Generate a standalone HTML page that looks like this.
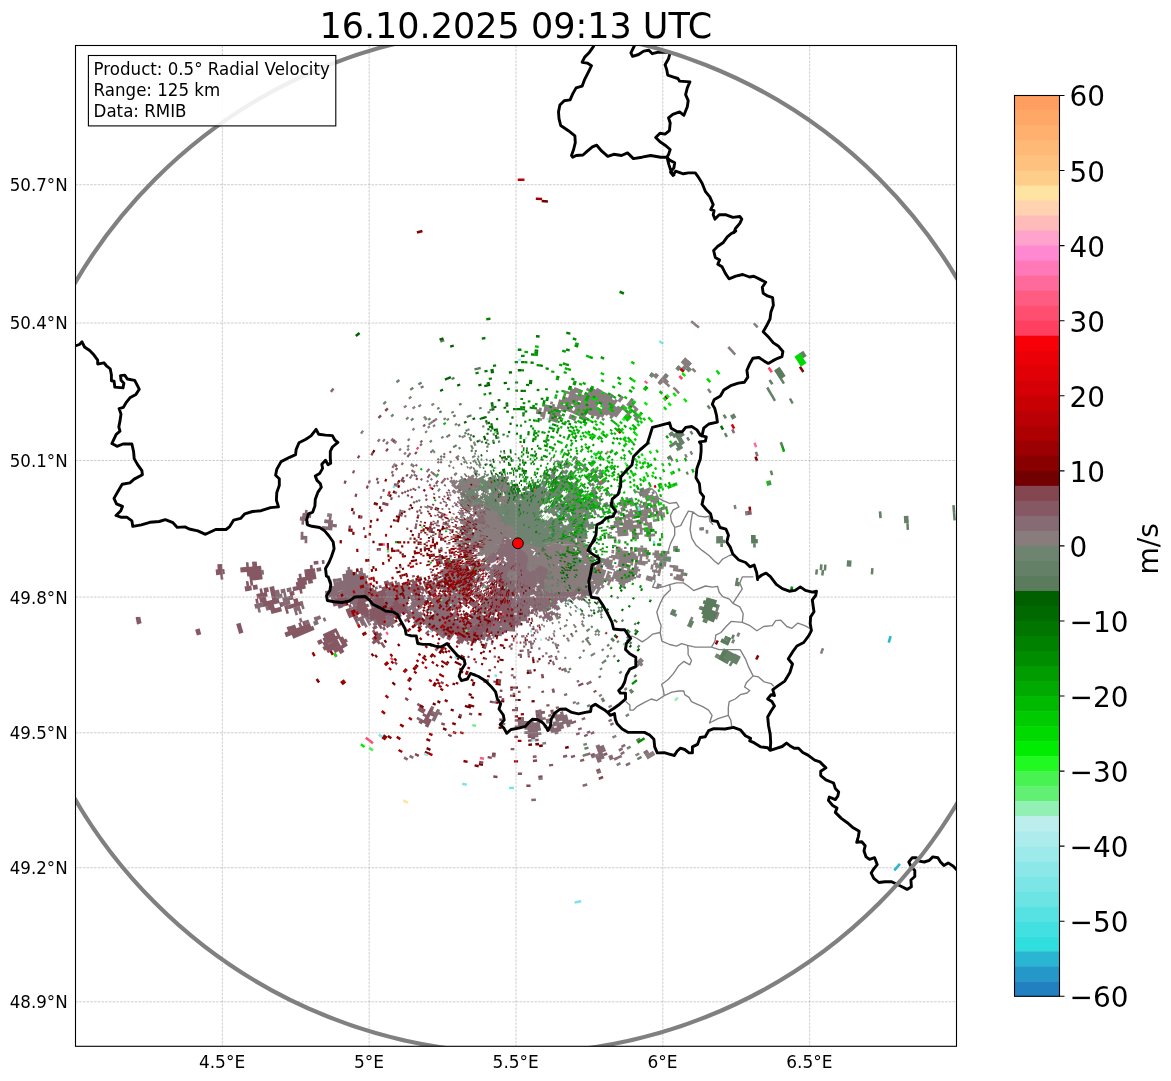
<!DOCTYPE html>
<html lang="en"><head><meta charset="utf-8"><title>Radial Velocity 16.10.2025 09:13 UTC</title>
<style>html,body{margin:0;padding:0;background:#fff}body{width:1171px;height:1081px;overflow:hidden}svg{display:block}text{font-family:"DejaVu Sans", "Liberation Sans", sans-serif;fill:#000}</style></head><body>
<svg width="1171" height="1081" viewBox="0 0 1171 1081">
<rect width="1171" height="1081" fill="#fff"/>
<defs><clipPath id="ax"><rect x="75.5" y="45.5" width="881.0" height="1000.8"/></clipPath></defs>
<g clip-path="url(#ax)">
<g fill="none">
<path d="M504.3 581.6l-0.9 2.5M503.7 581.4l-1 2.5M503 581.1l-1 2.5M502.3 580.9l-1 2.4M501.7 580.6l-1.1 2.4M501.9 578.4l-2 4.3M500.4 580l-1.1 2.4M499.8 579.7l-1.2 2.4M500.1 577.5l-2.2 4.2M498.5 579l-1.3 2.4M498.9 576.9l-2.3 4.1M498.3 576.6l-2.4 4" stroke="#865864" stroke-width="1.30"/>
<path d="M513.8 610.5l-0.3 4.6M512.8 608.3l-0.5 6.8M511.8 606.2l-0.8 8.7M511 604l-1.2 10.8M509.9 603.9l-1.4 10.8M509.2 601.7l-1.9 12.8M508.5 599.6l-2.5 14.7M507.5 599.4l-2.7 14.7M506.5 599.2l-3 14.6M506 597l-3.7 16.6M507.5 586.8l-5.9 24.5M506.7 586.6l-6.3 24.4M506.5 584.5l-7.8 28.2M505.8 584.2l-8.3 28.1M505.1 584l-8.8 27.9M504.3 583.8l-9.2 27.8M503.6 583.6l-9.7 27.6M502.9 583.3l-5.9 15.9M496.5 600.6l-3.8 10.1M502.2 583l-6.2 15.8M495.5 600.2l-3.2 8.2M501.6 582.8l-1.8 4.3M499.2 588.4l-6.5 15.7M500.9 582.5l-1.9 4.3M498.4 588.1l-5.9 13.7M500.2 582.2l-2 4.2M497.6 587.8l-6.2 13.5M499.5 581.8l-1.1 2.4M496.9 587.4l-2.9 6.1M493.3 594.8l-2.9 6.1M496.1 587l-3.9 7.9M490.6 598l-1.2 2.4M498.2 581.2l-1.2 2.3M495.3 586.6l-5 9.6M497.5 580.8l-1.2 2.4M495.6 584.4l-7.2 13.2M496.9 580.5l-1.3 2.3M494.9 584l-2.4 4.1M491.8 589.4l-1.3 2.3M489.8 592.9l-1.3 2.4M496.2 580.1l-1.3 2.3M493.1 585.4l-2.4 4M488.9 592.5l-1.3 2.2M492.4 585l-2.5 4M488.1 591.9l-1.4 2.3M493.9 581l-1.5 2.3M489.5 588l-1.5 2.2M487.3 591.4l-1.5 2.2M493.2 580.6l-1.5 2.2M489.8 585.7l-1.5 2.3M493.7 578.5l-2.6 3.9" stroke="#865864" stroke-width="1.30"/>
<path d="M517.2 618.8l0 8.8M516 616.7l-0.3 8.8M514.8 614.6l-0.7 14.9M513.5 614.5l-0.7 12.9M512.3 614.5l-1 12.8M511.1 614.4l-1.1 10.7M509.8 614.2l-1.2 10.8M508.6 614.1l-1.2 8.7M507.3 613.9l-1.6 10.7M506.1 613.7l-1.4 8.7M504.9 613.5l-1.6 8.6M503.7 613.2l-1.8 8.7M502.5 613l-2.4 10.6M501.2 612.7l-1.5 6.6M499.3 620.7l-0.6 2.5M500 612.4l-2.7 10.5M497.2 618l-1.3 4.5M495.9 617.6l-1.4 4.5M494.6 617.2l-2.7 8.4M495.3 611l-4.8 14.2M494.1 610.6l-1.6 4.4M492 616.4l-5 14.1M492.9 610.2l-1.6 4.4M490 617.8l-5.2 14M483.6 635.1l-0.9 2.5M491 611.6l-10 25.3M487.4 616.8l-8 19.5M485.4 618.2l-7.6 17.4M484.1 617.6l-7.9 17.3M481.9 618.8l-7.3 15.3M478.7 621.8l-5.7 11.6M476.4 623l-5 9.6M473.1 625.8l-3.2 6M470.6 626.8l-2.3 4.1M469.2 626l-2.4 4M466.7 626.9l-1.4 2.2M465.2 626l-1.4 2.2M475.3 603.1l-1.6 2.1M475.4 600.7l-4 5.4M474.4 599.9l-4.1 5.4M472.2 600.8l-2.9 3.6M471.2 600l-1.7 2M467.3 604.7l-1.7 2M467.6 602.2l-3.1 3.6M467.9 599.8l-4.5 5.1M462.5 606l-3.2 3.5M468.3 597.4l-1.8 2M464.1 602l-1.7 1.9M467.4 596.6l-1.9 1.9M460.3 604l-3.2 3.4M465 597.1l-3.3 3.4M459.3 603l-1.9 1.9M462.6 597.6l-4.8 4.8M437.1 598.8l-2.1 1.5M436.2 597.4l-2.2 1.5M436.1 593.4l-4 2.5M437 591l-5.8 3.4M436.2 589.5l-5.9 3.4M437.2 587.1l-7.8 4.2M434.6 586.7l-4.2 2.1M433.9 585.2l-4.2 2.1M431.3 584.6l-4.2 2M430.6 583.1l-4.3 1.9M428 582.4l-2.4 1" stroke="#865864" stroke-width="1.70"/>
<path d="M486.6 642.6l-1.4 4.5M482.9 637l-1 2.5M481.4 640.9l-0.9 2.4M481.2 636.4l-1.7 4.4M479.6 635.7l-1.8 4.4M478 635.1l-1.9 4.3M475.6 640.7l-1.1 2.4M476.4 634.3l-3.6 8M474.8 633.6l-3.8 7.9M473.3 632.8l-4 7.9M468.7 642l-1.2 2.4M471.7 632l-5 9.7M470.2 631.2l-5.2 9.6M468.6 630.4l-7.3 13M467.1 629.5l-8.6 14.6M465.6 628.6l-8.9 14.5M464.1 627.7l-6.9 10.9M462.7 626.7l-4.9 7.4M461.2 625.8l-4.9 7.2M459.8 624.8l-11.1 15.4M458.4 623.7l-11.3 15.3M457 622.7l-10.3 13.5M455.6 621.6l-11.8 14.9M454.3 620.5l-12.1 14.7M451.6 620.9l-9.7 11.4M450.2 619.8l-9.9 11.2M447.5 620.1l-7.3 8M436.3 629.2l-1.8 2M436.3 626.3l-4.7 4.9M434.9 624.9l-4.9 4.7M429 630.7l-3.3 3.2M432 624.9l-3.5 3.2M429 624.7l-3.4 3.2M421.6 625.6l-2 1.7M434.5 598.5l-2.2 1.5M431.8 598.2l-2.2 1.4M430.8 596.6l-4 2.5M431.7 594.1l-4.1 2.4M426.4 597.2l-5.8 3.4M430.8 592.6l-2.3 1.3M425.5 595.6l-5.9 3.3M418.3 599.6l-2.3 1.3M428.2 592l-2.4 1.3M422.8 594.9l-9.6 5.2M427.3 590.4l-2.3 1.3M423.7 592.3l-2.3 1.3M420.1 594.2l-6 3.1M426.5 588.9l-4.2 2.1M421 591.6l-9.7 4.8M423.9 588.1l-11.6 5.6M426.9 584.8l-2.5 1.1M423.1 586.5l-11.7 5.3M426.1 583.2l-2.4 1.1M420.5 585.6l-9.9 4.4M417.9 584.7l-8.1 3.4M421 581.5l-2.5 0.9M417.2 583l-6.3 2.4M420.3 579.8l-8.2 3.1M421.7 577.4l-4.5 1.5M413.9 580.1l-6.3 2.3M419.1 576.3l-2.5 0.9M414.7 575.8l-2.6 0.8" stroke="#865864" stroke-width="2.20"/>
<path d="M410.1 617.4l-5.5 3.8M410.6 614.3l-4 2.6M393.5 625.7l-2.2 1.4M409.3 612.5l-2.2 1.4M388.6 625.7l-2.2 1.4M408.1 610.6l-5.7 3.5M401.2 614.8l-5.8 3.6M385.4 624.5l-2.2 1.4M407 608.6l-14.6 8.7M384 622.1l-2.2 1.4M405.9 606.7l-16.6 9.4M386.3 617.8l-5.9 3.3M403 605.7l-23.9 13M401.9 603.7l-24.1 12.6M399 602.6l-22.5 11.2M398 600.5l-6.1 2.9M386.9 605.8l-11.6 5.5M385.9 603.5l-11.8 5.3M384.8 601.2l-9.9 4.3M385.7 598l-11.9 5M386.7 595l-13.9 5.5M385.8 592.7l-15.9 5.9M386.9 589.7l-17.9 6.3M386.1 587.4l-4.4 1.5M376.4 590.6l-8.3 2.8M393.2 582.6l-6.5 2.1M381.5 586.3l-2.6 0.8M377.6 587.6l-2.6 0.7M373.6 588.8l-6.4 2M388.6 581.6l-4.5 1.3M370.9 586.8l-4.5 1.4M370.2 584.3l-4.5 1.2" stroke="#865864" stroke-width="2.70"/>
<path d="M384.9 645.4l-2.1 1.6M383.1 643l-2.1 1.6M379.8 641.8l-2.2 1.6M381.4 637.1l-8.9 6.1M381.5 633.6l-9 5.9M385.2 627.9l-2.3 1.4M376.5 633.4l-2.2 1.4M382 626.6l-2.3 1.4M375 630.9l-2.3 1.4M382.3 623.2l-4.1 2.4M377 626.3l-4.1 2.4M380.9 620.8l-4.1 2.3M379.6 618.4l-4.1 2.2M378.3 616l-7.8 4M377 613.5l-9.7 4.9M375.8 611.1l-11.6 5.5M357.4 619.9l-2.4 1.1M374.7 608.6l-13.6 6.2M357.9 616.2l-4.3 2M367.9 608.5l-13.7 6M352.9 615l-4.3 1.9M368.7 605.1l-21.4 8.9M365.7 603.2l-10 4M350.5 609.2l-4.4 1.8M368.6 599.1l-12.1 4.6M351.3 605.6l-2.5 0.9M369.5 595.8l-12.1 4.3M346.4 604l-4.5 1.6M368.6 593.2l-8.3 2.8M349.2 599.7l-8.3 2.8M367.8 590.6l-4.5 1.4M348.3 596.8l-8.4 2.6M367 588l-2.6 0.8M341.5 595.6l-2.6 0.7" stroke="#865864" stroke-width="3.20"/>
<path d="M536.7 738.7l0.3 2.6M533.1 737l0.2 2.6M529.6 735.2l0.2 2.6M433 713.5l-1.1 2.4M430.3 719l-3.9 7.9M432 708.3l-7.9 15.1M425.2 714l-1.3 2.3M422.3 719.4l-2.3 4.1M424.3 708.8l-2.4 4.1M422.4 705.4l-3.4 5.8M419.6 703.7l-1.4 2.3M343.5 650.2l-4 2.4M336.6 654.4l-2.3 1.4M347 644l-12.9 7.6M347 640l-5.8 3.3M339.9 644l-9.4 5.3M343.6 637.9l-4.1 2.3M338.2 640.9l-9.5 5.2M340.1 635.8l-13.2 6.9M338.6 632.7l-2.4 1.2M334.9 634.5l-9.7 4.9M337 629.6l-13.5 6.4M342.5 605.4l-4.4 1.6M341.4 602.3l-8.3 2.8M340.4 599.3l-6.4 2M339.5 596.1l-2.5 0.8M331.6 581.2l-2.6 0.5M312.8 581.3l-4.6 0.9M316.2 577.1l-10.7 1.7M315.6 573.5l-10.7 1.6M321.2 569.2l-4.6 0.6M315.1 570l-10.7 1.4M312.7 566.7l-2.7 0.3M324.5 561.9l-2.6 0.3M318.4 562.5l-4.7 0.5" stroke="#865864" stroke-width="3.70"/>
<path d="M604.8 753l1 2.5M331 649l-4.1 2.4M329.2 645.8l-5.9 3.2M327.4 642.5l-4.1 2.1M325.7 639.1l-2.3 1.2M322.1 640.9l-4.2 2.1M313.8 627.8l-21.3 8.9M310.5 625l-19.6 7.7M305.2 622.8l-2.4 0.9M301.4 624.2l-2.5 1M295.7 626.4l-6.4 2.4M288.4 611.3l-2.5 0.7M301.1 603.4l-12.4 3.5M287.3 607.3l-2.6 0.7M298.1 600.1l-4.5 1.2M293.2 597.3l-2.6 0.6M302.3 591.1l-2.6 0.6M294.3 592.9l-4.6 1M305.5 586.5l-12.7 2.6M306.8 582.4l-10.7 2M306.1 578.7l-8.7 1.5M301.5 575.6l-2.7 0.4" stroke="#865864" stroke-width="4.20"/>
<path d="M291.4 632.5l-6.2 2.5M289.9 628.5l-2.5 1M281.4 608.9l-10.5 2.9M282.2 604.2l-2.5 0.7M274.3 606.3l-6.5 1.7M279.2 600.6l-16.5 4M276.3 596.9l-4.6 1M266.3 599.1l-6.6 1.4M258.3 600.9l-2.6 0.5M275.4 592.6l-4.6 1M267.3 594.3l-10.6 2.1M274.5 588.4l-4.6 0.9M268.5 589.5l-4.6 0.9M262.5 590.6l-2.6 0.5M257.6 586.9l-4.6 0.7M251.6 587.9l-2.6 0.4M252.9 582.9l-2.7 0.4M262.4 576.9l-12.8 1.7M261.8 572.5l-14.8 1.7M261.3 568l-14.8 1.4M256.9 563.8l-4.7 0.4M248.7 564.5l-2.6 0.2" stroke="#865864" stroke-width="4.70"/>
<path d="M249.5 588.2l-4.6 0.8M248.8 583.5l-2.6 0.4M223.1 576.9l-2.6 0.3M247.1 569.4l-6.7 0.6M224.6 571.5l-6.7 0.7M222.2 566.6l-4.7 0.3" stroke="#865864" stroke-width="5.20"/>
<path d="M218.5 572.1l-2.6 0.3" stroke="#865864" stroke-width="5.70"/>
<path d="M524.4 550.9l1.7 2M524.2 551l3 3.6M522.8 549.5l4.2 5.3M522.7 549.6l4.1 5.3M522.6 549.6l4 5.5M522.5 549.7l3.9 5.5M522.4 549.8l3.8 5.6M522.3 549.9l3.7 5.6M521 548.2l4.8 7.4M521 548.3l4.5 7.5M520.9 548.3l4.4 7.6M520.8 548.4l4.3 7.6M520.7 548.4l4.2 7.8M520.6 548.5l4.1 7.8M519.6 546.7l4.8 9.7M519.5 546.7l4.7 9.8M519.5 546.8l4.5 9.8M519.4 546.8l4.3 9.9M517.8 543l5.7 13.8M517.8 543l5.5 13.9M517.8 543l5.2 14M517.8 543l5 14.1M517.8 543l4.7 14.2M517.8 543l4.5 14.3M517.8 543l4.3 14.3M517.8 543l4 14.4M517.8 543l3.8 14.5M517.8 543l3.5 14.5M517.8 543l3.3 14.6M517.8 543l3 14.6M517.8 543l2.8 14.7M517.9 543l2.4 14.7M517.9 543l2.2 14.8M517.9 543l1.9 14.8M517.9 543l1.7 14.8M517.9 543l1.4 14.9M517.9 543l1.1 14.9M517.9 543l0.9 14.9M517.9 543l0.6 14.9M517.9 543l0.4 14.9M517.9 543l0.1 14.9M517.9 543l-0.1 14.9M517.9 543l-0.4 14.9M517.9 543l-0.6 14.9M517.9 543l-0.9 14.9M517.9 543l-1.1 14.9M517.9 543l-1.4 14.9M517.9 543l-1.7 14.8M517.9 543l-1.9 14.8M517.9 543l-2.2 14.8M517.9 543l-2.4 14.7M518 543l-2.8 14.7M518 543l-3 14.6M518 543l-3.3 14.6M518 543l-3.5 14.5M518 543l-3.8 14.5M518 543l-4 14.4M518 543l-4.3 14.3M518 543l-4.5 14.3M518 543l-4.7 14.2M518 543l-5 14.1M518 543l-5.2 14M518 543l-5.5 13.9M518 543l-5.7 13.8M518 543l-5.9 13.7M518 543l-6.2 13.6M518 543l-6.4 13.5M518 543l-6.6 13.4M518 543l-6.9 13.3M518 543l-7.1 13.2M518 543l-7.3 13M518.1 543l-7.6 12.9M518.1 543l-7.8 12.8M518.1 543l-8.1 12.6M518.1 543l-8.3 12.5M518.1 543.1l-8.5 12.3M518.1 543.1l-8.7 12.1M518.1 543.1l-8.9 12M518.1 543.1l-9.1 11.8M518.1 543.1l-9.3 11.7M518.1 543.1l-9.5 11.5M518.1 543.1l-9.7 11.3M518.1 543.1l-9.9 11.2M518.1 543.1l-10.1 11M518.1 543.1l-10.3 10.8M518.1 543.1l-10.5 10.6M518.1 543.1l-10.6 10.5M518.1 543.1l-10.8 10.3M518.1 543.1l-11 10.1M518.1 543.1l-11.2 9.9M518.1 543.1l-11.3 9.7M518.1 543.1l-11.5 9.5M518.1 543.1l-11.7 9.3M518.1 543.1l-11.8 9.1M518.1 543.1l-12 8.9M518.1 543.1l-12.1 8.7M518.1 543.1l-12.3 8.5M518.2 543.1l-12.5 8.3M518.2 543.1l-12.6 8.1M518.2 543.1l-12.8 7.8M518.2 543.1l-12.9 7.6M518.2 543.2l-13 7.3M518.2 543.2l-13.2 7.1M518.2 543.2l-13.3 6.9M518.2 543.2l-13.4 6.6M518.2 543.2l-13.5 6.4M518.2 543.2l-13.6 6.2M518.2 543.2l-13.7 5.9M518.2 543.2l-13.8 5.7M518.2 543.2l-13.9 5.5M518.2 543.2l-14 5.2M518.2 543.2l-14.1 5M518.2 543.2l-14.2 4.7M518.2 543.2l-14.3 4.5M518.2 543.2l-14.3 4.3M518.2 543.2l-14.4 4M518.2 543.2l-14.5 3.8M518.2 543.2l-14.5 3.5M518.2 543.2l-14.6 3.3M518.2 543.2l-14.6 3M518.2 543.2l-14.7 2.8M518.2 543.3l-14.7 2.4M518.2 543.3l-14.8 2.2M518.2 543.3l-14.8 1.9M518.2 543.3l-14.8 1.7M518.2 543.3l-14.9 1.4M518.2 543.3l-14.9 1.1M518.2 543.3l-14.9 0.9M518.2 543.3l-14.9 0.6M518.2 543.3l-14.9 0.4M518.2 543.3l-14.9 0.1M518.2 543.3l-14.9-0.1M518.2 543.3l-14.9-0.4M518.2 543.3l-14.9-0.6M518.2 543.3l-14.9-0.9M516.2 543.2l-12.9-1M514.1 542.9l-10.8-1M514.1 542.9l-10.7-1.3M514.1 542.8l-10.7-1.4M512.1 542.4l-8.7-1.3M514.2 542.7l-10.7-1.8M514.2 542.6l-10.7-2M514.2 542.5l-10.6-2.1M512.2 542l-6.6-1.4M512.2 541.9l-6.5-1.5M512.2 541.8l-6.5-1.7M512.3 541.7l-6.5-1.8M512.3 541.6l-6.5-1.9M512.3 541.5l-6.4-2M512.4 541.4l-6.4-2.1M512.4 541.3l-6.4-2.2M510.5 540.5l-2.5-0.9M510.6 540.4l-2.5-1M506.7 538.9l-2.4-1M510.6 540.3l-2.4-1M506.8 538.7l-2.4-1M510.7 540.2l-6.2-2.7M508.9 539.2l-4.3-2M508.9 539l-4.2-2M509 538.9l-4.2-2.1M509.1 538.7l-4.2-2.2M509.2 538.6l-4.2-2.3M509.2 538.4l-4-2.3" stroke="#866A74" stroke-width="1.30"/>
<path d="M543.8 566.2l5 4.4M541.8 565.2l6.5 6M541.5 565.6l7.8 7.5M539.6 564.6l9.2 9.1M539.2 565l9.1 9.2M538.8 565.4l8.9 9.3M538.5 565.7l8.7 9.5M538.1 566.1l8.5 9.6M537.7 566.4l8.3 9.8M537.2 566.8l8.2 9.9M526.6 554.3l1.7 2.1M536.8 567.1l8.1 10.1M526.4 554.4l1.7 2.1M536.4 567.4l7.9 10.3M526.2 554.6l2.8 3.8M536 567.8l7.7 10.3M526.1 554.7l2.7 3.9M535.6 568.1l7.4 10.5M525.9 554.9l2.6 3.8M535.1 568.4l7.3 10.6M525.6 555l2.6 3.9M534.7 568.7l7.1 10.7M525.4 555.1l3.7 5.7M534.2 569l7 10.8M525.2 555.3l3.6 5.7M534.9 571l5.6 9.2M525 555.4l3.4 5.8M533.3 569.5l6.6 11.1M524.8 555.5l3.3 5.9M532.9 569.8l6.3 11.2M524.6 555.6l4.2 7.8M532.4 570l6.2 11.4M524.4 555.8l4 7.7M531.9 570.3l6 11.4M524.2 555.9l3.9 7.8M531.5 570.5l5.7 11.6M523.9 556l3.8 7.9M531 570.8l5.5 11.6M523.7 556.1l3.7 8M530.5 571l5.4 11.7M523.5 556.2l4.3 9.9M530 571.2l5.2 11.8M523.3 556.3l4.1 10M529.5 571.4l5 11.9M523 556.4l4.8 12M528.3 569.7l5.5 13.9M522.8 556.4l4.5 12.1M527.8 569.9l5.3 14M522.6 556.5l9.8 27.6M522.4 556.6l9.2 27.8M522.1 556.7l8.8 27.9M521.9 556.8l8.3 28M521.7 556.8l7.8 28.2M521.4 556.9l7.3 28.3M521.2 556.9l6.8 28.5M520.9 557l6.4 28.6M520.7 557.1l5.8 28.6M520.5 557.1l5.3 28.8M520.2 557.1l4.8 28.9M520 557.2l4.3 28.9M519.7 557.2l3.9 29M519.5 557.2l3.3 29.1M519.2 557.3l2.9 29.1M519 557.3l2.3 29.2M518.8 557.3l1.7 29.2M518.5 557.3l1.3 29.3M518.3 557.3l0.7 29.3M518 557.3l0.3 29.3M517.8 557.3l-0.3 29.3M517.5 557.3l-0.7 29.3M517.3 557.3l-0.8 19M516.4 577.8l-0.4 8.8M517 557.3l-1 17M515.8 577.8l-0.5 8.7M516.8 557.3l-1.3 16.9M515 579.8l-0.5 6.7M516.6 557.3l-1.5 14.8M514.4 579.7l-0.7 6.7M516.3 557.2l-1.9 16.9M513.8 579.6l-0.8 6.7M516.1 557.2l-2 14.8M513.1 579.6l-0.9 6.6M515.8 557.2l-2.2 14.8M512.5 579.5l-1 6.6M515.6 557.1l-2.5 14.8M511.9 579.4l-1.1 6.6M515.3 557.1l-2.7 14.7M511.6 577.2l-1.6 8.7M515.1 557.1l-3 14.6M510.6 579.1l-0.9 4.6M514.9 557l-3.3 14.6M510 579l-1.5 6.6M514.6 556.9l-3.5 14.6M509.4 578.9l-1.6 6.5M514.4 556.9l-3.8 14.4M509.3 576.7l-2.2 8.5M514.1 556.8l-3.9 14.4M508.7 576.6l-2.4 8.4M513.9 556.8l-4.2 14.3M508.1 576.4l-2.5 8.4M513.7 556.7l-4.5 14.2M507.5 576.2l-2.6 8.4M513.4 556.6l-5.3 16.1M507.6 574.1l-3.4 10.3M513.2 556.5l-9.1 25.7M513 556.4l-9.5 25.5M512.8 556.4l-10 25.3M512.5 556.3l-10.4 25.1M512.3 556.2l-10.9 24.9M512.1 556.1l-10.5 22.9M511.9 556l-11.8 24.5M511.6 555.9l-12.1 24.3M511.4 555.8l-11.6 22.3M511.2 555.6l-13 24M511 555.5l-3.3 5.9M507 562.6l-8.4 14.8M510.8 555.4l-3.4 5.8M506.6 562.5l-8.6 14.6M510.6 555.3l-3.6 5.7M506.3 562.3l-10 16.2M510.4 555.1l-2.6 4M506 562l-1.5 2.3M503.8 565.5l-8.1 12.6M510.2 555l-2.6 3.9M505.6 561.8l-1.4 2.2M502.2 567l-7.1 10.7M509.9 554.9l-3.8 5.5M505.3 561.6l-1.5 2.2M503 565l-8.5 12.3M509.7 554.7l-3.9 5.5M505 561.4l-1.5 2.2M502.6 564.7l-8.7 12.2M509.6 554.6l-2.8 3.8M504.7 561.2l-1.6 2.1M502.2 564.5l-10.1 13.6M509.4 554.4l-2.9 3.8M504.4 560.9l-1.6 2.1M501.9 564.2l-10.4 13.5M509.2 554.3l-3 3.7M504.1 560.7l-13.2 16.5M509 554.1l-3 3.7M503.8 560.5l-13.4 16.2M508.8 554l-3.1 3.5M503.5 560.2l-13.7 16M508.6 553.8l-3.1 3.5M503.2 559.9l-1.8 2M500.5 563l-9.9 11.2M508.4 553.6l-3.2 3.5M504.3 558.2l-3.2 3.4M500.1 562.7l-10.1 11M508.2 553.5l-3.2 3.4M504 557.9l-3.2 3.4M497 565.4l-7.5 7.8M508.1 553.3l-3.3 3.4M503.8 557.7l-1.9 1.9M496.6 565l-7.6 7.7M507.9 553.1l-3.4 3.3M503.5 557.4l-1.9 1.9M496.2 564.6l-3.3 3.3M491.8 568.9l-1.9 1.9M507.7 553l-3.4 3.2M503.3 557.2l-2 1.8M495.8 564.2l-1.9 1.9M491.4 568.5l-1.9 1.8M507.6 552.8l-8 7.3M495.5 563.9l-8 7.3M507.4 552.6l-8.1 7.2M493.6 564.8l-2 1.8M490.5 567.5l-3.5 3.1M507.2 552.4l-8.2 7.1M490.1 567l-3.6 3.1M507.1 552.2l-8.4 6.9M506.9 552l-10.1 8.1M489.3 566.1l-5.3 4.2M506.8 551.8l-13.5 10.4M490.5 564.3l-7 5.4M506.6 551.6l-15.3 11.4M490.2 563.8l-7.1 5.3M506.5 551.5l-23.9 16.9M506.3 551.3l-7.2 4.9M497.9 557.1l-15.7 10.7M506.2 551l-7.3 4.9M495.9 557.8l-9 6M485.7 564.6l-3.9 2.6M506.1 550.8l-7.5 4.8M497.4 556.3l-10.8 7M485.3 564l-2.2 1.5M505.9 550.6l-7.5 4.6M497.2 556l-9.2 5.6M505.8 550.4l-7.6 4.5M495.2 556.7l-9.3 5.5M505.7 550.2l-7.7 4.3M495 556.3l-9.4 5.3M505.6 550l-7.8 4.2M496.6 554.9l-11.4 6.1M505.4 549.8l-20.5 10.7M505.3 549.6l-18.8 9.4M505.2 549.3l-19 9.1M505.1 549.1l-17.3 7.9M505 548.9l-17.4 7.6M504.9 548.7l-8.1 3.3M495.5 552.6l-6.3 2.6M504.8 548.4l-8.1 3.3M495.3 552.2l-4.4 1.7M504.8 548.2l-8.3 3.1M495.2 551.8l-2.5 0.9M504.7 548l-10.2 3.6M504.6 547.8l-10.3 3.4M504.5 547.5l-6.4 2M504.4 547.3l-6.4 1.9M478.9 554.8l-2.5 0.8M504.4 547.1l-6.5 1.8M480.7 553.6l-2.6 0.7M504.3 546.8l-6.5 1.7M480.5 553l-2.5 0.6M504.3 546.6l-6.6 1.6M480.4 552.3l-2.6 0.6M504.2 546.3l-4.6 1.1M504.1 546.1l-4.6 0.9M504.1 545.9l-4.6 0.8M504.1 545.6l-4.7 0.8M504 545.4l-4.6 0.7M504 545.1l-4.7 0.6M481.6 548.1l-2.6 0.3M504 544.9l-4.7 0.5M503.9 544.6l-4.6 0.5M479.5 547l-4.7 0.5M503.9 544.4l-4.7 0.4M479.4 546.3l-4.7 0.4M503.9 544.2l-4.7 0.2M479.4 545.7l-4.7 0.2M503.9 543.9l-4.7 0.2M479.3 545l-4.7 0.2M503.9 543.7l-2.7 0M479.3 544.3l-4.7 0.1M503.9 543.4l-2.7 0M479.3 543.6l-4.7 0.1M503.9 543.2l-2.7 0M477.2 542.9l-2.6 0M503.9 542.9l-2.7 0M477.3 542.2l-2.7 0M503.9 542.7l-2.7-0.1M503.9 542.4l-4.7-0.2M503.9 542.2l-2.6-0.2M503.9 542l-2.6-0.3M504 541.7l-4.7-0.5M504 541.5l-2.6-0.4M504 541.2l-2.6-0.4M504.1 541l-4.7-0.8M504.1 540.7l-2.6-0.4M504.1 540.5l-2.5-0.5M504.2 540.3l-2.6-0.6M504.3 540l-2.6-0.6M504.3 539.8l-2.6-0.7M504.4 539.5l-2.6-0.7M504.4 539.3l-2.5-0.7M504.5 539.1l-2.5-0.8M504.6 538.8l-2.5-0.8M504.7 538.6l-2.5-0.9M504.8 538.4l-4.4-1.7M504.8 538.2l-4.3-1.8M504.9 537.9l-2.4-1M505 537.7l-2.4-1.1M505.1 537.5l-2.4-1.1M505.2 537.3l-2.4-1.2M505.3 537l-2.3-1.1M505.4 536.8l-2.3-1.2M481.8 524.5l-2.3-1.2M484 524.9l-4.2-2.3M505.7 536.4l-2.3-1.3M484.3 524.3l-4.1-2.3M486.4 524.7l-5.8-3.4M485 523.1l-4-2.4M487.1 523.7l-5.7-3.7M487.4 523.1l-5.6-3.7M486.1 521.4l-3.9-2.6M486.5 520.9l-3.9-2.7M485.2 519.1l-2.1-1.6" stroke="#866A74" stroke-width="1.30"/>
<path d="M568.2 591l1.9 1.8M567.4 591.9l1.8 1.9M565.1 591.3l3.3 3.3M547.3 574.3l1.8 1.9M562.8 590.6l4.6 4.9M562 591.4l4.5 5M546.2 575.3l1.8 2M559.8 590.6l5.8 6.6M545.6 575.8l1.8 2M558.9 591.3l5.7 6.7M545.1 576.3l1.6 2M558.1 592.1l5.6 6.7M544.5 576.7l1.6 2.1M556 591.1l6.7 8.5M543.9 577.2l1.6 2.1M555.1 591.8l6.6 8.6M543.3 577.6l1.6 2.2M554.3 592.4l6.4 8.8M542.7 578.1l1.5 2.1M553.4 593.1l5.1 7.1M542.1 578.5l2.6 3.9M551.4 592l6.1 8.9M541.5 578.9l3.7 5.6M550.5 592.6l7.1 10.7M540.8 579.3l3.7 5.7M548.5 591.4l8.1 12.6M540.2 579.7l4.6 7.5M547.7 591.9l7.8 12.8M539.6 580.1l5.5 9.3M545.8 590.7l8.6 14.6M538.9 580.5l14.4 25.4M538.3 580.8l13.9 25.8M537.6 581.2l1.2 2.3M539.5 584.8l2.2 4.2M544.2 593.9l6.9 13.2M538.8 585.2l10.3 20.7M536.3 581.8l1.1 2.4M538 585.5l10.9 22.8M535.6 582.2l1.1 2.4M537.3 585.9l10.4 22.9M534.9 582.5l11.7 26.8M534.2 582.8l1.8 4.3M536.6 588.4l8.8 21.4M533.6 583l1.7 4.4M536.6 590.7l7.7 19.6M532.9 583.3l1.6 4.4M535.7 591l7.4 19.7M532.2 583.6l1.5 4.4M534.2 589.3l7.7 21.9M531.5 583.8l4 12.2M536 597.4l4.7 14.2M530.7 584l3.3 10.4M535.1 597.7l4.4 14.2M530 584.2l3.1 10.4M533.5 596l4.3 14.4M529.3 584.5l2.9 10.4M532.6 596.3l4.5 16.4M528.6 584.6l2.7 10.5M531.7 596.5l4.2 16.5M527.9 584.8l2.5 10.6M530.7 596.8l3.5 14.5M527.1 585l5 22.6M532.5 609l1 4.6M526.4 585.2l4.2 20.6M531.7 611.2l0.6 2.6M525.7 585.3l4.2 22.7M530.5 611.5l0.5 2.6M524.9 585.4l4.9 28.9M524.2 585.5l4.3 29M523.5 585.6l3.8 29.1M522.7 585.7l3.3 29.1M522 585.8l2.8 29.1M521.3 585.9l2.2 29.2M520.5 585.9l1.8 29.2M519.8 586l0.4 10.8M520.3 598.2l0.7 17M519 586l0.2 6.7M519.3 596.2l0.5 19.1M518.3 586l0 6.8M518.4 596.2l0.1 19.1M517.5 586l-0.2 29.3M516.8 586l-0.4 12.9M516.4 600.3l-0.3 12.9M516 586l-0.3 8.8M515.6 596.2l-0.8 17M515.3 585.9l-1.5 25.2M514.5 585.9l-0.6 8.7M513.6 598.1l-0.9 10.8M513.8 585.8l-0.8 8.8M512.6 598l-0.8 8.8M513.1 585.7l-2.2 18.9M512.3 585.6l-2.5 18.9M511.6 585.5l-2.5 16.8M510.9 585.4l-2.5 14.8M510.1 585.3l-2.7 14.7M509.4 585.2l-3 14.6M508.7 585l-2.8 12.6M507.9 584.8l-0.6 2.6M507.2 584.6l-0.7 2.6M492.5 607.8l-1 2.5M492.9 603.6l-2.5 6.2M492.7 601.2l-1.9 4.4M491.7 600.8l-3.6 8M490.7 600.3l-3.8 8M489.7 599.8l-3.9 7.9M489.7 597.5l-5 9.6M488.7 597l-5.1 9.6M487.8 596.5l-5.3 9.4M485.8 597.7l-4.4 7.6M484.9 597.2l-3.5 5.7M483.9 596.6l-3.6 5.7M488.7 587.5l-3.7 5.6M484.2 594.3l-3.8 5.6M489.1 585.2l-2.7 3.9M483.3 593.7l-3.8 5.5M493.1 578.1l-2.7 3.8M488.3 584.7l-2.7 3.9M482.4 593.1l-3.9 5.5M492.5 577.6l-2.8 3.8M486.4 585.9l-1.6 2.1M481.5 592.4l-5.2 7.1M491.9 577.2l-4.1 5.3M485.7 585.3l-1.6 2.1M480.7 591.8l-5.4 7M491.3 576.7l-1.6 2.1M484.9 584.7l-2.9 3.7M478.6 592.8l-4.2 5.2M490.7 576.3l-1.6 2M484.2 584.2l-1.7 2M480.3 588.9l-1.7 2M477.7 592.1l-3 3.6M490.2 575.8l-3.1 3.5M484.8 582l-7 8.2M476.9 591.3l-3.1 3.6M482.8 583l-3.1 3.5M478.7 587.6l-3.1 3.5M482.1 582.3l-1.8 2M478 586.9l-3.2 3.4M473.8 591.4l-1.8 1.9M471.1 594.4l-1.8 2M484.3 578.7l-1.9 2M481.5 581.7l-1.9 1.9M477.2 586.2l-3.2 3.4M473 590.6l-1.8 1.9M470.2 593.6l-1.8 1.9M482.2 579.6l-1.8 1.9M476.5 585.4l-1.9 1.9M472.2 589.8l-1.9 1.9M469.3 592.8l-1.9 1.8M487.4 573.2l-1.9 1.9M481.6 579l-3.4 3.3M475.8 584.7l-3.4 3.3M471.4 589l-1.9 1.9M468.4 591.9l-1.8 1.9M486.9 572.7l-1.9 1.8M481 578.3l-3.4 3.3M475 584l-9.3 8.8M480.4 577.7l-5 4.5M472.8 584.6l-8 7.3M481.3 575.7l-17.3 15.3M480.8 575l-17.6 15M480.2 574.4l-3.6 3M475.5 578.3l-13.1 10.8M484.5 569.9l-2.1 1.6M479.7 573.7l-2.1 1.7M474.9 577.5l-13.3 10.6M484 569.3l-2.1 1.6M479.1 573l-2.1 1.7M474.3 576.8l-13.5 10.3M483.6 568.7l-2.2 1.6M478.6 572.4l-18.6 13.7M483.1 568.1l-3.8 2.7M478.1 571.7l-3.8 2.7M473.1 575.2l-13.8 9.9M482.7 567.5l-3.9 2.6M477.6 571l-19 13.1M482.3 566.9l-24.4 16.1M480.2 567.3l-23 14.7M478 567.8l-21.5 13.1M479.3 566l-23.4 13.8M477.2 566.3l-21.9 12.4M476.8 565.6l-6 3.3M469.6 569.5l-15 8.1M476.4 564.9l-6 3.1M469.1 568.7l-15 7.8M476 564.2l-4.2 2.1M468.7 567.8l-15.2 7.6M475.7 563.4l-6.1 3M468.3 567l-15.4 7.3M477.2 561.9l-24.8 11.2M475 562l-23.1 10M474.7 561.2l-23.3 9.6M474.4 560.5l-10.1 3.9M461 565.7l-10.1 4M474.1 559.7l-10.2 3.8M458.7 565.4l-8.2 3.1M477.6 557.6l-2.5 0.8M473.8 558.9l-6.4 2.3M458.3 564.4l-8.3 2.9M477.4 556.9l-2.5 0.8M473.5 558.2l-6.4 2.1M456 564l-6.4 2.1M477.2 556.1l-2.6 0.8M473.3 557.4l-6.5 2M457.6 562.3l-8.3 2.6M477 555.4l-10.4 3.1M459.3 560.7l-10.4 3M474.8 555.3l-10.5 2.9M462.9 558.5l-14.4 4M472.6 555l-4.6 1.2M466.6 556.6l-2.5 0.6M462.7 557.6l-10.5 2.7M450.8 560.7l-2.6 0.6M472.4 554.2l-8.6 2.1M462.4 556.6l-4.5 1.1M450.5 559.5l-2.6 0.6M474.2 553l-10.6 2.3M450.2 558.3l-2.6 0.6M472 552.6l-8.6 1.8M452 556.7l-2.6 0.5M475.9 551.1l-2.6 0.5M471.9 551.8l-8.7 1.6M475.8 550.3l-12.7 2.2M475.7 549.6l-14.8 2.2M475.6 548.9l-16.9 2.2M475.5 548.1l-16.9 2M475.4 547.4l-16.9 1.6M475.3 546.7l-16.9 1.3M475.3 545.9l-8.8 0.5M465.1 546.5l-6.8 0.4M475.2 545.2l-4.7 0.2M469.1 545.4l-2.7 0.1M465 545.6l-2.6 0.1M475.2 544.4l-4.7 0.1M469.1 544.6l-2.7 0M475.2 543.7l-4.7 0M475.2 542.9l-4.7 0M475.2 542.2l-2.6-0.1M472 521.4l-2.4-1.2M477.8 523.3l-9.7-4.8M480 523.6l-11.4-6M480.4 522.9l-6-3.2M473.2 519l-4.2-2.2M480.7 522.3l-5.8-3.4M473.6 518.2l-4.1-2.3M481.1 521.6l-5.8-3.4M472.3 516.4l-2.3-1.3M481.5 521l-4-2.5M474.5 516.7l-4-2.4M481.9 520.4l-4-2.6M475 516l-2.3-1.5M482.3 519.7l-5.6-3.7M475.5 515.2l-2.3-1.5M482.7 519.1l-8.9-6.1M483.1 518.5l-8.8-6.3M483.6 517.9l-5.5-4" stroke="#866A74" stroke-width="1.30"/>
<path d="M585.2 589.5l3.8 2.7M577.7 585.9l13.8 9.9M576.9 587l12 8.9M576.2 588l10.2 7.8M575.4 589l10.1 8M574.6 590l5.2 4.3M580.9 595.2l3.6 3M572.2 589.7l5.1 4.3M580 596.3l3.5 3.1M572.9 592l3.5 3.1M577.5 596l5 4.5M570.5 591.5l5 4.6M576.6 597.1l1.9 1.7M569.7 592.4l6.4 6.1M568.8 593.3l6.3 6.2M567.9 594.2l6.2 6.3M567 595.1l1.9 1.9M566.1 595.9l1.8 2M570.3 600.5l1.8 1.9M565.2 596.8l1.8 1.9M567.9 599.8l1.8 2M564.3 597.6l3 3.5M563.3 598.4l3 3.6M562.3 599.2l1.7 2M561.4 599.9l1.6 2.1M560.4 600.7l1.5 2.1M558.5 607l1.4 2.2M555.2 604.2l3.5 5.7M554.1 604.8l3.5 5.8M553 605.4l2.4 4.1M557.1 612.6l1.3 2.3M552 606l1.2 2.4M555.9 613.2l1.2 2.4M553.7 612.1l2.2 4.1M551.6 610.8l2.1 4.2M550.4 611.4l2 4.3M547.5 608.3l1.1 2.4M549.2 612l1.1 2.4M550.9 615.7l1.1 2.4M546.4 608.8l1 2.4M548 612.5l3.5 8.1M545.2 609.2l4.9 12M544.1 609.7l0.9 2.5M545.6 613.5l2.4 6.3M542.9 610.2l0.9 2.4M544.3 614l1.7 4.4M543.8 616.4l0.9 2.5M542.5 616.8l1.5 4.5M540.6 615.3l0.8 2.5M539.3 615.7l0.8 2.5M537 612.1l0.7 2.5M528.5 613.9l0.3 2.6M530 624l0.4 2.6M527.2 614.1l0.4 2.6M528 620.2l0.4 2.6M526 614.2l1 8.8M524.7 614.4l0.7 6.7M523.5 614.5l0.5 6.7M522.3 614.5l0.4 6.8M521 614.6l0.3 6.7M521.4 622.8l0.1 2.6M519.8 614.7l0.3 10.8M518.5 614.7l0.1 10.8M517.3 614.7l-0.1 4.7M516 614.7l0 2.6M514.2 628.9l-0.2 2.7M512.8 626.8l-0.3 4.7M511.3 626.7l-0.3 4.7M510.1 624.5l-0.7 6.8M508.7 624.4l-0.8 6.7M507.5 622.2l-1.1 8.7M505.8 624l-1.3 8.7M504.8 621.8l-1.8 10.7M503.4 621.5l-2.7 14.7M502 621.3l-0.9 4.6M500.8 627.3l-1.7 8.6M500.2 623l-3.2 14.6M498.8 622.7l-3.4 14.5M497.5 622.3l-3.8 14.5M496.1 622l-3.5 12.4M491.7 637.7l-0.7 2.6M494.7 621.6l-3.6 12.3M490.6 635.3l-1.3 4.5M492.1 625l-2.6 8.4M489 634.8l-1.4 4.5M490.7 624.6l-2.8 8.3M487.5 634.3l-0.9 2.5M487.2 629.9l-2.9 8.3M485 631.3l-1.6 4.4M491.7 609.7l-0.9 2.5M490.6 609.2l-3.4 8.2M489.4 608.8l-4.3 9.9M487.4 610.1l-1.9 4.3M484.9 615.7l-1.1 2.4M487.2 607.7l-2.9 6.1M483.6 615.1l-2 4.3M486.1 607.2l-3.1 6M482.4 614.5l-3.9 7.9M484.9 606.6l-8.7 16.9M483.8 606l-11 20.4M482.8 605.4l-12.4 21.9M481.7 604.8l-4.5 7.6M476.5 613.6l-7.6 12.9M479.5 605.9l-13.1 21.5M478.4 605.2l-8 12.6M469.6 619l-4.7 7.5M478.5 602.8l-3.7 5.6M474 609.7l-1.5 2.2M471.7 613.1l-2.6 3.9M468.3 618.2l-6 9M477.5 602.1l-3.8 5.6M469.3 613.9l-8.4 12.3M476.4 601.4l-1.5 2.2M474.1 604.7l-1.6 2.2M468.1 613.1l-3.9 5.5M463.4 619.8l-3.9 5.4M466.9 612.2l-2.8 3.8M463.3 617.1l-5.3 7.1M464.5 612.9l-1.6 2.1M460.7 617.8l-4.1 5.4M459.4 616.8l-4.2 5.3M472.5 598.4l-1.7 2M458.2 615.8l-1.7 2M455.6 618.9l-1.7 2.1M471.5 597.6l-1.7 2M458.2 613.2l-5.7 6.6M470.6 596.8l-1.8 1.9M457 612.1l-5.8 6.6M469.7 595.9l-1.8 2M457.2 609.5l-7.3 8M468.8 595.1l-1.9 1.9M456.1 608.4l-1.8 2M451.8 612.9l-3.2 3.4M467.9 594.2l-3.3 3.4M457.8 604.4l-4.7 4.8M450.6 611.7l-3.2 3.4M467 593.3l-4.8 4.8M458.2 601.9l-12.1 11.9M466.1 592.4l-21.2 20.2M465.3 591.5l-21.6 19.8M464.4 590.6l-21.9 19.4M463.6 589.7l-22.2 19M462.8 588.7l-22.6 18.6M462 587.7l-5.2 4.2M455.6 592.8l-16.5 13.2M461.3 586.8l-8.6 6.6M449.9 595.5l-11.9 9.1M460.5 585.8l-10.3 7.6M449 594.3l-12 8.9M459.8 584.8l-12.2 8.6M446.4 594.3l-10.4 7.4M459.1 583.7l-12.3 8.5M445.6 593l-9 6.1M458.4 582.7l-15.9 10.5M441.3 594l-2.2 1.5M457.7 581.7l-16.1 10.2M457 580.6l-9.2 5.7M446.6 587l-4 2.5M456.4 579.5l-16.4 9.7M455.8 578.4l-18.4 10.4M455.2 577.4l-11.4 6.1M442.6 584.2l-6 3.2M454.6 576.3l-15.1 7.8M438.2 584.8l-4.1 2.1M454 575.1l-20.7 10.4M453.5 574l-17.2 8.2M435 582.8l-4.3 2.1M452.9 572.9l-9.8 4.5M438 579.7l-2.4 1.1M434.3 581.4l-4.3 1.9M452.4 571.8l-11.8 5.1M439.3 577.5l-4.3 1.9M431.8 580.7l-2.4 1.1M452 570.6l-10.1 4.2M438.7 576.1l-6.2 2.6M429.2 580l-2.4 1M451.5 569.5l-12 4.7M451 568.3l-8.2 3.1M450.6 567.1l-10.2 3.6M450.2 565.9l-6.4 2.2M449.8 564.8l-4.5 1.4M449.5 563.6l-6.5 1.9M449.1 562.4l-6.5 1.8M448.8 561.2l-4.6 1.1M442.8 562.7l-2.5 0.7M448.5 560l-2.6 0.6M442.5 561.4l-2.6 0.6M442.2 560.1l-4.6 1M441.9 558.8l-6.6 1.3M445.7 556.7l-6.6 1.2M441.4 556.1l-2.6 0.4" stroke="#866A74" stroke-width="1.70"/>
<path d="M492.3 642.1l-0.6 2.6M487.8 638.7l-0.8 2.5M484.5 637.6l-0.9 2.5M444.1 636l-1.6 2.1M442.5 634.7l-1.6 2.1M452.9 619.4l-1.7 2M442.3 631.8l-3.1 3.6M451.6 618.2l-1.8 2M440.7 630.5l-3.1 3.5M450.3 617.1l-3.2 3.4M440.6 627.6l-4.5 5M449 615.9l-13.1 13.8M447.8 614.7l-11.9 12.1M446.5 613.4l-12.1 11.9M445.3 612.2l-13.8 13.1M444.1 610.9l-15.5 14.2M443 609.6l-17.4 15.3M441.8 608.3l-17.6 15M440.7 606.9l-6.8 5.6M431.2 614.8l-6.8 5.5M423.3 621.3l-5.2 4.3M439.6 605.6l-6.9 5.5M426.8 615.8l-2.1 1.6M423.6 618.3l-6.9 5.5M438.5 604.2l-11.8 9.1M422.3 616.7l-7 5.3M437.5 602.8l-3.8 2.8M432.5 606.5l-7 5.2M424.3 612.6l-10.4 7.6M436.4 601.4l-3.8 2.7M421.4 612.1l-8.8 6.3M435.4 600l-3.8 2.6M430.4 603.5l-2.2 1.4M418.6 611.6l-7.3 4.9M432.8 599.7l-2.2 1.4M422.5 606.4l-12.4 8.3M430.1 599.3l-2.3 1.4M426.6 601.5l-9.1 5.8M416.2 608.1l-3.9 2.5M411.1 611.4l-2.3 1.4M425.6 599.9l-18 11M421.1 600.3l-14.6 8.6M416.6 600.6l-5.9 3.4M407.6 605.7l-2.3 1.3M413.8 599.8l-2.4 1.3M408.4 602.8l-4.2 2.2M414.6 597.1l-4.1 2.1M409.2 599.9l-6 3.1M411.9 596.2l-9.7 4.8M411 594.3l-9.8 4.7M411.9 591.6l-11.7 5.3M411.1 589.7l-11.8 5.2M410.3 587.9l-11.9 4.9M409.6 586l-12 4.7M406.9 584.8l-10.1 3.8M404.3 583.5l-2.5 0.9M400.4 584.9l-4.4 1.6M399.7 582.8l-4.4 1.5" stroke="#866A74" stroke-width="2.20"/>
<path d="M589.6 681.1l1.3 2.3M587.2 682.3l1.2 2.4M417.2 623.4l-2.1 1.7M415.8 621.7l-2.1 1.6M411.8 616.2l-2.2 1.5M400 624.3l-2.2 1.5M395.5 621.3l-7.4 4.7M394.2 619.1l-9.3 5.7M392.9 616.9l-9.4 5.5M389.8 615.8l-4.1 2.3M404.8 604.7l-2.4 1.3M403.7 602.7l-2.3 1.3M402.7 600.7l-4.2 2.1M401.7 598.7l-4.2 2M392.5 603.1l-6.1 2.9M400.8 596.7l-15.5 7M399.9 594.6l-15.6 6.8M375.4 605.2l-2.4 1.1M399 592.6l-13.8 5.7M374.4 602.7l-2.5 1.1M398.1 590.5l-12 4.7M373.4 600.2l-2.5 1M397.3 588.4l-12 4.5M394.6 587l-8.3 2.9M393.9 584.8l-4.5 1.5M367.5 582.2l-2.6 0.7M366.8 579.6l-2.5 0.6M368.2 576.5l-4.6 1M365.7 574.3l-2.6 0.5" stroke="#866A74" stroke-width="2.70"/>
<path d="M570.2 719.7l0.7 2.6M565.4 714.7l2.4 8.5M561.4 711.5l3.2 12.5M558.9 714.3l1.6 6.5M560.9 722.2l0.6 2.6M555.5 713l2.8 12.5M553 715.6l0.5 2.6M554.2 721.6l0.9 4.6M550.3 718.2l0.5 2.6M551.4 724.2l0.5 2.6M547.3 718.7l0.7 4.7M543 711.1l0.4 2.6M543.9 717.2l0.4 2.6M545.1 725.3l0.4 2.6M539.8 709.5l1.7 12.8M537.1 711.9l1.9 16.9M534.8 718.3l0.2 2.7M535.1 722.4l0.7 6.7M531.9 720.6l0.6 8.8M528.8 720.8l0.5 8.8M525.7 721l0.3 8.8M522.4 717l0.3 10.9M519.4 719.1l0.1 8.8M438.7 709.4l-1.2 2.4M432.9 706.5l-1.2 2.4M377.3 622.8l-4 2.3M376 620.4l-2.3 1.2M370.6 623.3l-2.3 1.3M367 625.2l-2.3 1.3M371 619.8l-4.1 2.1M365.6 622.6l-4.2 2.2M360.1 625.4l-2.3 1.3M367.9 618.1l-2.4 1.2M364.2 619.9l-4.2 2.1M358.7 622.7l-2.4 1.1M364.7 616.4l-7.9 3.7M373.6 606.1l-2.5 1M372.5 603.5l-2.5 1M356.2 607l-6.3 2.5M357 603.4l-4.4 1.7M357.9 599.9l-8.2 3M360.9 595.8l-12.3 4.1M363.9 591.9l-16.2 5.1M365 588.6l-24.1 7.1M366.2 585.4l-28.2 7.8M365.5 582.7l-28.3 7.3M364.9 580l-28.5 6.9M364.2 577.4l-28.5 6.3M363.7 574.7l-20.7 4.2M341.6 579.2l-6.6 1.3M363.1 572l-4.6 0.8M357.1 573.1l-14.7 2.7M362.7 569.3l-2.6 0.4M358.6 570l-2.6 0.4M352.6 571l-6.7 1.1M350.1 568.4l-2.6 0.4M336.8 525.9l-4.7-0.5" stroke="#866A74" stroke-width="3.20"/>
<path d="M570.7 721.7l0.8 2.5M567.6 722.6l1.3 4.5M561.3 724.2l1.1 4.6M558.2 725l1.4 6.5M555.4 727.6l1.3 6.6M551.8 726.3l1.2 6.6M548.6 726.8l0.8 4.6M539 728.2l0.3 2.6M539.4 732.2l0.3 2.7M535.7 728.5l0.9 8.8M532.5 728.8l0.7 8.8M529.3 729l0.4 6.8M526.1 731.2l0.1 2.7M440.7 712.6l-1.1 2.4M437.8 711.2l-4.7 9.8M434 711.7l-1.2 2.3M419.2 717.7l-1.3 2.3M325.7 619l-2.4 1M320.6 617.1l-4.4 1.6M337.5 596.7l-6.4 1.9M338.6 593l-10.4 2.9M337.8 589.9l-12.5 3.2M337 586.7l-6.6 1.6M336.2 583.6l-2.5 0.5M335.6 580.4l-2.6 0.5M307.3 541.5l-2.7-0.1M307.3 537.8l-4.7-0.1M332.4 528.7l-8.8-0.7M332.7 525.5l-4.7-0.5M308.2 523.1l-2.6-0.2M333 522.2l-8.7-1M306.6 519.2l-2.7-0.3M331.4 518.7l-2.6-0.3M311.1 516.1l-6.7-0.9M307.5 511.9l-2.6-0.4" stroke="#866A74" stroke-width="3.70"/>
<path d="M622.7 744.7l1.3 2.3M620.1 748.3l1.2 2.4M621.9 752l1.2 2.3M619.2 755.6l1.1 2.4M615.4 757.3l1.1 2.5M610.1 755.3l1.8 4.3M601.6 745.5l2.6 6.2M597.4 745l5.4 13.9M596.7 754l3.1 8.3M412 755.6l-1.1 2.4M406.5 757.4l-1.3 2.3M318.1 622l-4.4 1.7M316.8 618.5l-2.5 0.9M309.1 621.4l-4.4 1.6M302 619.8l-2.5 0.9M301.4 611.6l-2.5 0.8M297.5 612.8l-2.6 0.8M304.1 606.6l-2.5 0.8M300.2 607.8l-6.4 1.9M303.1 602.9l-2.6 0.7M289.3 606.7l-2.6 0.7M290.2 602.2l-8.5 2.2M291.2 597.7l-8.6 2.1M286.3 594.7l-2.6 0.5M282.3 595.5l-2.6 0.6M291.4 589.4l-4.6 0.9M285.4 590.6l-4.6 0.9M303.2 537.7l-2.6-0.1M303.4 533.9l-2.7-0.1M304.1 522.7l-2.6-0.2M304.5 519l-4.6-0.5M305 515.3l-2.6-0.4" stroke="#866A74" stroke-width="4.20"/>
<path d="M645.1 750.8l1.4 2.3M268.4 607.8l-2.6 0.7M260.4 609.9l-2.5 0.6M263.3 604.4l-8.6 2.1M280.3 596l-4.6 1M279.4 591.8l-4.6 1M263.8 572.2l-2.6 0.3" stroke="#866A74" stroke-width="4.70"/>
<path d="M525.8 543.6l4.7 0.2M523.7 543.7l6.8 0.4M523.7 543.8l8.8 0.6M521.7 543.7l10.8 1M521.7 543.7l10.7 1.3M519.6 543.5l12.8 1.7M519.6 543.6l12.8 1.9M517.6 543.3l14.7 2.4M517.6 543.2l14.7 2.8M517.6 543.2l14.6 3M517.6 543.2l14.6 3.3M517.6 543.2l14.5 3.5M517.6 543.2l14.5 3.8M517.6 543.2l14.4 4M517.6 543.2l14.3 4.3M517.6 543.2l14.3 4.5M517.6 543.2l14.2 4.7M517.6 543.2l14.1 5M517.6 543.2l14 5.2M517.6 543.2l13.9 5.5M517.6 543.2l13.8 5.7M517.6 543.2l13.7 5.9M517.6 543.2l13.6 6.2M517.6 543.2l13.5 6.4M517.6 543.2l13.4 6.6M517.6 543.2l13.3 6.9M517.6 543.2l13.2 7.1M517.6 543.2l13 7.3M517.6 543.1l12.9 7.6M517.6 543.1l12.8 7.8M517.6 543.1l12.6 8.1M517.6 543.1l12.5 8.3M517.7 543.1l12.3 8.5M517.7 543.1l12.1 8.7M517.7 543.1l12 8.9M517.7 543.1l11.8 9.1M517.7 543.1l11.7 9.3M517.7 543.1l11.5 9.5M517.7 543.1l11.3 9.7M517.7 543.1l11.2 9.9M517.7 543.1l11 10.1M517.7 543.1l10.8 10.3M517.7 543.1l10.6 10.5M517.7 543.1l10.5 10.6M517.7 543.1l10.3 10.8M517.7 543.1l10.1 11M517.7 543.1l9.9 11.2M517.7 543.1l7 8.2M525.7 552.4l1.7 2M517.7 543.1l6.9 8.3M517.7 543.1l5.5 6.8M517.7 543.1l5.4 6.9M517.7 543.1l5.3 7M517.7 543.1l5.1 7.1M517.7 543.1l5 7.2M517.7 543l4.9 7.4M517.7 543l3.7 5.7M517.7 543l3.6 5.8M517.7 543l3.5 5.9M517.8 543l3.3 5.9M517.8 543l3.2 6M517.8 543l3.1 6M517.8 543l2.1 4.2M517.8 543l2 4.3M517.8 543l1.9 4.3M517.8 543l1.9 4.3M518.2 543.3l-2.6-0.2M518.2 543.3l-4.7-0.4M518.2 543.3l-4.7-0.5M518.2 543.3l-4.7-0.6M518.2 543.3l-6.7-1M518.2 543.3l-4.6-0.7M518.2 543.4l-4.6-0.9M518.2 543.4l-4.6-1M518.2 543.4l-6.6-1.5M518.2 543.4l-6.6-1.6M518.2 543.4l-6.5-1.7M518.2 543.4l-6.5-1.8M518.2 543.4l-6.5-1.9M518.2 543.4l-6.4-2M518.2 543.4l-6.4-2.1M518.2 543.4l-6.4-2.3M518.2 543.4l-8.3-3.1M518.2 543.4l-8.2-3.2M518.2 543.4l-8.1-3.3M518.2 543.4l-8.1-3.5M518.2 543.4l-8-3.6M518.2 543.4l-8-3.8M518.2 543.4l-7.9-3.9M518.2 543.4l-7.8-4M518.2 543.4l-7.8-4.2M518.2 543.4l-7.7-4.3M518.2 543.5l-7.6-4.5M509.3 538.3l-4-2.4M518.2 543.5l-7.5-4.6M509.4 538.1l-4-2.4M518.2 543.5l-7.5-4.8M509.5 538l-3.9-2.6M518.2 543.5l-7.4-4.9M509.6 537.8l-3.9-2.6M518.1 543.5l-7.2-5M509.7 537.7l-3.9-2.7M518.1 543.5l-7.1-5.1M509.8 537.5l-3.8-2.7M518.1 543.5l-7-5.3M509.9 537.4l-3.8-2.8M518.1 543.5l-6.9-5.4M510 537.2l-3.7-2.8M518.1 543.5l-6.8-5.5M510.1 537.1l-3.7-2.9M518.1 543.5l-11.5-9.5M518.1 543.5l-11.3-9.7M518.1 543.5l-11.2-9.9M518.1 543.5l-11-10.1M518.1 543.5l-10.8-10.3M518.1 543.5l-10.6-10.5M518.1 543.5l-10.5-10.6M518.1 543.5l-10.3-10.8M518.1 543.5l-10.1-11M518.1 543.5l-9.9-11.2M518.1 543.5l-9.7-11.3M518.1 543.5l-9.5-11.5M518.1 543.5l-9.3-11.7M518.1 543.5l-9.1-11.8M518.1 543.5l-8.9-12M518.1 543.5l-8.7-12.1M518.1 543.5l-8.5-12.3M518.1 543.6l-8.3-12.5M518.1 543.6l-8.1-12.6M518.1 543.6l-7.8-12.8M518.1 543.6l-7.6-12.9M518 543.6l-7.3-13M518 543.6l-7.1-13.2M517.1 541.7l-6-11.4M517.1 541.7l-5.7-11.5M516.3 539.9l-4.7-9.8M516.3 539.8l-4.5-9.8M516.4 539.8l-4.3-9.9M516.4 539.8l-4.1-10M516.5 539.8l-4-10.1M515.9 537.8l-3.1-8.2M516.6 539.7l-3.6-10.2M516 537.8l-2.7-8.4M516.1 537.7l-2.6-8.4M515.7 535.7l-2-6.4M515.8 535.7l-1.8-6.5M515.4 533.7l-1.2-4.6M515.6 533.6l-1.1-4.5M515.7 533.6l-0.5-2.6" stroke="#887C7C" stroke-width="1.30"/>
<path d="M554.4 541.1l6.7-0.4M552.4 541.8l8.8-0.4M550.4 542.5l10.8-0.3M550.4 543l10.8-0.1M548.3 543.6l12.9 0.1M548.3 544.1l12.9 0.3M546.2 544.5l15 0.7M546.2 545l14.9 0.9M546.2 545.5l14.9 1.2M544.1 545.8l16.9 1.7M542 546l18.9 2.2M531.8 545.1l2.6 0.4M542 546.5l18.8 2.5M531.8 545.4l2.6 0.4M539.9 546.6l20.8 3.1M531.7 545.6l28.9 4.8M531.7 545.9l28.8 5.3M531.7 546.1l28.6 5.8M531.6 546.3l28.6 6.4M531.5 546.6l28.5 6.8M531.5 546.8l28.3 7.3M531.4 547.1l28.2 7.8M531.4 547.3l28 8.3M531.3 547.5l27.9 8.8M531.2 547.8l27.8 9.2M531.1 548l27.6 9.8M533 548.9l25.5 9.6M534.8 549.9l23.4 9.3M534.7 550.2l23.2 9.7M534.5 550.5l23.1 10.1M534.4 550.8l22.9 10.5M536.1 552l20.9 9.9M536 552.3l2.3 1.2M539.6 554.1l17.1 8.5M535.8 552.6l2.3 1.2M539.4 554.5l16.9 8.8M530.2 550l4.2 2.2M535.6 552.9l20.4 11.1M530.1 550.2l4.1 2.3M535.5 553.2l20.1 11.4M530 550.4l4 2.4M535.3 553.5l19.9 11.8M529.9 550.6l4 2.5M535.1 553.8l2.3 1.4M538.6 556l16.2 9.9M529.7 550.8l4 2.6M534.9 554.1l2.3 1.5M538.4 556.3l16 10.3M529.6 551l3.9 2.6M534.7 554.4l2.2 1.5M538.1 556.7l15.9 10.5M529.5 551.3l3.8 2.6M534.5 554.7l19.1 13.1M529.3 551.5l3.9 2.7M534.3 555l18.9 13.4M529.2 551.6l3.8 2.8M534.1 555.3l18.6 13.8M529 551.8l3.8 2.9M533.9 555.6l18.4 14.1M528.9 552l3.7 3M533.7 555.9l18.1 14.4M528.7 552.2l22.6 18.6M528.6 552.4l22.2 19M528.4 552.6l15.8 14M548.4 570.2l1.9 1.8M528.2 552.8l14.1 12.8M547.9 570.8l1.9 1.8M528.1 553l13.8 13.1M527.9 553.1l12.1 11.9M527.7 553.3l11.9 12.1M527.6 553.5l11.7 12.3M527.4 553.6l11.5 12.6M527.2 553.8l11.3 12.7M527 554l11 12.9M526.8 554.1l10.8 13.1M527.9 555.9l9.3 11.7M527.7 556.1l9.1 11.8M528.7 557.9l7.7 10.3M528.4 558.1l7.5 10.5M528.2 558.2l7.3 10.7M527.9 558.4l7.1 10.8M528.7 560.3l5.9 9.2M528.4 560.5l6.8 11M528.1 560.7l5.5 9.3M527.8 560.9l5.4 9.4M528.5 562.8l4.2 7.8M528.2 563l4 7.8M527.8 563.2l3.9 7.9M527.5 563.4l3.8 7.9M527.1 563.5l3.7 8M527.6 565.6l2.7 6.1M527.2 565.7l2.6 6.3M527.5 567.8l1 2.5M527.1 568l0.9 2.4M516.5 575.7l-0.1 2.7M516 573.7l-0.2 4.7M515.5 573.6l-0.5 6.7M515.2 571.5l-0.9 8.8M514.5 573.5l-0.8 6.7M514.2 571.4l-1.2 8.7M513.7 571.4l-1.3 8.7M513.2 571.3l-1.4 8.7M512.7 571.2l-1.2 6.6M512.2 571.1l-1.7 8.6M511.8 571l-1.9 8.6M511.3 570.9l-2.1 8.5M510.8 570.8l-1.7 6.5M510.3 570.6l-1.8 6.5M509.8 570.5l-1.9 6.5M509.4 570.4l-2.1 6.4M508.2 572.1l-0.8 2.6M483.6 565.1l-2.2 1.5M485 563.5l-4 2.4M484.6 562.9l-4 2.4M482.5 563.3l-2.3 1.3M485.8 560.7l-2.4 1.3M485.5 560.2l-2.4 1.2M487 558.7l-4.2 2.1M486.7 558.2l-4.2 2M488.4 556.8l-2.5 1.1M484.6 558.5l-2.4 1.1M488.1 556.2l-2.4 1.1M489.8 554.9l-4.3 1.8M491.5 553.7l-6.3 2.5M493.2 552.5l-8.2 3.1M495 551.4l-10.2 3.6M494.9 551l-10.3 3.4M483.2 554.9l-2.5 0.8M498.7 549.4l-20.2 6.3M498.6 549l-20.3 6M498.5 548.7l-18.4 5.1M498.4 548.4l-18.5 4.7M498.3 548l-18.5 4.5M500.2 547.2l-20.6 4.6M500.1 546.9l-20.6 4.2M500.1 546.6l-20.8 3.8M500 546.3l-20.8 3.5M500 546l-18.9 2.8M499.9 545.7l-18.8 2.5M499.9 545.4l-21 2.3M499.9 545l-21 2.1M499.8 544.7l-21 1.7M499.8 544.4l-21 1.3M499.8 544.1l-21.1 0.9M501.8 543.7l-23.1 0.6M501.8 543.4l-23.1 0.2M501.8 543.2l-21.1-0.2M479.3 543l-2.7-0.1M501.8 542.9l-21.1-0.6M479.3 542.3l-2.6-0.1M501.8 542.6l-21-0.9M479.3 541.6l-4.7-0.2M499.8 542.2l-25.1-1.5M501.9 542l-27.2-2.1M501.9 541.8l-27.1-2.7M499.9 541.2l-25-2.8M502 541.2l-27-3.6M502 540.9l-26.9-4M500 540.3l-24.8-4.1M502.1 540.4l-26.8-5M502.1 540.1l-26.6-5.4M502.2 539.8l-26.6-5.9M502.3 539.5l-26.5-6.3M502.3 539.3l-26.3-6.8M502.4 539l-26.2-7.3M502.5 538.7l-26.1-7.7M502.6 538.5l-26-8.2M502.6 538.2l-25.8-8.6M502.7 537.9l-25.6-9.1M500.9 537l-23.6-8.9M501 536.7l-23.4-9.3M503 537.1l-25.1-10.4M503.2 536.9l-25-10.9M503.3 536.6l-24.8-11.3M503.4 536.4l-24.6-11.7M503.5 536.1l-24.4-12.1M503.6 535.9l-22.3-11.7M505.6 536.6l-22.2-12M503.9 535.4l-20.1-11.4M505.8 536.2l-19.9-11.8M505.9 536l-21.4-13.2M506.1 535.8l-19.5-12.5M506.2 535.6l-19.3-12.8M506.3 535.3l-20.7-14.2M506.5 535.1l-20.5-14.6M506.6 535l-21.9-16.2M506.8 534.8l-23.3-17.9M506.9 534.6l-22.9-18.3M507.1 534.4l-22.6-18.6M507.2 534.2l-22.2-19M507.4 534l-21.9-19.4M507.6 533.8l-21.6-19.8M507.7 533.6l-21.2-20.1M507.9 533.5l-20.9-20.6M508.1 533.3l-20.6-20.9M508.2 533.1l-20.1-21.2M508.4 533l-19.8-21.6M508.6 532.8l-19.4-21.9M508.8 532.6l-19-22.2M509 532.5l-18.6-22.6M509.2 532.3l-18.3-22.9M509.4 532.2l-17.9-23.3M509.6 532l-17.5-23.5M509.7 531.9l-15.8-22.2M509.9 531.7l-14.2-20.7M510.2 531.6l-6-9M501.1 517.9l-4.8-7.3M510.4 531.5l-4.8-7.5M510.6 531.3l-4.6-7.5M510.8 531.2l-4.5-7.6M511 531.1l-4.3-7.7M511.2 531l-4.2-7.8M511.4 530.8l-3.1-5.9M511.6 530.7l-3-6M511.9 530.6l-2.9-6.1M512.1 530.5l-2.8-6.1M512.3 530.4l-2.7-6.2M512.5 530.3l-2.6-6.2M512.8 530.2l-2.5-6.2M503 505.5l-1-2.5M513 530.2l-2.4-6.4M503.7 505.2l-1-2.5M513.2 530.1l-1.6-4.5M504.3 505l-0.9-2.5M513.4 530l-1.4-4.5M505 504.7l-0.8-2.5M513.7 529.9l-1.4-4.5M506.3 506.5l-1.4-4.5M513.9 529.8l-1.3-4.5M506.9 506.3l-1.3-4.5M514.1 529.8l-1.2-4.6M507 504.1l-0.7-2.5M514.4 529.7l-0.7-2.6M507.7 503.9l-0.6-2.5M514.6 529.7l-0.6-2.6M508.9 505.8l-1.1-4.6M509.5 505.6l-1-4.6M509.8 503.5l-0.5-2.6M510.5 503.3l-0.5-2.6" stroke="#887C7C" stroke-width="1.30"/>
<path d="M574.7 511.2l2.3-1.3M575.2 512.2l4.2-2.3M575.8 513.2l4.1-2.2M576.3 514.2l6-3M576.8 515.2l6.1-2.9M579.1 515.4l4.3-1.9M574.7 537.8l4.7-0.4M572.7 539l2.7-0.2M576.8 538.7l4.7-0.4M560.5 540.7l2.7-0.2M570.7 540.1l4.7-0.3M576.9 539.7l8.8-0.5M560.6 541.4l14.9-0.6M576.9 540.7l8.8-0.4M560.6 542.2l14.9-0.4M577 541.8l8.8-0.3M560.6 542.9l23.1-0.2M560.6 543.7l23.1 0.2M560.6 544.4l27.2 0.7M560.6 545.2l27.2 1.2M560.5 545.9l14.9 0.9M576.9 546.9l10.8 0.7M560.5 546.7l12.8 1M576.8 547.9l10.8 0.9M560.4 547.4l14.9 1.4M576.7 549l12.8 1.2M560.3 548.1l14.9 1.7M576.6 550l12.8 1.4M560.2 548.9l16.9 2.2M578.5 551.3l8.7 1.1M560.1 549.6l16.8 2.5M578.4 552.3l10.7 1.6M560 550.3l16.8 2.9M578.2 553.4l10.7 1.8M559.9 551.1l16.7 3.1M580 554.8l8.7 1.6M559.8 551.8l18.6 3.8M581.8 556.3l6.6 1.4M559.6 552.5l18.6 4.2M581.6 557.4l6.6 1.5M559.4 553.3l18.5 4.4M579.3 558.1l8.6 2M559.2 554l16.5 4.2M583 560.1l4.6 1.2M559.1 554.7l14.3 4M582.7 561.3l4.6 1.2M558.8 555.4l14.4 4.3M582.4 562.4l4.5 1.3M558.6 556.1l14.3 4.5M582.1 563.5l2.5 0.8M558.4 556.9l14.2 4.7M579.8 564l6.4 2.1M558.2 557.6l14 4.9M577.5 564.4l8.3 2.9M557.9 558.3l12.1 4.5M577.1 565.4l8.2 3.1M557.6 559l13.9 5.4M574.8 565.7l10.1 4M557.4 559.6l13.8 5.8M572.5 565.9l11.9 4.9M557.1 560.3l26.8 11.7M556.8 561l26.6 12.1M556.4 561.7l26.5 12.6M556.1 562.4l26.2 13M555.8 563l2.3 1.2M559.4 564.9l22.3 11.6M555.4 563.7l2.4 1.2M559 565.6l22.2 12M555.1 564.3l25.4 14.4M554.7 565l25.2 14.8M554.3 565.6l25 15.3M553.9 566.2l24.7 15.8M553.5 566.9l24.4 16.1M553.1 567.5l24.1 16.6M552.7 568.1l23.8 17M552.2 568.7l23.6 17.4M551.8 569.3l23.2 17.8M551.3 569.9l22.9 18.2M550.9 570.5l22.5 18.6M550.4 571l22.2 19M549.9 571.6l21.9 19.4M549.4 572.2l21.6 19.7M548.9 572.7l19.7 18.7M548.4 573.2l19.4 19.1M547.8 573.8l17.7 17.9M548.7 575.8l14.5 15.3M546.8 574.8l15.6 17M547.6 576.8l12.6 14.3M547 577.3l12.3 14.5M546.4 577.8l12.1 14.7M545.8 578.3l10.5 13.3M545.1 578.8l10.4 13.5M544.5 579.3l10.1 13.6M543.9 579.7l9.9 13.9M544.4 581.9l7.3 10.6M544.9 584l5.9 9.1M544.1 584.5l4.8 7.4M544.5 586.7l3.5 5.7M544.8 588.9l1.3 2.3M520.2 596.2l0.1 2.6M481.9 566.2l-2.3 1.5M481.5 565.6l-4 2.5M481.1 565l-2.3 1.3M480.7 564.3l-4.1 2.3M480.4 563.7l-4.2 2.2M480 563l-4.1 2.2M479.7 562.4l-4.2 2.1M479.4 561.7l-4.3 2M479 561l-2.4 1.1M478.7 560.3l-4.3 1.9M478.4 559.6l-2.4 1.1M463 545.7l-2.7 0.1M465 544.7l-6.8 0.2M469 543.7l-12.8 0.1M469 542.9l-12.8-0.1M473.2 542.1l-17-0.4M475.2 541.4l-12.8-0.5M460.9 540.8l-4.7-0.2M475.3 540.7l-12.9-0.8M458.9 539.7l-4.7-0.3M475.3 539.9l-12.8-1M459 538.7l-4.7-0.4M475.4 539.2l-12.8-1.2M459.1 537.6l-2.7-0.2M475.5 538.5l-12.8-1.5M461.2 536.8l-4.6-0.5M475.6 537.7l-10.8-1.4M461.3 535.9l-4.6-0.7M475.7 537l-10.8-1.6M463.5 535.2l-4.6-0.7M475.8 536.3l-14.8-2.5M475.9 535.5l-16.7-3.1M476 534.8l-16.6-3.4M476.2 534.1l-14.6-3.3M476.4 533.3l-18.5-4.4M476.6 532.6l-2.6-0.7M472.6 531.6l-14.5-3.8M476.7 531.9l-2.5-0.7M472.8 530.8l-14.4-4M477 531.2l-2.6-0.8M473 530l-12.3-3.7M477.2 530.5l-2.6-0.8M473.3 529.2l-10.4-3.2M477.4 529.7l-2.5-0.8M473.5 528.4l-10.3-3.4M477.6 529l-16-5.6M477.9 528.3l-17.8-6.6M478.2 527.6l-17.7-6.9M478.4 527l-17.5-7.3M478.7 526.3l-15.5-6.8M479 525.6l-15.4-7.1M462.3 517.9l-2.4-1.1M479.4 524.9l-8-3.8M470.1 520.5l-4.2-2M464.6 517.9l-4.3-2.1M479.7 524.2l-2.4-1.1M463.2 516l-4.2-2.1M465.5 516l-7.8-4M464.2 514.1l-4.2-2.2M462.9 512.2l-2.3-1.3M463.5 511.2l-2.3-1.3M469.3 513.5l-2.3-1.4M469.8 512.7l-2.2-1.5M464.6 509.3l-2.2-1.4M470.3 511.8l-10.7-7.1M469.2 509.8l-8.9-6.1M474.8 512.6l-2.2-1.6M471.5 510.2l-3.9-2.8M466.5 506.6l-2.2-1.5M478.6 514.2l-5.4-4M470.4 508.2l-5.4-4.1M484 517.3l-10.2-7.8M471 507.3l-5.3-4.1M484.5 516.7l-6.9-5.5M476.5 510.3l-3.7-2.9M471.7 506.5l-3.7-2.9M484.9 516.1l-6.7-5.6M477 509.6l-8.3-6.9M485.4 515.6l-6.7-5.7M477.6 508.9l-8.2-7M485.9 515l-15.8-14M486.4 514.4l-14-12.8M486.9 513.9l-4.9-4.6M481 508.3l-6.4-6.1M487.4 513.4l-4.8-4.8M481.6 507.6l-4.8-4.7M488 512.8l-3.3-3.3M482.2 507l-4.7-4.8M488.5 512.3l-4.6-4.9M482.9 506.4l-3.3-3.4M489 511.8l-7.3-8M489.6 511.3l-5.8-6.6M490.2 510.8l-4.4-5.1M490.7 510.3l-3-3.6M491.3 509.9l-1.6-2.1M474.7 489l-1.6-2M475.7 488.3l-1.6-2.1M477.9 489.2l-2.8-3.8M478.8 488.5l-2.7-3.8M479.8 487.8l-2.7-3.8M480.8 487.2l-2.6-3.9M480.6 484.8l-1.4-2.2M496.1 499.6l-2.1-4.2M498.6 502.9l-5.5-11.6M499.3 502.6l-5.3-11.8M500.1 502.3l-6-13.7M500.8 502l-5.7-13.8M502.2 503.6l-6.2-15.8M502.9 503.3l-6.6-17.8M503.6 503l-3.6-10.2M498.9 489.5l-1.6-4.4M504.3 502.8l-3.4-10.3M500.4 491.1l-2.1-6.3M505.1 502.6l-2.1-6.5M502.6 494.8l-3.9-12.3M505.8 502.4l-1.9-6.5M502.9 492.5l-3.7-12.3M506.5 502.1l-1.8-6.5M503.8 492.3l-3.5-12.4M507.2 502l-2.2-8.6M504.6 492l-4.2-16.4M507.9 501.8l-2-8.6M505.5 491.8l-3.9-16.5M508.7 501.6l-1.1-4.6M506 489.6l-2.8-12.6M509.4 501.4l-0.5-2.5M506.5 487.4l-1.7-8.6M507.5 487.2l-0.9-4.6M506.4 481.2l-0.9-4.6M508.5 487l-0.8-4.6M507.5 481l-0.8-4.7M509.5 486.9l-0.4-2.6M508.3 478.8l-0.4-2.6" stroke="#887C7C" stroke-width="1.30"/>
<path d="M612.3 517.1l2.6-0.7M613.6 522.1l2.6-0.6M613.9 523.8l2.6-0.6M610.2 526.2l6.7-1.2M608.5 528.1l8.7-1.4M610.8 529.4l2.6-0.4M609.2 532.9l2.6-0.3M615.3 532.2l2.6-0.3M607.4 536.3l4.7-0.4M613.7 537.4l2.6-0.1M613.8 539.1l2.6-0.1M613.8 540.8l2.7-0.1M613.9 542.5l2.6-0.1M613.8 545.8l2.7 0.1M615.8 547.6l2.7 0.1M615.7 549.3l2.7 0.1M611.5 550.7l2.7 0.2M615.6 551l2.6 0.2M611.4 552.3l2.6 0.3M615.5 552.7l2.6 0.2M615.3 554.4l2.6 0.3M588.7 552.6l2.6 0.4M611 555.6l6.7 0.8M588.5 553.9l2.6 0.3M608.8 556.9l8.6 1.3M606.5 558.1l2.6 0.5M612.5 559.1l2.7 0.5M592.1 557.1l2.6 0.4M604.2 559.3l8.6 1.6M589.9 557.9l4.6 1M603.9 560.8l8.6 1.8M587.6 558.7l6.6 1.5M601.6 561.9l10.6 2.3M587.3 560l2.6 0.6M591.3 560.9l2.6 0.6M599.3 562.8l2.5 0.7M603.2 563.8l10.6 2.5M587 561.2l16.4 4.2M604.9 565.8l8.5 2.2M586.7 562.4l8.5 2.3M596.6 565.1l4.5 1.3M606.4 567.8l8.5 2.4M586.3 563.6l8.5 2.5M596.2 566.5l6.4 1.9M586 564.8l20.1 6.3M607.5 571.5l4.4 1.5M585.6 565.9l20 6.7M607 573.1l2.5 0.8M585.2 567.1l19.9 7.1M606.4 574.6l4.4 1.6M584.8 568.3l19.7 7.4M605.9 576.2l6.3 2.3M584.3 569.5l19.6 7.7M605.3 577.7l6.2 2.5M583.8 570.6l27.1 11.2M583.4 571.8l23 10M607.8 582.4l2.4 1M582.9 572.9l21 9.6M607.1 583.9l2.4 1.1M582.3 574l20.9 10M581.8 575.1l9.7 4.9M592.8 580.6l11.5 5.8M581.2 576.3l18.7 9.7M601.2 586.7l2.3 1.2M580.6 577.4l13.2 7.1M595 585.2l6 3.2M580 578.4l20.2 11.4M579.4 579.5l7.6 4.5M590 585.8l5.8 3.4M597 589.9l2.3 1.4M578.8 580.6l16.2 9.9M596.2 591.3l2.3 1.4M578.1 581.7l16.1 10.2M595.4 592.7l2.2 1.4M577.4 582.7l15.9 10.5M576.7 583.7l9 6.2M588.5 591.9l2.2 1.4M576 584.8l2.2 1.5M575.3 585.8l2.1 1.5M574.5 586.8l2.1 1.6M573.8 587.7l2 1.7M573 588.7l2 1.7M571.4 590.6l1.9 1.8M442.7 549.2l-4.7 0.4M459 493l-2.1-1.8M461.4 493.3l-3.5-3.1M456.8 489.2l-5.1-4.5M460.7 490.9l-11-10.1M463.2 491.3l-4.9-4.6M455.7 484.3l-4.9-4.6M464.1 490.4l-4.8-4.7M456.8 483.2l-3.4-3.3M466.4 490.9l-7.6-7.7M457.8 482.2l-1.8-1.9M467.4 490l-8.9-9.3M468.3 489.2l-7.3-8M470.6 489.8l-7.2-8.1M471.5 489l-7-8.2M472.5 488.2l-5.6-6.8M473.5 487.4l-6.8-8.4M474.4 486.7l-6.6-8.6M475.4 485.9l-6.4-8.7M476.4 485.2l-6.2-8.8M477.5 484.5l-6.2-9M478.5 483.8l-3.7-5.6M474 476.9l-1.5-2.2M479.5 483.1l-3.6-5.7M480.6 482.4l-2.4-4M475.3 473.7l-1.4-2.3M476.5 473l-1.4-2.3" stroke="#887C7C" stroke-width="1.70"/>
<path d="M540.6 420.8l0.5-2.6M543.2 419.2l0.5-2.6M549.6 420.7l0.7-2.6M551.8 421.2l0.7-2.5M619.8 501.1l4.3-1.8M618.6 503.6l10.1-3.9M619.3 505.4l12.1-4.5M621.9 506.5l8.3-3M622.5 508.3l4.4-1.5M630.3 505.7l2.5-0.8M617.2 512l2.6-0.8M621.1 510.8l2.6-0.8M634.8 506.4l2.5-0.8M638.7 505.2l2.5-0.8M617.8 513.7l4.5-1.3M625.6 511.4l2.6-0.8M629.5 510.2l2.6-0.7M637.4 507.9l4.5-1.3M620.2 514.9l2.6-0.7M628.1 512.7l12.4-3.4M614.8 518.2l4.5-1.1M624.7 515.7l8.5-2.2M634.6 513.1l8.5-2.2M615.2 519.9l28.5-6.8M615.6 521.6l6.6-1.4M623.6 519.9l2.6-0.6M627.6 519l2.6-0.6M631.6 518.1l12.6-2.8M615.9 523.4l6.7-1.4M624 521.7l8.6-1.7M640 518.5l4.6-1M616.3 525.1l28.8-5.4M616.6 526.8l2.6-0.5M622.6 525.8l10.7-1.8M636.8 523.4l6.6-1.1M616.9 528.5l24.9-3.7M617.1 530.2l25-3.2M617.3 532l10.8-1.3M629.5 530.6l6.7-0.8M639.7 529.4l6.7-0.7M617.5 533.7l10.8-1M631.8 532.3l4.6-0.4M639.9 531.6l2.7-0.3M644 531.2l2.6-0.3M617.6 535.5l10.9-0.9M631.9 534.3l10.8-0.8M632.1 536.3l6.7-0.4M644.3 535.6l2.7-0.2M632.2 538.3l4.7-0.2M617.9 540.7l2.7-0.1M617.9 547.7l2.6 0.1M624 547.9l2.6 0.1M630.1 548.2l2.7 0.1M636.3 548.5l10.8 0.4M617.8 549.4l4.7 0.3M630 550.2l2.7 0.1M634.1 550.4l12.9 0.8M617.6 551.1l10.9 0.9M629.9 552.1l4.7 0.4M638.1 552.8l2.6 0.2M642.1 553.1l4.7 0.3M617.5 552.9l18.9 1.8M637.9 554.9l8.7 0.8M617.3 554.6l21 2.4M639.7 557.2l2.6 0.3M617.1 556.4l20.9 2.7M639.4 559.3l2.7 0.3M616.9 558.1l16.8 2.5M635.1 560.8l10.7 1.6M618.6 560.2l14.7 2.4M634.8 562.9l10.7 1.7M618.3 561.9l8.6 1.6M630.4 564.1l2.6 0.5M634.4 564.9l2.6 0.5M618 563.7l12.6 2.5M634 566.9l4.6 1M617.6 565.4l12.6 2.8M631.6 568.5l8.6 1.9M621.2 568.1l2.5 0.6M627.1 569.5l10.6 2.6M618.7 569.4l18.5 4.7M638.6 574.5l2.5 0.7M616.3 570.6l18.3 5.1M636 576.1l4.5 1.2M613.8 571.7l22.2 6.6M613.3 573.4l20.1 6.3M612.8 575l18 6.1M612.2 576.7l16 5.7M611.6 578.3l2.5 1M615.5 579.8l10.1 3.8M611 580l2.5 0.9M618.6 583l6.3 2.4M621.7 586.3l2.4 1" stroke="#887C7C" stroke-width="2.20"/>
<path d="M537.2 414l0.7-4.7M539.5 414.3l1.1-6.6M541.4 416.7l0.8-4.6M543.6 417.2l2.5-12.7M547.1 411.6l1.5-6.6M548.9 414.1l2.1-8.5M551.3 404.2l0.6-2.6M550.1 418.7l1.7-6.6M552.2 410.7l1.7-6.5M552.3 419.3l2.3-8.5M555 409.4l0.7-2.6M554.5 419.9l2.5-8.5M557.4 410.1l3-10.4M556.6 420.5l0.8-2.5M557.8 416.6l2.1-6.4M560.3 408.8l3.3-10.3M564 397.1l0.8-2.5M559.4 419.3l1.5-4.5M562 411.5l2.1-6.4M564.6 403.7l2.1-6.3M562.9 416.2l0.9-2.5M564.3 412.3l6.3-17.9M567.3 411.2l5.9-15.9M569.6 412.1l2.5-6.3M572.6 404.5l3.2-8.2M569.5 418.7l1.8-4.3M571.9 413l1-2.4M574.2 407.3l4.2-10M571.7 419.6l1.9-4.3M574.1 414l5.2-11.8M579.8 400.8l1.1-2.4M574.7 418.7l1.1-2.4M576.4 415l7-15.5M578.6 416l7.3-15.3M579.9 418.9l8.5-17M583 418.2l7.9-15M585.2 419.4l1.2-2.4M588.1 414l5.2-9.5M587.3 420.6l1.3-2.3M590.4 415.2l5.3-9.4M592.6 416.5l5.5-9.3M595.9 416.1l4.6-7.5M597 419.2l5.8-9.2M601.4 417.2l3.7-5.7M605.9 415.3l1.5-2.2M642.5 491.7l8.1-3.4M641.5 494.6l8.2-3.2M642.3 496.8l6.3-2.4M651.9 493.2l2.5-0.9M645 498.3l8.3-3M647.7 499.9l10.3-3.5M644.6 503.4l2.5-0.8M650.4 501.5l8.4-2.6M641.3 506.7l8.5-2.5M653.1 503.3l4.5-1.4M643.9 508.4l4.5-1.3M651.8 506.2l4.5-1.3M642.5 511.1l8.5-2.2M652.4 508.5l4.6-1.2M643.1 513.2l8.5-2M653 510.9l4.6-1.1M659 509.4l6.6-1.5M643.6 515.4l4.6-1M651.6 513.7l2.6-0.6M657.6 512.3l4.6-1M644 517.6l10.7-2.1M656.1 515.2l8.6-1.8M644.5 519.8l2.6-0.4M656.6 517.6l2.6-0.5M660.6 516.9l4.6-0.9M644.9 522.1l2.6-0.5M652.9 520.7l4.7-0.8M645.2 524.3l6.7-1M647.6 526.2l4.6-0.6M647.8 528.5l4.7-0.5M646 531l6.7-0.7M646.2 533.2l4.7-0.4M646.4 535.4l8.8-0.5M648.5 537.6l2.7-0.1M673.2 547.4l2.6 0M673.1 550.1l2.6 0.1M646.4 551.2l2.6 0.1M654.6 551.7l4.6 0.2M660.7 552l8.8 0.6M646.2 553.4l2.7 0.2M652.4 553.9l14.8 1.2M646 555.6l2.7 0.3M654.2 556.4l6.7 0.7M645.8 557.9l2.6 0.3M656 559l6.7 0.8M647.6 560.4l2.6 0.3M653.6 561.2l2.7 0.3M659.7 562l2.7 0.3M663.8 562.5l2.6 0.4M645.2 562.3l2.6 0.4M653.3 563.5l4.7 0.7M659.4 564.4l6.7 1M669.5 566l4.7 0.7M650.9 565.6l2.6 0.4M655 566.2l8.6 1.5M650.5 567.9l2.6 0.5M658.6 569.4l2.6 0.5M652.1 570.6l8.6 1.7M670.1 574.3l2.6 0.5M657.6 574.3l2.6 0.5M653 575.7l2.6 0.7M646.5 576.6l8.5 2.2M645.9 578.8l6.5 1.8M657 584.5l4.5 1.3M656.3 586.9l2.5 0.8" stroke="#887C7C" stroke-width="2.70"/>
<path d="M565.2 393.2l0.8-2.5M567.8 394l0.9-2.5M570.4 394.9l2.3-6.3M573 395.9l3.1-8.3M575.6 396.9l1-2.5M577.1 393l1.7-4.3M578.1 397.9l3.4-8.1M580.7 399l1.8-4.3M583.2 400.1l2.8-6.2M587.4 390.8l1.1-2.5M585.7 401.2l6.4-13.4M588.1 402.4l6.7-13.3M590.6 403.7l7.8-15.1M593 405l8.1-14.9M595.4 406.3l7.4-13M599.9 404.2l6.5-11.2M602.3 405.6l6.7-11M602.5 410.6l8-12.6M604.8 412l8.2-12.4M607.1 413.6l9.6-14M609.3 415.2l6.3-8.9M618.8 401.8l2.7-3.8M611.5 416.8l7.7-10.4M615 416.8l9.1-11.8M623.5 410.5l1.7-2.1M627.4 405.7l4.2-5.3M625.8 412.4l1.7-2.1M631 406l1.7-2M626.8 415.8l4.4-5.1M633.4 408l1.7-2M627.6 419.3l3.1-3.5M634.4 411.6l3.1-3.5M633.9 416.7l3.2-3.5M701.4 528.9l2.6-0.2M675.2 547.4l2.7 0.1M675.1 550.2l2.7 0.1M673.6 566.6l4.6 0.7M673.1 569.3l10.7 1.8M680.7 573.5l4.6 0.8M676.2 575.5l6.6 1.3M673.6 577.8l10.5 2.4M639.5 658.7l3.4 3.2M637.5 660.8l4.8 4.7M636.8 664.3l1.9 1.9" stroke="#887C7C" stroke-width="3.20"/>
<path d="M658.8 384l1.8-2M705.7 531.8l2.6-0.1M699.1 607.5l2.5 0.8M716.5 613.6l2.5 0.9M715.2 617.1l2.5 0.9M690.4 618.3l2.4 1.1M331.9 515.5l-4.7-0.7" stroke="#887C7C" stroke-width="3.70"/>
<path d="M654.5 377.6l3-3.6M660.2 382.5l5.8-6.6M664.4 383.5l3.1-3.5M667.1 386l1.8-1.9M682.6 369.7l3.3-3.4M737.1 634.1l2.5 1M731.9 640.8l2.5 1.1M717.3 656.1l2.3 1.3" stroke="#887C7C" stroke-width="4.20"/>
<path d="M685.5 366.7l4.6-4.9M650.9 752l2.5 4M646.2 752.6l3.5 5.7" stroke="#887C7C" stroke-width="4.70"/>
<path d="M517.9 543.6l0.1-14.9M517.9 543.6l0.4-14.9M517.9 543.6l0.6-14.9M517.9 543.6l0.9-14.9M517.9 543.6l1.1-14.9M517.9 543.6l1.4-14.9M517.9 543.6l1.7-14.8M517.9 543.6l1.9-14.8M517.9 543.6l2.2-14.8M517.9 543.6l2.4-14.7M517.8 543.6l2.8-14.7M517.8 543.6l3-14.6M517.8 543.6l3.3-14.6M517.8 543.6l3.5-14.5M517.8 543.6l3.8-14.5M517.8 543.6l4-14.4M517.8 543.6l4.3-14.3M517.8 543.6l4.5-14.3M517.8 543.6l4.7-14.2M517.8 543.6l5-14.1M517.8 543.6l5.2-14M517.8 543.6l5.5-13.9M517.8 543.6l5.7-13.8M517.8 543.6l5.9-13.7M517.8 543.6l6.2-13.6M517.8 543.6l6.4-13.5M517.8 543.6l6.6-13.4M517.8 543.6l6.9-13.3M517.8 543.6l7.1-13.2M517.8 543.6l7.3-13M517.7 543.6l7.6-12.9M517.7 543.6l7.8-12.8M517.7 543.6l8.1-12.6M517.7 543.6l8.3-12.5M517.7 543.5l8.5-12.3M517.7 543.5l8.7-12.1M517.7 543.5l8.9-12M517.7 543.5l9.1-11.8M517.7 543.5l9.3-11.7M517.7 543.5l9.5-11.5M517.7 543.5l9.7-11.3M517.7 543.5l9.9-11.2M517.7 543.5l10.1-11M517.7 543.5l10.3-10.8M517.7 543.5l10.5-10.6M517.7 543.5l10.6-10.5M517.7 543.5l10.8-10.3M517.7 543.5l11-10.1M517.7 543.5l11.2-9.9M517.7 543.5l11.3-9.7M517.7 543.5l11.5-9.5M517.7 543.5l11.7-9.3M517.7 543.5l11.8-9.1M517.7 543.5l12-8.9M517.7 543.5l12.1-8.7M517.7 543.5l12.3-8.5M517.6 543.5l12.5-8.3M517.6 543.5l12.6-8.1M517.6 543.5l12.8-7.8M517.6 543.5l12.9-7.6M517.6 543.4l13-7.3M517.6 543.4l13.2-7.1M517.6 543.4l13.3-6.9M517.6 543.4l13.4-6.6M517.6 543.4l13.5-6.4M517.6 543.4l13.6-6.2M517.6 543.4l13.7-5.9M517.6 543.4l13.8-5.7M517.6 543.4l13.9-5.5M517.6 543.4l14-5.2M517.6 543.4l14.1-5M517.6 543.4l14.2-4.7M517.6 543.4l14.3-4.5M517.6 543.4l14.3-4.3M517.6 543.4l14.4-4M517.6 543.4l14.5-3.8M517.6 543.4l14.5-3.5M517.6 543.4l14.6-3.3M517.6 543.4l14.6-3M517.6 543.4l14.7-2.8M517.6 543.3l14.7-2.4M517.6 543.3l14.8-2.2M517.6 543.3l14.8-1.9M517.6 543.3l14.8-1.7M517.6 543.3l14.9-1.4M517.6 543.3l14.9-1.1M517.6 543.3l14.9-0.9M517.6 543.3l14.9-0.6M517.6 543.3l14.9-0.4M517.6 543.3l14.9-0.1M517.6 543.3l14.9 0.1M517.6 543.3l14.9 0.4M517.6 543.3l8.8 0.4M529.9 543.8l2.6 0.1M517.6 543.3l6.7 0.4M529.9 544l2.6 0.2M517.6 543.3l6.7 0.5M517.6 543.3l4.7 0.4M517.6 543.3l4.7 0.5M517.6 543.3l2.6 0.3M517.6 543.3l2.6 0.3M518 543.6l-1.2-2.4M518 543.6l-1.1-2.4M518 543.6l-2-4.3M518 543.6l-1.9-4.3M518 543.6l-1.9-4.3M518 543.6l-1.8-4.4M518 543.6l-1.7-4.4M518 543.6l-2.4-6.3M518 543.6l-1.6-4.4M518 543.6l-2.1-6.4M518 543.6l-2-6.4M518 543.6l-2.5-8.4M518 543.6l-2.4-8.5M518 543.6l-2.7-10.5M518 543.6l-2.6-10.5M518 543.6l-2.4-10.6M515.3 531.6l-0.6-2.6M518 543.6l-3-14.6M518 543.6l-2.8-14.7M517.9 543.6l-2.4-14.7M517.9 543.6l-2.2-14.8M517.9 543.6l-1.9-14.8M517.9 543.6l-1.7-14.8M517.9 543.6l-1.4-14.9M517.9 543.6l-1.1-14.9M517.9 543.6l-0.9-14.9M517.9 543.6l-0.6-14.9M517.9 543.6l-0.4-14.9M517.9 543.6l-0.1-14.9" stroke="#6E8470" stroke-width="1.30"/>
<path d="M518 529.3l0.3-29.3M518.3 529.3l0.7-29.3M518.5 529.3l1.3-29.3M518.8 529.3l1.7-29.2M519 529.3l2.3-29.2M519.2 529.3l2.9-29.1M519.5 529.4l3.3-29.1M519.7 529.4l3.9-29M520 529.4l4.3-28.9M520.2 529.5l4.8-28.9M520.5 529.5l5.3-28.8M520.7 529.5l5.8-28.6M520.9 529.6l6.4-28.6M521.2 529.7l6.8-28.5M521.4 529.7l7.3-28.3M521.7 529.8l7.8-28.2M521.9 529.8l8.3-28M522.1 529.9l8.8-27.9M522.4 530l9.2-27.8M522.6 530.1l9.8-27.6M522.8 530.2l10.3-27.5M523 530.2l10.8-27.2M523.3 530.3l11.2-27M523.5 530.4l11.7-26.8M523.7 530.5l12.2-26.6M523.9 530.6l12.6-26.4M524.2 530.7l13-26.2M524.4 530.8l13.5-25.9M524.6 531l13-24M524.8 531.1l13.4-23.7M525 531.2l13.8-23.5M525.2 531.3l14.3-23.2M525.4 531.5l14.7-23M525.6 531.6l13.9-21M525.9 531.7l14.2-20.7M526.1 531.9l15.8-22.2M526.2 532l16.2-21.9M526.4 532.2l12.9-16.8M540.2 514.3l2.8-3.7M526.6 532.3l13.2-16.5M526.8 532.5l14.7-17.9M543.8 511.9l1.6-2M527 532.6l12.4-14.4M540.3 517.1l1.7-2.1M544.3 512.4l1.7-2M527.2 532.8l12.6-14.3M544.8 512.8l1.8-1.9M527.4 533l12.8-14.1M545.4 513.3l1.8-1.9M527.6 533.1l13.1-13.8M527.7 533.3l13.4-13.6M527.9 533.5l15-14.8M528.1 533.6l15.3-14.5M528.2 533.8l14.1-12.8M528.4 534l15.8-14M528.6 534.2l14.4-12.4M528.7 534.4l17.9-14.7M528.9 534.6l18.1-14.4M529 534.8l18.4-14.1M550.2 518.5l2.1-1.6M529.2 535l23.5-17.5M529.3 535.1l23.9-16.9M529.5 535.3l24.1-16.5M529.6 535.6l24.4-16.2M529.7 535.8l9.2-5.9M540.1 529.2l14.3-9.2M529.9 536l14.4-8.9M545.6 526.3l9.2-5.6M530 536.2l14.6-8.6M545.9 526.8l9.3-5.5M530.1 536.4l25.5-14.4M530.2 536.6l25.8-14M530.4 536.8l25.9-13.5M530.5 537l26.2-13M530.6 537.3l26.4-12.6M530.7 537.5l26.6-12.2M530.8 537.7l26.8-11.7M530.9 537.9l27-11.2M531 538.2l27.2-10.8M531 538.4l16-6M548.3 531.9l10.2-3.8M531.1 538.6l27.6-9.8M531.2 538.8l18.1-6M550.6 532.3l8.4-2.7M531.3 539.1l18.1-5.7M550.8 532.9l8.4-2.6M531.4 539.3l28-8.3M531.4 539.5l28.2-7.8M531.5 539.8l28.3-7.3M531.5 540l28.5-6.8M531.6 540.3l28.6-6.4M531.7 540.5l28.6-5.8M531.7 540.7l28.8-5.3M531.7 541l28.9-4.8M531.8 541.2l28.9-4.3M531.8 541.5l29-3.9M531.8 541.7l29.1-3.3M531.9 542l29.1-2.9M531.9 542.2l29.2-2.3M531.9 542.4l23.1-1.4M531.9 542.7l21.1-0.9M531.9 542.9l19.1-0.5M531.9 543.2l19.1-0.2M531.9 543.4l17 0.2M531.9 543.7l17 0.4M531.9 543.9l14.9 0.7M531.9 544.2l14.9 0.9M531.9 544.4l14.9 1.2M531.9 544.6l12.8 1.3M531.8 544.9l10.8 1.2M533.8 545.4l8.8 1.1M533.8 545.7l6.7 1M494.3 510.2l-1.5-2.2M496 511.5l-2.6-3.9M504.5 523.1l-3.7-5.7M496.6 511.1l-2.6-3.9M506 524.6l-11.4-17.8M506.3 524.3l-11-17.9M506.6 524.1l-10.7-18.1M507 524l-10.4-18.4M507.3 523.8l-10.1-18.6M508.6 525.4l-10.7-20.5M508.9 525.2l-10.3-20.7M509.2 525.1l-9.1-19M509.5 524.9l-8.7-19.1M509.9 524.8l-9.3-21.2M510.2 524.7l-8.9-21.4M510.5 524.5l-7.7-19.6M510.8 524.4l-7.3-19.7M511.8 526.2l-7.7-21.8M512.1 526.1l-7.3-21.9M512.4 526l-6.3-20.1M512.8 525.9l-6-20.2M513.1 525.8l-6.2-22.3M513.9 527.7l-6.3-24.3M514.1 527.7l-5.4-22.5M514.9 529.6l-5.5-24.6M515.1 529.5l-5.4-26.6M515.3 529.5l-4.9-26.8M515.6 529.5l-4.8-28.9M515.8 529.4l-4.3-28.9M516.1 529.4l-3.9-29M516.3 529.4l-3.3-29.1M516.6 529.3l-2.7-27.1M516.8 529.3l-2-25.1M514.7 502.8l-0.2-2.7M517 529.3l-1.5-25.1M515.4 502.7l-0.1-2.6M517.3 529.3l-1.3-29.3M517.5 529.3l-0.7-29.3M517.8 529.3l-0.3-29.3" stroke="#6E8470" stroke-width="1.30"/>
<path d="M518.3 500.6l0-6.8M518.4 488.3l0-2.6M519 500.6l0.2-6.7M519.9 498.6l0.2-4.7M520.6 498.6l0.3-4.7M521.4 498.7l0.4-4.7M522 500.8l0.6-6.7M523 490.6l0.2-2.6M522.7 500.9l1-8.8M523.9 490.7l0.3-2.6M523.5 501l1.1-8.8M524.8 490.8l0.6-4.7M524.2 501.1l1.6-10.8M526 488.9l0.4-2.6M524.9 501.2l1.8-10.7M527 489.1l0.4-2.7M525.7 501.3l2-10.7M526.4 501.4l2.2-10.6M527.1 501.6l2.4-10.6M529.8 489.6l0.6-2.6M527.9 501.8l3.9-16.5M528.6 502l3.7-14.5M533.2 484.1l0.7-2.6M529.3 502.1l4-14.3M534.2 484.4l0.7-2.6M530 502.4l6-20.3M530.7 502.6l5.8-18.2M531.5 502.8l6-18M532.2 503l6.3-17.9M541 477.9l0.9-2.5M532.9 503.3l7.3-19.7M533.6 503.6l8.4-21.6M534.2 503.8l9.7-23.2M544.4 479.2l1-2.4M534.9 504.1l10.1-23.1M545.5 479.7l1.1-2.4M535.6 504.4l12.1-26.6M536.3 504.8l12.6-26.5M537 505.1l8.4-17.1M547.9 483.1l1.2-2.4M537.6 505.4l9.8-18.7M548 485.4l2.2-4.1M540.2 502.2l7.2-13.2M550 484.2l1.3-2.4M540.9 502.6l6.4-11.3M550 486.5l2.3-4.1M542.7 501.2l6.5-11.1M551 487.1l3.4-5.8M542.4 503.4l13.1-21.5M543 503.8l10.3-16M554.1 486.6l2.5-4M543.7 504.3l10.5-15.9M555 487.2l2.6-3.9M545.6 503l13.1-19M546.3 503.5l13.4-18.8M548.2 502.4l1.6-2.1M550.6 499.1l10.1-13.7M543.9 509.4l2.9-3.7M552.6 498l9.1-11.8M545.8 508.3l1.6-2.1M554.7 497.1l8-10.1M545.1 510.3l1.6-2M552.9 500.9l10.8-13.1M545.6 510.8l1.8-2M551 504.6l12.3-14.5M546.2 511.3l1.8-2M550.3 506.7l11.2-12.7M546.8 511.8l1.7-1.9M550.9 507.3l11.5-12.5M547.3 512.3l15.9-16.8M547.8 512.8l7.6-7.7M556.4 504.1l1.9-1.9M559.3 501.2l1.9-1.9M548.4 513.4l10.6-10.5M564.4 497.6l4.8-4.8M548.9 513.9l13.8-13.1M563.7 499.8l6.4-6M550.9 513.1l20.1-18.4M551.4 513.6l3.5-3.1M556 509.6l8.1-7.2M565.2 501.4l6.6-5.8M551.9 514.2l3.6-3M556.6 510.2l8.2-7M565.9 502.3l6.7-5.7M552.4 514.8l13.1-10.8M566.7 503.1l6.7-5.6M552.9 515.4l18.1-14.4M572.2 500.1l2-1.6M553.4 516.1l3.7-2.9M558.3 512.3l16.7-12.8M555.5 515.5l2.2-1.6M558.8 513l17-12.5M556 516.1l2.2-1.5M559.3 513.7l17.2-12.2M556.5 516.8l2.2-1.5M559.8 514.5l17.4-12M553.5 519.7l2.2-1.4M556.9 517.5l2.2-1.5M560.3 515.2l17.6-11.6M553.9 520.4l5.7-3.7M560.8 516l17.8-11.4M554.3 521l7.5-4.6M563 515.6l4-2.4M568.3 512.4l11-6.7M554.7 521.6l9.3-5.5M565.3 515.4l4-2.4M570.6 512.3l9.3-5.5M555.1 522.3l14.8-8.4M571.1 513.2l4.1-2.3M576.5 510.2l4-2.3M555.4 522.9l9.6-5.2M566.2 517.1l4.2-2.3M571.6 514.1l4.2-2.2M578.8 510.2l2.4-1.2M555.8 523.6l9.6-5M566.7 517.9l4.1-2.2M572.1 515.1l4.2-2.2M579.4 511.3l2.3-1.2M556.1 524.2l6.1-3M563.5 520.6l13.3-6.7M556.4 524.9l6.1-2.9M565.7 520.5l11.6-5.5M556.8 525.6l6.1-2.8M567.9 520.5l11.8-5.4M557.1 526.3l6.2-2.7M568.3 521.4l15.6-6.8M557.4 527l6.2-2.6M568.7 522.3l15.7-6.5M557.6 527.6l2.5-0.9M561.4 526.1l2.5-0.9M569.1 523.1l13.9-5.4M557.9 528.3l2.5-0.9M561.7 526.9l4.4-1.6M567.5 524.8l17.8-6.7M558.2 529l27.6-9.7M558.4 529.7l27.8-9.2M558.6 530.5l27.9-8.8M558.8 531.2l28.1-8.3M559.1 531.9l14.3-4M574.8 527.5l12.5-3.4M559.2 532.6l28.4-7.3M559.4 533.3l28.5-6.8M559.6 534.1l8.6-1.9M569.6 531.8l2.6-0.5M573.6 531l12.6-2.8M559.8 534.8l8.6-1.8M569.8 532.7l2.6-0.5M575.8 531.5l10.6-2.1M559.9 535.5l8.6-1.6M570 533.7l2.6-0.5M574 532.9l12.7-2.3M560 536.3l26.9-4.5M560.1 537l8.7-1.3M570.3 535.5l16.8-2.5M560.2 537.7l8.8-1.1M570.4 536.4l16.8-2.2M560.3 538.5l27.1-3.1M560.4 539.2l14.9-1.4M578.8 537.4l8.7-0.8M560.5 539.9l12.8-1M580.9 538.3l6.7-0.5M562.6 540.6l8.7-0.6M587.2 545.1l2.7 0.1M587.2 546.3l2.6 0.1M587.1 547.5l2.6 0.2M587 548.7l2.7 0.2M577.4 557.6l2.5 0.6M575.1 558.1l8.5 2.2M572.9 558.5l10.4 2.9M572.6 559.5l10.4 3.1M572.3 560.5l10.3 3.2M572 561.4l8.3 2.8M571.7 562.3l6.3 2.3M569.4 562.6l8.2 3M571 564.2l4.3 1.7M570.6 565.1l2.4 1M464.8 505.4l-5.5-3.9M465.5 504.5l-5.5-4M466.1 503.6l-5.3-4.1M468.4 504l-6.8-5.5M469.1 503.1l-5.2-4.3M469.9 502.3l-6.7-5.7M470.6 501.4l-6.6-5.8M472.8 502l-8-7.3M475 502.6l-9.3-8.8M477.2 503.3l-10.6-10.5M477.9 502.6l-10.5-10.6M480 503.4l-11.6-12.3M482.1 504.3l-12.8-14.1M484.2 505.2l-14-15.8M486.2 506.2l-1.7-2.1M483.5 503l-4.4-5.1M478.2 496.8l-7-8.2M488.1 507.2l-4.3-5.2M481.6 499.3l-1.7-2.1M479 496.1l-3-3.6M475.1 491.4l-3-3.6M490 508.3l-5.4-6.9M483.7 500.3l-3-3.7M477.3 492.2l-2.9-3.6M491.9 509.4l-7.8-10.2M483.2 498l-1.6-2.1M478.2 491.5l-2.9-3.7M492.5 509l-11.3-15.3M479.1 490.9l-1.6-2.2M493.1 508.5l-11.1-15.5M480 490.2l-1.5-2.2M493.7 508.1l-10.8-15.7M482.1 491.2l-2.6-3.8M494.3 507.7l-8.2-12.5M484.2 492.3l-3.8-5.6M495 507.3l-8.1-12.6M486.1 493.5l-5.8-9.2M495.6 506.9l-6.7-11M486 491.2l-5.7-9.3M496.2 506.5l-7.6-12.9M487.9 492.4l-6.5-11.1M496.9 506.1l-7.4-13M487.8 490.1l-5.3-9.4M497.5 505.8l-7.1-13.2M488.7 489.6l-5.1-9.6M498.2 505.4l-6.9-13.2M489.7 489.1l-5-9.6M498.8 505.1l-3-6.1M494.3 495.9l-7.6-15.2M499.5 504.8l-1.1-2.4M493.3 491.8l-5.5-11.6M494.2 491.4l-6.1-13.6M494.3 489.1l-5.1-11.8M495.3 488.7l-4.2-10M496.2 488.3l-3.9-10.1M496.5 486l-3.8-10.1M497.5 485.7l-3.6-10.3M498.5 485.3l-2.1-6.4M498.9 483l-1.4-4.4M499.4 480.8l-1.9-6.5M500.5 480.4l-1.3-4.5M506 493.8l-0.6-2.6M507.8 497.6l-1.9-8.6M509 499.4l-2.6-12.6M510.1 501.3l-1.2-6.6M508.6 493.3l-1.2-6.7M510.9 501.2l-2.5-14.8M511.6 501.1l-2.2-14.8M512.3 501l-1.9-14.9M513.1 500.9l-1.7-14.9M513.8 500.8l-1.4-14.9M514.5 500.7l-1.1-14.9M515.3 500.7l-1-17M516 500.6l-0.3-8.8M515.4 486.3l-0.1-2.6M516.8 500.6l-0.2-8.8M516.5 488.3l-0.2-4.7M517.5 500.6l0-8.8M517.4 488.3l0-2.6" stroke="#6E8470" stroke-width="1.30"/>
<path d="M542.9 476.4l0.9-2.4M544.1 476.9l1.7-4.4M546.3 471.2l1-2.5M550.1 461.6l1.7-4.3M545.2 477.4l1-2.5M547.6 471.7l1-2.5M546.4 477.8l1.8-4.3M549.6 470.3l1.1-2.4M548.4 476.5l1-2.4M550.9 470.9l1.1-2.4M554.3 463.4l1.1-2.4M549.5 477l1.2-2.4M551.3 473.3l2-4.2M556.6 462.2l1.1-2.4M549.7 479.4l6.7-13.3M558 462.9l1.2-2.3M550.9 480l5.9-11.4M559.4 463.6l1.2-2.3M552.9 478.8l2.3-4.2M558.8 468l1.3-2.4M560.8 464.4l1.2-2.4M553 481.2l2.4-4.1M560.1 468.7l2.3-4.1M554.1 481.8l2.4-4M564.5 464.2l2.4-4.1M555.2 482.4l4.6-7.5M560.5 473.7l2.5-4M563.8 468.5l4.6-7.5M556.3 483.1l1.4-2.2M558.5 479.6l2.5-3.9M561.8 474.5l2.5-4M566.2 467.6l2.5-4M557.3 483.8l1.5-2.2M559.6 480.4l3.7-5.7M564.1 473.5l2.6-3.9M567.5 468.4l2.6-3.9M572 461.6l1.5-2.2M559.5 482.8l5-7.3M565.3 474.3l2.6-3.8M559.4 485.2l6.2-8.8M574.8 463.5l1.5-2.1M560.4 485.9l8.8-12M570.1 472.8l1.6-2.2M573.8 467.8l4-5.4M561.4 486.7l9-11.9M571.3 473.7l1.6-2.1M575.1 468.8l2.8-3.7M562.3 487.4l5.5-6.8M568.7 479.4l9.3-11.7M563.3 488.2l4.3-5.2M571.1 478.7l3-3.6M577.6 470.8l3-3.6M564.3 489l5.7-6.7M572.2 479.7l3.1-3.6M580.2 470.3l1.7-2M565.2 489.8l5.8-6.5M582.8 469.9l1.8-2M566.1 490.7l3.2-3.5M570.3 486.1l3.1-3.4M568.4 490l7.5-7.8M567.9 492.4l10.5-10.7M568.8 493.3l7.7-7.6M586.3 476l3.4-3.2M569.7 494.2l7.8-7.5M589 475.8l1.9-1.8M570.5 495.1l8-7.3M571.4 496l8.1-7.2M572.2 496.9l9.8-8.3M573 497.9l9.9-8.2M573.8 498.9l8.4-6.8M574.5 499.8l7-5.3M575.3 500.8l7-5.2M576 501.8l5.5-3.9M584.3 495.9l3.9-2.7M591 491.1l3.8-2.7M576.7 502.9l3.9-2.7M585.2 497.1l3.8-2.7M590.2 493.6l5.6-3.8M597 488.9l2.2-1.4M577.4 503.9l3.9-2.6M584.3 499.4l2.2-1.5M591.1 494.9l5.6-3.8M578.1 504.9l5.7-3.6M585 500.5l4-2.5M591.9 496.1l5.7-3.6M578.8 506l5.7-3.5M585.7 501.7l5.8-3.5M592.7 497.4l4-2.4M579.4 507.1l18.2-10.7M600.6 494.6l2.3-1.3M580 508.2l18.4-10.4M599.6 497.1l2.3-1.3M580.6 509.2l16.8-9M598.6 499.5l2.4-1.3M581.2 510.3l16.9-8.7M599.4 500.9l4.1-2.2M581.8 511.5l7.8-4M590.9 506.9l9.7-4.9M582.3 512.6l11.7-5.6M595.3 506.4l6.1-2.9M584.7 512.8l4.3-1.9M590.3 510.3l4.3-1.9M597.8 506.9l2.4-1.1M583.4 514.8l6.1-2.7M592.8 510.8l2.4-1.1M596.5 509.1l4.3-1.9M585.7 515.2l4.4-1.8M593.3 512.1l2.5-1M599 509.7l2.4-1M586.2 516.4l4.4-1.7M593.8 513.4l2.5-1M584.8 518.3l8.2-3.1M594.4 514.7l2.4-0.9M585.2 519.5l8.3-3M596.8 515.4l2.5-0.9M585.6 520.7l2.5-0.9M597.2 516.8l2.6-0.9M586 521.8l2.5-0.8M599.6 517.5l2.6-0.8M586.3 523l2.6-0.7M586.7 524.2l2.5-0.7M590.6 523.1l2.6-0.7M587 525.4l6.5-1.7M600.9 521.8l2.5-0.6M587.3 526.6l6.6-1.5M599.3 523.8l4.5-1.1M587.6 527.9l6.6-1.5M587.8 529.1l6.7-1.4M607.5 537.8l4.7-0.3M589.2 546.4l2.7 0.1M589.1 548.9l2.6 0.2M589 550.1l2.6 0.3M588.8 551.4l2.7 0.3M600.2 558.5l4.6 0.9M599.9 560l4.6 0.9M599.6 561.4l2.6 0.6M462.8 497.9l-2-1.7M463.6 496.9l-3.5-3M464.4 496l-3.5-3.1M465.3 495.1l-3.5-3.2M464.6 492.8l-1.9-1.9M467 493.3l-3.4-3.3M467.9 492.4l-1.9-1.9M468.8 491.5l-1.9-1.9M469.7 490.7l-1.8-2M461.4 481.6l-1.8-1.9M455.8 475.6l-1.7-2M463.8 482.2l-1.7-2M464.9 481.2l-1.7-2M467.3 481.9l-3-3.6M481.7 481.8l-2.4-4M482.8 481.2l-2.4-4.1M483.8 480.6l-2.2-4.2M484 478.2l-1.2-2.4M492.9 476.4l-0.9-2.4" stroke="#6E8470" stroke-width="1.70"/>
<path d="M573.1 459.9l2.6-3.9M575.7 459.2l1.5-2.2M576 461.8l1.5-2.1M577.4 462.9l1.6-2.2M581.5 466.1l1.7-2M582.9 467.2l1.7-2M584.2 468.4l1.8-2M585.5 469.5l1.8-1.9M590.7 471.7l1.9-1.8M590.5 474.4l1.9-1.8M593.4 471.6l2-1.8M594.7 472.9l3.4-3.1M599 471.6l2-1.8M598.7 474.3l3.5-3M598.3 477.1l3.6-3M601 477.2l2.1-1.7M603.3 480.1l2.1-1.5M602.7 482.8l3.8-2.7M606.8 493l2.3-1.3M605.8 495.6l4.2-2.3M625.5 498.7l2.4-1M628.1 499.9l4.4-1.7M630.8 501.1l2.5-0.9M631.5 503.1l2.5-0.9M632.2 505.1l4.5-1.5M636.3 538.1l2.6-0.1M640.4 546.5l2.7 0.1M634.2 548.4l2.7 0.1" stroke="#6E8470" stroke-width="2.20"/>
<path d="M573.8 420.6l1.1-2.4M602.4 420.3l1.5-2.1M610.3 418.4l1.6-2.1M640 502.5l2.5-0.9M660.3 557l10.8 1.1M662.1 559.7l8.7 1M661.8 562.2l2.6 0.4" stroke="#6E8470" stroke-width="2.70"/>
<path d="M621.2 398.5l1.5-2.2M634.7 420.2l4.6-4.9M676.5 449.9l2.2-1.3M699.3 529l2.7-0.2M677.2 550.3l2.6 0.1" stroke="#6E8470" stroke-width="3.20"/>
<path d="M650.3 376.8l1.7-2M722.4 541.5l2.6 0M716.8 606l2.6 0.8M715.7 609.5l2.5 0.8" stroke="#6E8470" stroke-width="3.70"/>
<path d="M651.6 375.2l1.6-2M665.6 376.3l1.8-1.9M676.8 369.9l3.2-3.5M681.2 371.2l1.8-1.9M687.1 371.1l1.8-1.8M753.1 545.4l2.7 0M715.5 655.1l2.3 1.3" stroke="#6E8470" stroke-width="4.20"/>
<path d="M688.5 369.7l1.9-1.9" stroke="#6E8470" stroke-width="4.70"/>
<path d="M537.3 507.6l1.3-2.4M537.9 507.9l1.3-2.3M538.5 508.3l1.4-2.3" stroke="#648066" stroke-width="1.30"/>
<path d="M538.3 505.8l2.2-4.2M538.9 506.1l2.3-4.1M539.6 506.5l3.4-5.8M541.3 505.1l1.4-2.2" stroke="#648066" stroke-width="1.30"/>
<path d="M584.9 477.5l1.9-1.9M586 478.7l3.4-3.3M581.1 485.4l1.9-1.8M587.1 479.9l2-1.8M590.2 477.1l1.9-1.8M582.1 486.5l2-1.8M591.3 478.4l2-1.8M587.8 483.6l2-1.7M590.9 481l3.5-3.1M588.8 484.9l2-1.7M593.5 481l2.1-1.7M589.8 486.1l3.7-2.9M594.6 482.3l2.1-1.7M592.4 486.1l2.1-1.6M591.7 488.7l2.2-1.6M596.7 485l2.1-1.6M596 487.6l2.2-1.6M603.4 504.4l4.2-2M604 505.9l4.3-1.9M604.7 507.4l6.2-2.6M601.5 510.4l2.4-1M602 511.8l2.5-0.9M602.6 513.3l2.5-0.9" stroke="#648066" stroke-width="1.70"/>
<path d="M553.9 421.8l0.7-2.5M556 422.5l0.8-2.5M589.6 465l1.8-1.9M591 466.3l1.8-2M592.2 470.3l1.9-1.9M592.8 477l3.6-3.1M594 478.3l3.6-3M595.1 479.7l3.6-3M596.2 481l2.1-1.6M599.4 478.5l2.1-1.7M597.3 482.4l2.1-1.6M598.3 483.8l5.4-4M599.4 485.2l3.8-2.7M610.3 495.2l2.3-1.2M609.7 503.4l2.4-1.1M610.3 505l4.4-1.8M611 506.6l4.4-1.7M620.6 509l2.5-0.9M615.3 512.6l2.5-0.8" stroke="#648066" stroke-width="2.20"/>
<path d="M639.7 490.3l4.3-1.8M638.7 493.3l4.4-1.8M639.6 495.4l2.4-1M665 508l2.5-0.6" stroke="#648066" stroke-width="2.70"/>
<path d="M610.2 398.5l2.5-4M631.2 400.9l1.6-2.1M669.6 446.6l5.7-3.6M684.7 574.2l2.6 0.5M671.6 610.1l4.3 1.9M670.4 612.8l6.2 2.8" stroke="#648066" stroke-width="3.20"/>
<path d="M669.4 435.2l3.8-2.7M672.9 436.7l7.3-4.9M676.5 438.3l7.3-4.8M674.8 443.3l2.3-1.4M678.3 441.1l3.9-2.5M676.5 446.1l7.5-4.6M678.2 448.9l4.1-2.4M716.2 538.1l6.7-0.2M716.2 541.6l6.8-0.1M720.3 545.1l2.7 0M703 620l4.4 1.8M689.1 621.3l4.3 2M687.7 624.3l4.2 2" stroke="#648066" stroke-width="3.70"/>
<path d="M735.8 579.8l2.6 0.4M735.1 583.6l4.6 0.8M731.7 636.3l2.5 1M724.5 637.4l4.3 2M726.5 651.9l7.8 4.1M724.6 655.5l7.7 4.2M724.4 660.1l4.1 2.3" stroke="#648066" stroke-width="4.20"/>
<path d="M733.8 655.7l6 3.1M731.8 659.4l5.9 3.3M729.8 663.2l2.3 1.3" stroke="#648066" stroke-width="4.70"/>
<path d="M706.1 599.1l10.4 3M703.2 601.7l14.2 4.5M704.1 605.6l8.3 2.8M701 608.1l16 5.7M701.8 612l14 5.3M702.5 616l11.9 4.7" stroke="#5A7C5C" stroke-width="3.70"/>
<path d="M751 537.2l4.7-0.1M751.1 541.3l6.7-0.1M728.2 639.1l2.4 1.1M721 640.2l7.9 3.7M722.9 650l4.2 2.2M721 653.6l4.1 2.2M719.1 657.1l5.8 3.3" stroke="#5A7C5C" stroke-width="4.20"/>
<path d="M406.1 800.4l-1 2.3" stroke="#FFE3A0" stroke-width="5.20"/>
<path d="M536.9 629.2l0.5 2.1M459.1 603.1l-1.5 1.6M447.5 515.6l-2.1-0.8" stroke="#FF78B8" stroke-width="1.70"/>
<path d="M615.4 566.7l2.1 0.5" stroke="#FF78B8" stroke-width="2.20"/>
<path d="M754.2 445.4l2.3-0.9" stroke="#FF6A9C" stroke-width="4.70"/>
<path d="M571.5 502.2l1.7-1.3M574.8 526.4l2.1-0.6M455 551.6l-2.1 0.3M453.2 517.8l-2.1-0.8" stroke="#FF5C84" stroke-width="1.20"/>
<path d="M522.1 447.2l0.1-2.2M598.1 490.2l1.8-1.2M598.4 558.2l2.1 0.4M517 641.5l0 2.2M502.6 460.8l-0.4-2.1" stroke="#FF5C84" stroke-width="1.70"/>
<path d="M606.9 452.8l1.5-1.6" stroke="#FF5C84" stroke-width="2.20"/>
<path d="M388 632.6l-1.8 1.2" stroke="#FF5C84" stroke-width="3.20"/>
<path d="M645.3 383.2l1.5-1.9" stroke="#FF5C84" stroke-width="3.70"/>
<path d="M482.1 757.2l-0.4 2.4" stroke="#FF5C84" stroke-width="4.20"/>
<path d="M371.9 740.7l-1.6 2M368.4 738.1l-1.5 2" stroke="#FF4E70" stroke-width="4.70"/>
<path d="M537.4 507.4l1.1-2" stroke="#FF4060" stroke-width="0.70"/>
<path d="M534.5 490.6l0.7-2M565.9 566.2l2 0.9M484.3 576.3l-1.5 1.5M470.4 555.6l-2.1 0.5" stroke="#FF4060" stroke-width="1.20"/>
<path d="M503.6 613.5l-0.4 2.1" stroke="#FF4060" stroke-width="1.70"/>
<path d="M600.2 482.4l1.7-1.3M431.6 488.3l-1.8-1.2" stroke="#FF4060" stroke-width="2.20"/>
<path d="M384.8 544.5l-2.1 0M418.4 448.9l-1.6-1.5" stroke="#FF4060" stroke-width="2.70"/>
<path d="M392.7 658.1l-1.7 1.5" stroke="#FF4060" stroke-width="3.20"/>
<path d="M679.9 378.4l1.8-1.8" stroke="#FF4060" stroke-width="4.20"/>
<path d="M769.2 370.6l2.1-1.4" stroke="#FF4060" stroke-width="5.70"/>
<path d="M549.1 598.5l1.1 1.9M457 567.3l-2 0.8M491.8 483.3l-0.9-2" stroke="#D40006" stroke-width="1.20"/>
<path d="M597.5 569.9l2 0.7M494.1 623.8l-0.6 2" stroke="#D40006" stroke-width="1.70"/>
<path d="M618.9 433.1l1.4-1.6M654.1 486.9l2-0.8M390.3 493l-2-0.8" stroke="#D40006" stroke-width="2.70"/>
<path d="M360 625.5l-2.1 1.1" stroke="#D40006" stroke-width="3.20"/>
<path d="M731.9 427.1l2.2-1.2" stroke="#D40006" stroke-width="4.70"/>
<path d="M451.9 565.4l-2 0.7" stroke="#C80004" stroke-width="1.20"/>
<path d="M430 587.1l-2 1M449.8 571.5l-2 0.8" stroke="#C80004" stroke-width="1.70"/>
<path d="M412 566.8l-2.1 0.5" stroke="#C80004" stroke-width="2.20"/>
<path d="M426.6 666.7l-1.3 1.8" stroke="#C80004" stroke-width="2.70"/>
<path d="M681.3 371.2l1.7-1.9" stroke="#C80004" stroke-width="4.20"/>
<path d="M483.4 565.3l-1.8 1.1" stroke="#BA0004" stroke-width="0.70"/>
<path d="M465.3 582.2l-1.8 1.3M475.8 572.3l-1.8 1.2M470.7 575.7l-1.8 1.3M464.8 569.8l-1.9 0.9M454.1 571l-2 0.9M470.7 562.9l-2.1 0.8M468.4 562.8l-2 0.8M460.4 564.8l-2 0.8M457.6 554.5l-2.2 0.4" stroke="#BA0004" stroke-width="1.20"/>
<path d="M489.3 609l-0.8 2M471.5 610.8l-1.2 1.8M463.2 619.9l-1.2 1.8M458.2 610.7l-1.4 1.7M440.6 600.5l-1.8 1.3M445.4 593.1l-1.8 1.3M436.8 595l-1.9 1.2M434.1 594.6l-1.8 1.2M436 589.7l-1.9 1M447.8 581.4l-1.9 1M434.8 582.9l-2 1" stroke="#BA0004" stroke-width="1.70"/>
<path d="M458 633.8l-1.2 1.8M446 621.8l-1.5 1.6" stroke="#BA0004" stroke-width="2.20"/>
<path d="M371.9 583.8l-2.1 0.6M370.6 578.7l-2.1 0.5M387.1 535.3l-2.1-0.1" stroke="#BA0004" stroke-width="2.70"/>
<path d="M447.6 684.4l-1 1.9M390.9 668.1l-1.6 1.6M355 591.5l-2.1 0.7" stroke="#BA0004" stroke-width="3.20"/>
<path d="M521.1 181.1l0-2.6" stroke="#BA0004" stroke-width="6.70"/>
<path d="M501.3 561.4l-1.4 1.6M498.6 561.6l-1.5 1.5" stroke="#AC0002" stroke-width="0.70"/>
<path d="M494.5 586.4l-1.1 2M491.5 591.8l-1 1.9M484.9 595.1l-1.1 1.8M480.8 597.3l-2.4 3.4M473.2 593.9l-1.5 1.6M474.2 589.3l-1.5 1.6M472 590l-1.5 1.5M482.9 577.7l-1.6 1.5M475.7 582l-1.6 1.5M468.1 588.9l-1.6 1.5M483.7 572.5l-1.7 1.4M468.1 585.8l-3.2 2.8M472.5 578.2l-1.8 1.3M469.6 577.8l-1.8 1.2M466.3 580.1l-1.8 1.3M474.8 570.8l-1.9 1.1M471.3 573l-1.8 1.1M472.6 571.1l-1.9 1.1M458.6 579.6l-1.9 1.2M473.8 569.3l-1.8 1.1M466.8 573.4l-1.9 1.1M476.6 565.7l-2 1.1M462.2 573.6l-1.9 1M463.5 571.6l-2 1M468 567.1l-1.9 0.9M464.4 568.8l-2 1M457.9 569.4l-2 0.9M458.5 565.5l-2 0.8M458.1 564.5l-2 0.7M459.4 561.8l-2.1 0.6M454.5 559.7l-2.1 0.5M464.2 556.2l-2.1 0.5M459.8 555.1l-2.2 0.5M455.3 553.8l-2.1 0.3M463.1 550.5l-2.1 0.3M452.7 549.6l-2.1 0.2" stroke="#AC0002" stroke-width="1.20"/>
<path d="M498.9 616.6l-0.5 2.1M464.6 620.9l-1.3 1.8M466.8 612.4l-1.3 1.7M463.1 617.3l-1.3 1.8M469.3 606.6l-1.3 1.7M467.4 602.4l-1.4 1.7M451.5 615.7l-1.4 1.6M466.8 593.5l-1.5 1.5M450.8 609.3l-1.6 1.5M465.1 591.7l-1.6 1.5M447.4 605.7l-1.6 1.4M460.3 592.5l-1.6 1.4M455.7 596.5l-1.7 1.4M461.1 590.2l-1.7 1.3M450.5 593.2l-1.8 1.3M438.9 601.7l-1.7 1.3M439.6 599.2l-1.8 1.2M448.8 590.8l-1.8 1.3M442 595.5l-1.8 1.2M453.1 586.2l-1.9 1.2M457.5 581.8l-1.8 1.1M453.3 582.9l-1.8 1.1M439.5 587.6l-1.9 1.1M430.3 577.8l-2 0.8M441.2 572l-2 0.7M439 565.2l-2.1 0.6M435.1 566.3l-2.1 0.6M438.3 562.4l-2.1 0.5M421.6 562.9l-2.1 0.4M432 545.6l-2.2 0M436.6 534l-2.2-0.2" stroke="#AC0002" stroke-width="1.70"/>
<path d="M472.1 643.9l-0.9 2M465.5 635.9l-1.1 1.9M458.5 626.6l-1.3 1.8M452.2 632.1l-1.3 1.8M438.9 642.6l-1.4 1.7M444.7 626.1l-1.5 1.6M437.9 633.8l-1.5 1.6M443.2 624.8l-2.8 3.1M443.4 616.5l-1.5 1.5M428.6 611.8l-1.7 1.4M417.2 620.6l-1.7 1.3M434 605.4l-1.8 1.3M414.6 617l-1.8 1.3M429.1 602l-1.8 1.2M425.7 604.3l-1.8 1.2M417.7 584.8l-2 0.8M410.1 587.9l-2 0.9M408 575.9l-2.1 0.6M417.6 563.7l-2.1 0.4M411.2 563.1l-2.1 0.4" stroke="#AC0002" stroke-width="2.20"/>
<path d="M435.1 655.2l-1.3 1.7M423.6 661.9l-1.4 1.7M410.6 628.7l-1.7 1.3M401.5 623.3l-1.8 1.2M385.6 621.2l-1.9 1.1M397.9 590.6l-2 0.8M377.9 595.6l-2 0.8M393.7 584.9l-2.1 0.7M387.1 584.5l-2.1 0.7M393.6 577.8l-2.1 0.5M375.2 580.2l-2.1 0.5M374.6 577.7l-2.1 0.5M389 546.7l-2.2 0" stroke="#AC0002" stroke-width="2.70"/>
<path d="M431 679.7l-1.2 1.9M416.3 666.5l-1.4 1.7M405.3 670.5l-1.5 1.7M358.4 612.7l-2.1 0.9M362.1 586.5l-2.2 0.6" stroke="#AC0002" stroke-width="3.20"/>
<path d="M454.9 731.5l-0.7 2.3M387.7 695.8l-1.6 1.8" stroke="#AC0002" stroke-width="3.70"/>
<path d="M431 753.1l-1 2.3M384.2 711.4l-1.6 1.9M345 680.9l-2 1.5" stroke="#AC0002" stroke-width="4.20"/>
<path d="M513.4 565.3l-0.4 2.1M502.2 581.1l-0.8 2M502.8 572.3l-1 1.9M500.3 573.2l-1.1 1.9M498.7 574.7l-1.2 1.8M497.2 571.2l-1.3 1.8M501 563.8l-1.4 1.7M498 560.9l-1.6 1.4M490 564l-1.8 1.3M484.8 563.6l-1.9 1.1M483.1 560.6l-1.9 1M484.4 558.6l-2 0.9M480.7 560.3l-2 0.9M480.1 559l-2 0.8M479.1 544.3l-2.2 0.1" stroke="#9C0002" stroke-width="0.70"/>
<path d="M511.6 608.5l-0.2 2.1M508.1 601.8l-0.4 2.2M509 591.6l-0.8 4.1M505.5 599.2l-0.5 2.1M505 597l-0.5 2.1M499.3 606.1l-0.6 2.1M497 609.6l-0.7 2.1M499.3 593.1l-0.8 2.1M492.8 603.8l-0.8 2M491.3 607.6l-0.9 2M495.1 595.8l-0.9 2M495.9 589.5l-1 1.9M492.4 596.8l-1 2M493.3 590.5l-1 1.9M496.8 580.7l-1.1 1.9M489 590.4l-1.1 1.8M483.8 596.8l-1.1 1.8M481.6 600.2l-1.1 1.9M481.1 594.9l-2.5 3.5M480.2 594.3l-1.3 1.7M470.9 594.6l-1.5 1.6M472.8 590.8l-2.9 3.1M486.4 575.4l-1.6 1.5M476.3 585.6l-1.5 1.6M483.8 575.7l-1.6 1.5M477.8 581.3l-1.5 1.5M467.3 588l-3.1 2.8M482.1 573.9l-1.6 1.4M474.3 580.5l-1.6 1.4M484.3 570l-1.7 1.4M466 583.2l-1.8 1.3M481.7 570.1l-1.7 1.3M471.9 577.4l-1.8 1.3M471.3 576.6l-1.8 1.2M464.6 581.3l-1.8 1.3M474.1 573.4l-1.8 1.3M460.6 582.7l-1.8 1.2M475.3 571.5l-3.6 2.4M463.3 579.4l-3.5 2.4M461 579.6l-1.9 1.1M474.3 570l-1.9 1.2M480.9 565.1l-1.9 1.1M463.3 575.5l-1.9 1.1M478.7 565.5l-1.9 1M480.2 563.8l-2 1M467.6 570.6l-1.9 1.1M459.8 573.5l-3.7 2M459.3 572.5l-1.9 1M462.5 569.7l-2 1M458.8 571.5l-2 0.9M478.8 561.1l-2 0.9M471.4 564.5l-2 0.9M467.6 566.2l-1.9 0.9M460.2 569.6l-2 0.9M456.5 571.3l-2 0.9M470 561.2l-4 1.5M467.8 561.1l-2.1 0.7M471.3 558.9l-2 0.7M461.6 562.1l-2 0.7M473 557.4l-2 0.7M451.6 564.2l-2.1 0.7M461 560.2l-2.1 0.6M455.1 561.9l-4 1.2M468 554.4l-2.1 0.4M456 557l-2.1 0.5M450 558.4l-2.1 0.4M471.8 552.7l-2.1 0.4M465.8 553.9l-2.1 0.4M451.5 555.6l-2.1 0.4M465.4 552.1l-2.1 0.3M467.2 550l-4.2 0.5M451 552.1l-2.2 0.3M467 548.2l-2.2 0.2M460.9 548.8l-4.2 0.4M475 545.9l-2.1 0.2M456.6 540.6l-2.2-0.1M469 538.6l-2.1-0.2M456.8 537.4l-2.2-0.2M452.7 537l-2.1-0.2M448.7 536.6l-2.2-0.2M459.1 535.6l-4.2-0.6" stroke="#9C0002" stroke-width="1.20"/>
<path d="M501.2 612.9l-0.5 2.2M491.7 631.6l-0.6 2.1M489.6 633.1l-0.7 2.1M486.9 614.6l-0.9 2M484.8 615.9l-0.9 2M475.6 632l-0.9 1.9M480.8 611.6l-1 1.9M471.5 625.2l-1 1.9M466.6 627.1l-1.2 1.8M479.4 603.7l-1.1 1.8M466.2 624.4l-1.2 1.9M476.1 606.4l-1.2 1.8M468.2 618.4l-1.2 1.8M468.1 615.8l-1.3 1.8M471 600.1l-1.3 1.7M458.1 613.3l-1.4 1.7M470.4 596.9l-1.4 1.7M467.7 600l-1.4 1.6M469.5 596.1l-1.5 1.6M461.2 605.2l-1.5 1.6M458.4 608.2l-1.4 1.6M468.6 595.2l-1.5 1.6M466.3 595.8l-1.6 1.6M460 598.2l-1.6 1.5M448.1 609.5l-1.6 1.5M453.5 600.3l-1.6 1.4M463.4 589.8l-1.6 1.4M441 604.5l-1.7 1.3M451.3 594.4l-1.7 1.3M460.3 585.9l-1.7 1.3M447.2 595.6l-1.8 1.3M456.3 587.3l-1.8 1.2M451.3 590.8l-1.8 1.3M455.5 586.2l-3.5 2.4M449.6 588.5l-1.8 1.2M437.7 596.4l-1.8 1.2M454 584l-3.5 2.2M448.9 587.3l-1.9 1.1M440.2 592.8l-1.8 1.2M435 596.1l-1.8 1.2M455.1 581.8l-1.9 1.1M451.6 583.9l-3.6 2.2M435.9 593.6l-1.9 1.1M454.4 580.7l-1.8 1.1M449.1 583.8l-1.8 1.1M451.4 579.4l-1.9 1.1M446 582.4l-1.9 1M450.7 578.3l-1.9 1M447.1 580.2l-3.7 1.9M453.8 575.3l-1.9 0.9M442.8 580.7l-1.9 1M431.8 586.2l-1.9 1M431.1 584.7l-2 0.9M452.7 573l-1.9 0.9M449 574.7l-3.8 1.7M435.3 579.2l-2 0.9M451.7 570.7l-2 0.8M443.1 571.2l-2 0.8M448.5 567.9l-2.1 0.7M446.1 567.3l-2.1 0.7M447.6 565.5l-2 0.6M437.9 568.5l-2.1 0.7M448.9 562.4l-4.1 1.2M446.3 560.5l-2.1 0.5M440.3 561.9l-2.1 0.5M448 558.8l-2.1 0.5M437.7 559.6l-2.1 0.5M434.9 555.7l-2.1 0.3M430.9 556.3l-2.2 0.3M432.7 554.5l-2.2 0.3M424.6 555.6l-2.2 0.3M422.3 554.2l-2.1 0.2M420.1 552.7l-2.2 0.2M426.1 550.5l-2.2 0.2M434 545.5l-2.1 0.1M419.7 542.4l-2.2 0M429.9 541l-2.1-0.1M421.8 539.1l-2.2-0.1M444.4 538.8l-2.2-0.1M440.4 537.2l-2.2-0.2M422.5 530.7l-2.1-0.2M446.9 523.6l-2.1-0.6M432 516.2l-2.1-0.6M442.7 516.7l-2.1-0.8" stroke="#9C0002" stroke-width="1.70"/>
<path d="M501 644.2l-0.3 2.2M484.2 657.1l-0.6 2.1M462.2 655l-1 2M469.1 633.2l-1.1 1.9M457.6 645.6l-1.1 1.9M464.4 630.6l-1.1 1.8M462.3 634l-1.1 1.9M449.7 650.3l-1.2 1.9M444.2 646.6l-1.3 1.8M449.7 635.4l-1.3 1.8M449.1 629.8l-1.4 1.7M433.5 635.4l-1.4 1.6M444.7 617.8l-1.5 1.5M428.9 633.8l-1.5 1.6M433.2 626.5l-1.5 1.5M433.6 617.9l-1.6 1.4M424.7 620.1l-1.7 1.4M421.6 622.7l-1.7 1.4M420.5 618.1l-3.4 2.5M429.6 606.3l-1.8 1.3M413.8 612.2l-1.8 1.2M426.4 601.6l-1.8 1.2M419.5 606l-1.8 1.2M429.8 591.2l-1.9 1M415.5 590l-2 0.9M425.2 581.7l-2 0.8M420.1 579.9l-2 0.7M402.9 586.3l-2.1 0.8M407.9 582.2l-2 0.8M404.1 583.6l-2.1 0.7M398.3 585.7l-2.1 0.7M418.9 576.4l-2.1 0.7M409.2 579.7l-2.1 0.7M401.5 575.6l-2.1 0.6M414 566.3l-2.1 0.5M404 556.3l-2.1 0.2M391.8 557.7l-2.2 0.2M418.1 552.9l-2.2 0.2M393.3 550.9l-2.2 0.2M401.2 542.3l-2.1 0" stroke="#9C0002" stroke-width="2.20"/>
<path d="M467.6 670.9l-0.8 2M443.3 675.1l-1.1 1.9M441 673.8l-1.1 1.9M445.2 662l-1.2 1.8M443.1 660.7l-1.2 1.8M443 648.3l-1.3 1.8M433.5 661.6l-1.3 1.8M426.1 658.7l-1.3 1.7M424.1 657l-1.3 1.7M418.2 660l-1.4 1.7M427 646l-1.4 1.6M420.2 653.7l-1.4 1.6M420.3 642.6l-1.5 1.5M421.3 628.8l-3.1 2.7M415.4 624.9l-1.7 1.3M397.5 617.1l-1.9 1.1M404.6 604.8l-1.9 1.1M397.8 595.5l-2 0.9M396.3 586.3l-2 0.8M390.5 588.4l-2 0.7M373.2 594.5l-2.1 0.8M367.3 582.3l-2.1 0.5M372.6 578.2l-2.1 0.5M377 569.4l-2.1 0.4M390 560.1l-2.1 0.3M366.6 536.7l-2.2-0.1" stroke="#9C0002" stroke-width="2.70"/>
<path d="M522.3 713.1l0.1 2.3M440.7 685.4l-1 2M439.3 682.3l-1.1 1.9M437.9 679.1l-1.1 1.9M416 671.5l-1.4 1.7M409.6 679.4l-1.4 1.8M406.7 669l-1.5 1.7M393.2 661.6l-1.7 1.6M388.1 662.2l-3.2 2.9M392.2 654.5l-1.7 1.5M376.2 637.1l-1.8 1.2M376.3 633.5l-1.8 1.2M366.2 632.6l-1.9 1.2M354.6 614.3l-2.1 0.9M353.4 611.4l-2.1 0.9M348.1 603.4l-2.1 0.8M364 577.4l-2.1 0.5M358.4 550.3l-2.2 0.1" stroke="#9C0002" stroke-width="3.20"/>
<path d="M665.3 398.4l1.7-1.6M519.6 739.7l0 2.4M462.1 731.7l-0.7 2.2M431.3 733.2l-1 2.2M411 717.8l-1.3 2" stroke="#9C0002" stroke-width="3.70"/>
<path d="M748.6 508.8l2.5-0.3M516 760.2l0 2.4M401 749.9l-1.2 2.2M399.2 736.9l-1.3 2.2M384.6 737.2l-1.4 2.1M314.7 653.6l-2.2 1.2" stroke="#9C0002" stroke-width="4.20"/>
<path d="M538.9 200.1l0.1-2.5" stroke="#9C0002" stroke-width="6.20"/>
<path d="M511.8 567l-0.6 2.1M507 582.7l-0.6 2.1M502.9 581.4l-0.8 2M501.8 578.7l-0.9 1.9M500.3 580.2l-0.9 2M500.6 578.1l-1 1.9M505.1 564.2l-1.1 1.9M499.2 572.6l-1.1 1.8M498.9 569.9l-1.3 1.8M495.3 574.9l-1.2 1.8M495.3 569.7l-1.4 1.7M498.3 561.2l-1.6 1.5M499.3 559.2l-1.7 1.4M498.5 558.2l-1.8 1.3M485.5 568.2l-1.8 1.3M485.6 560.9l-2 1M482.8 560l-1.9 1M480.4 559.6l-2 0.9M483.4 547.2l-4.2 0.5M481.2 546.2l-4.2 0.3M485.2 544.2l-2.2 0M479.1 543.6l-2.2 0.1M477 542.2l-2.2 0M483.3 540.6l-2.2-0.2M491.5 540.3l-2.1-0.3M485.5 539l-2.2-0.3" stroke="#880000" stroke-width="0.70"/>
<path d="M523.5 592.1l0.2 2.1M524.4 600.2l0.2 2.2M522.1 612.7l0.2 2.2M513.9 594.3l-0.2 2.1M508.2 595.6l-0.4 2.1M506.8 593.2l-0.4 2.1M505.1 601.2l-0.5 2.1M506.6 586.9l-0.5 2.1M503.6 598.8l-0.6 2.1M502 600.5l-0.5 2.1M502.8 594.3l-0.6 2.1M501 600.2l-0.6 2.1M497.1 605.4l-0.7 2.1M501.4 587.4l-0.7 2M492.6 601.5l-0.9 2M496.9 585.4l-1 1.9M491.4 596.4l-0.9 1.9M497.1 583.2l-1 1.9M490.7 591.4l-1.1 1.9M484.7 602.1l-1.1 1.9M491.9 587.4l-1.1 1.8M482.6 603.2l-1.1 1.9M494.8 579.5l-1.1 1.9M491.9 582.5l-1.2 1.8M485.2 592.8l-1.2 1.8M482.9 596.2l-1.2 1.8M486.6 588.8l-1.2 1.8M477.5 599.9l-1.3 1.8M481.8 590.4l-1.3 1.7M478 595.2l-1.3 1.8M477.1 594.5l-1.3 1.7M475 595.4l-1.4 1.7M489.4 575.5l-1.4 1.6M481.3 584.7l-1.4 1.6M478.6 587.7l-1.5 1.7M475.9 590.8l-1.5 1.6M482 582.5l-1.5 1.6M479.2 585.5l-1.5 1.6M472.3 593.1l-1.5 1.6M483.5 578.3l-1.5 1.6M469.1 592.9l-1.5 1.6M477 583.4l-1.5 1.6M468.9 589.8l-1.6 1.5M478.7 579.2l-1.6 1.5M472.6 584.8l-1.6 1.4M469.6 587.5l-1.6 1.5M484.2 573.1l-1.6 1.5M471.2 583.2l-3.2 2.7M465 588.5l-1.7 1.4M469 583.6l-1.7 1.4M464.2 587.6l-1.7 1.3M473.1 579l-1.7 1.3M467.6 581.9l-1.7 1.3M464.3 584.4l-1.7 1.3M476.8 573.7l-1.8 1.3M463.6 583.5l-1.7 1.3M479.6 570.6l-1.8 1.3M476.3 573l-1.8 1.3M480.8 568.8l-1.8 1.2M469 576.9l-3.5 2.4M471.8 573.8l-1.8 1.2M466.7 577.2l-1.8 1.2M459.9 581.7l-1.8 1.2M476.5 569.7l-1.8 1.1M469.6 574.1l-1.8 1.1M459.2 580.7l-1.8 1.1M470.8 572.2l-3.6 2.2M462.1 577.5l-1.9 1.1M479.1 566.1l-1.8 1.1M468.5 572.4l-1.8 1.1M465 574.5l-1.9 1.1M464.5 573.5l-1.9 1.1M469.4 569.7l-1.9 1M460.4 574.5l-3.7 2.1M476.2 565l-2 1M468.9 568.8l-3.7 2M461.6 572.6l-1.9 1M475.8 564.3l-1.9 1M468.5 567.9l-2 1M475.4 563.6l-1.9 0.9M475.1 562.8l-3.8 1.8M462 568.8l-1.9 0.9M458.3 570.5l-2 0.9M454.6 572.2l-2 0.9M476.6 561.2l-2 0.9M457.4 568.4l-2 0.8M472.2 561.3l-2 0.8M455.1 568l-2 0.8M475.5 558.3l-2.1 0.7M462 563.1l-2.1 0.7M452.3 566.5l-2 0.7M463.6 561.5l-2.1 0.7M459.7 562.8l-6 2M469.1 558.7l-4 1.2M463.3 560.5l-2.1 0.7M459.1 560.7l-2.1 0.6M451.2 563.1l-2.1 0.6M476.5 554.8l-2.1 0.6M466.6 557.5l-2 0.6M454.8 560.8l-4.1 1.1M466.2 555.7l-2.1 0.5M460.2 557.2l-2.1 0.5M474 553l-2.1 0.5M466 554.8l-2.1 0.5M461.8 554.7l-2.2 0.5M461.6 553.7l-2.2 0.4M455.5 554.9l-2.1 0.4M467.5 551.7l-2.2 0.4M461.2 551.8l-2.1 0.3M457 551.3l-2.1 0.3M450.8 550.9l-2.1 0.3M450.7 549.8l-2.2 0.2M454.7 548.3l-4.2 0.3M462.8 546.7l-2.2 0.1M468.8 544.6l-2.1 0M466.8 543.7l-4.3 0.1M450.4 542.7l-2.2 0M456.6 539.6l-2.1-0.2M466.9 539.3l-2.1-0.2M462.9 538l-2.1-0.2M458.8 537.6l-2.1-0.2M459 536.6l-2.2-0.3M463.8 532.3l-2.2-0.4M450.3 527.1l-2.2-0.5M464.4 529.5l-2.1-0.6M456.5 527.4l-2.1-0.5M463 527l-2.1-0.6M465.2 526.7l-2-0.7M475.2 529l-2-0.7M456.2 521.4l-2.1-0.7M474.4 525.3l-2-0.8M457.4 518.2l-2-0.8M471 522.9l-2-0.9" stroke="#880000" stroke-width="1.20"/>
<path d="M539.4 626.5l0.6 2.1M513.8 637.4l-0.1 2.1M512.3 635.2l-0.2 2.2M510.3 622.7l-0.3 2.2M507 638.9l-0.2 2.1M505.3 638.7l-0.2 2.1M507.3 614.1l-0.3 2.2M503 632.1l-0.3 2.2M498.4 631.2l-0.5 2.1M497.5 635.2l-0.4 2.1M498.4 618.6l-0.5 2.1M498.8 612.3l-0.6 2.1M493.3 612.7l-0.7 2.1M490.9 611.8l-0.8 2.1M487.9 619.5l-0.8 2M486.6 618.9l-0.9 2M485.9 607.4l-0.9 1.9M480.5 618.4l-1 1.9M480.1 615.9l-1.9 3.8M481.6 607.4l-1 1.9M471.2 622.7l-1.1 1.8M476.2 611.3l-1.1 1.9M473 616.6l-1.1 1.8M469.8 621.8l-1.2 1.9M471.7 615.8l-1.2 1.8M468.4 621l-1.2 1.8M473.9 609.9l-1.2 1.8M464.8 623.5l-1.2 1.8M466.9 617.5l-1.2 1.8M465.6 616.6l-1.3 1.8M460.7 620.6l-1.3 1.8M461.8 616.4l-1.3 1.7M473.3 599.3l-1.3 1.7M461.8 613.8l-1.3 1.7M459.3 614.4l-1.4 1.6M455.4 619.1l-1.4 1.7M460.7 610.2l-1.4 1.7M459.8 606.7l-1.4 1.6M452.9 614.2l-1.5 1.6M457.3 607.1l-1.5 1.6M451.7 613.1l-1.5 1.6M467.7 594.4l-1.5 1.5M464.8 597.3l-1.5 1.6M453.3 609l-1.5 1.5M455.1 605l-1.5 1.5M464.5 594l-1.6 1.5M451.1 606.7l-3.1 2.9M463.6 593.1l-1.6 1.4M444.3 608.4l-1.6 1.4M450 599.3l-1.7 1.4M450.6 596.8l-1.7 1.4M457.8 589.4l-1.7 1.3M458.2 582.8l-1.8 1.2M439.4 595.3l-1.8 1.2M443.1 585.6l-1.9 1.1M455 577.5l-1.9 1M440.6 585.3l-1.9 1M439.8 583.9l-3.7 2M432.6 587.7l-2 1M450.1 577.1l-1.9 1M446.5 578.9l-2 1M441 581.7l-2 0.9M453.3 574.1l-2 1M428.5 584l-2 0.9M448.5 573.5l-2 0.9M441 576.8l-2 0.8M437.2 578.4l-2 0.9M429.7 581.7l-2 0.8M437.9 574.8l-2 0.8M439.3 572.7l-2 0.7M433.6 574.8l-2.1 0.8M450 566l-2.1 0.7M434 569.8l-2.1 0.6M447.3 564.2l-2.1 0.6M437 565.7l-2 0.6M438.6 563.8l-2.1 0.5M430.3 564.3l-2.1 0.5M433.7 560.4l-2.2 0.5M447.5 556.4l-2.2 0.3M439.2 556.5l-4.2 0.7M432.9 556l-2.2 0.3M434.7 554.3l-2.1 0.2M440.6 552.1l-2.1 0.2M442.5 550.6l-4.2 0.4M422 550.8l-2.2 0.2M432 547l-2.1 0.1M427.9 545.7l-2.2 0M438.1 544l-2.2 0M438.1 542.6l-2.2 0M434 542.6l-2.2-0.1M434 541.1l-2.1-0.1M442.3 540l-2.2-0.1M419.8 537.3l-2.1-0.1M446.5 537.7l-2.2-0.2M426.4 532.9l-2.2-0.3M424.6 531l-2.2-0.3M424.8 529.4l-2.2-0.3M439.2 530.1l-2.2-0.3M429.1 528.4l-2.2-0.3M431.4 527.3l-2.2-0.4M421.3 525.4l-2.1-0.4M432 524.3l-2.1-0.5M426 522.9l-2.1-0.4M430.6 514.1l-2.1-0.7M445.5 514.8l-2-0.8M435.2 498.4l-1.9-1.1M448.9 499.3l-1.9-1.1" stroke="#880000" stroke-width="1.70"/>
<path d="M533.4 661l0.3 2.2M499 656.4l-0.4 2.1M498.3 660.4l-0.4 2.1M490.2 650.3l-0.5 2.1M482.4 663l-0.6 2.1M483.5 646.2l-0.7 2M474.9 658.3l-0.8 2.1M478.7 637.8l-0.8 2.1M477.9 635.3l-0.9 2M472.2 648.4l-0.9 2M476.3 634.6l-0.9 1.9M474.6 638.3l-2.6 5.7M464.1 656l-0.9 2M457.3 654.8l-1 1.9M460.7 633.1l-1.2 1.8M459.2 632.1l-1.2 1.8M449.5 642.8l-1.2 1.8M446 647.9l-1.2 1.8M453.4 630.5l-1.3 1.8M454.2 623.4l-1.4 1.7M446.5 633l-1.3 1.7M448.9 627l-1.4 1.7M444.8 628.9l-1.4 1.7M450.1 619.9l-1.5 1.7M448.9 616l-1.5 1.6M440.5 619.3l-1.5 1.6M434.7 625.1l-1.6 1.5M438.2 613.8l-1.6 1.5M430.7 617.7l-1.6 1.5M440.5 607.1l-1.7 1.4M428.2 614.7l-1.7 1.3M431.3 605.1l-1.8 1.3M424.6 609.9l-1.8 1.2M431.9 602.4l-1.8 1.3M425.1 607.1l-1.8 1.2M431.5 594.2l-1.9 1.1M419.9 598.7l-1.9 1.1M408.2 602.9l-1.9 1M417.2 593.5l-2 1M427.4 586.5l-2 0.9M405.2 597.1l-2 0.9M419.2 588.3l-2 0.9M404.3 595.1l-2 0.9M421.5 583.2l-2 0.9M403.6 588.3l-2 0.8M408.6 584.2l-2 0.7M417.6 578.8l-2.1 0.8M406 582.9l-2.1 0.8M407.4 573.9l-2.1 0.6M403.5 575l-2.1 0.6M397.5 567.8l-2.1 0.4M401.2 564.9l-2.2 0.4M414.9 560.5l-2.1 0.4M406 556l-2.1 0.3M416 553.1l-2.1 0.2M401.6 552.5l-2.2 0.1M399.4 550.5l-2.2 0.2M395.3 550.8l-2.2 0.1M393.2 548.7l-2.2 0.1M403.3 546.3l-2.2 0.1M409.4 542.4l-2.2-0.1M415.7 538.8l-2.2-0.1M412.2 531.3l-2.2-0.3M395.1 520.5l-2.1-0.4M399.6 519.2l-2.2-0.4M418.8 517.7l-2.1-0.6M405.5 512.1l-2.1-0.6M425.3 490.9l-1.9-1.1" stroke="#880000" stroke-width="2.20"/>
<path d="M615.9 636.3l1.6 1.5M513.9 694.7l0 2.2M511.6 686.5l0 2.1M497.6 678.9l-0.9 6.2M474.4 673.4l-0.7 2M472.4 679.2l-0.7 2.1M469.1 667.1l-0.8 2M466.9 672.8l-0.8 2M462.4 671l-0.9 1.9M457.5 682.2l-0.9 2M461 668.1l-0.9 2M447.2 663.2l-1.1 1.9M437.7 664.5l-1.2 1.8M443.7 651.3l-1.2 1.8M433.2 653.7l-2.6 3.4M425.4 655.5l-1.3 1.6M431.5 644.5l-1.4 1.6M421.5 638l-1.5 1.5M409 630l-1.7 1.3M409.6 620.6l-1.8 1.2M397 620.3l-1.8 1.2M404.4 612.8l-1.8 1.2M392.6 608.5l-1.9 1M384.9 606.8l-2 0.9M398.7 597.6l-3.9 1.8M395.2 589.2l-2 0.7M387.8 586.8l-2 0.7M370.4 592.7l-2.1 0.7M374.6 585.7l-2.1 0.7M377.8 582.1l-2.1 0.6M373 570.2l-2.2 0.4M384.3 563.3l-2.2 0.3M367.4 560.4l-2.2 0.3M389.5 555.7l-2.1 0.2M388.9 544.4l-2.1 0M370.8 534.3l-2.2-0.1M371.5 526.6l-2.2-0.2M372.1 521.5l-2.1-0.3M378.6 520l-2.2-0.4M377.8 504.5l-2.1-0.6M395 492.4l-2-0.9M386.7 480.7l-1.9-0.9" stroke="#880000" stroke-width="2.70"/>
<path d="M516.4 715.2l0 2.3M497.1 701.6l-0.3 2.2M480.2 713.1l-0.4 2.3M473 705l-0.6 2.2M446.6 699.7l-0.9 2.1M442.3 688.5l-1 2M435.8 682.6l-2.1 3.7M410.8 688.1l-1.4 1.8M415 668.1l-1.4 1.7M396.2 658.8l-1.7 1.6M377 655.4l-1.8 1.4M364.5 633.7l-2 1.1M355.3 610.7l-2.1 0.8M343.3 595l-2.3 0.7M364 586l-2.1 0.6M362 577.9l-2.1 0.4M358.4 570l-2.2 0.4M341.9 541.8l-2.3-0.1M354.5 533.3l-2.3-0.1M352.6 530.3l-2.2-0.2M360.4 516.9l-2.2-0.3" stroke="#880000" stroke-width="3.20"/>
<path d="M454.4 722.7l-0.8 2.2M422.3 705.5l-1.1 2" stroke="#880000" stroke-width="3.70"/>
<path d="M715.7 641.9l2.2 1.1M476.9 764.6l-0.5 2.4M465.8 760.2l-0.5 2.4M427.3 751.6l-1 2.3M428.8 738.8l-1 2.2M402.5 724.5l-1.3 2.1M390.3 736.1l-1.4 2.1M385.8 735.5l-1.4 2.1M343.4 682.1l-2 1.6M318.9 680l-2.1 1.5M332.8 652.3l-2.1 1.3" stroke="#880000" stroke-width="4.20"/>
<path d="M755.1 459.3l2.4-0.9M756.1 656.9l2.3 1.1" stroke="#880000" stroke-width="4.70"/>
<path d="M420.1 233l-0.8-2.5" stroke="#880000" stroke-width="5.70"/>
<path d="M800.6 370.1l2.1-1.4" stroke="#880000" stroke-width="6.20"/>
<path d="M520.9 569.7l0.3 2.1M521.4 573.8l0.2 2.1M515.9 563.6l-0.2 2.2M510.8 581.5l-0.4 2.1M503.6 581.6l-0.8 2M500.9 580.5l-0.9 2M501.2 578.4l-1 1.9M499.7 579.9l-1 1.9M500.9 575.9l-1 2M502.3 572l-2 3.8M497.1 573.6l-1.3 1.8M495.5 572.5l-1.3 1.7M488.7 572l-1.5 1.5M500.1 560.2l-1.6 1.5M486.8 569.9l-1.7 1.4M498.2 557.9l-1.8 1.3M485.9 561.4l-1.9 1.1M482.3 563.4l-1.9 1.1M487.4 559.9l-2 1M483.4 561.2l-1.9 1M484.7 559.1l-2 1M486 557.2l-2 0.8M478.3 553.5l-2.1 0.6M477.8 551.5l-2.1 0.4M477.6 550.1l-2.2 0.3M477.5 549.3l-2.2 0.4M477.1 545.8l-2.2 0.1M479.1 545l-2.2 0.1M483.2 542.4l-2.2-0.1M481.1 541.7l-2.1-0.1M481.2 541.1l-2.2-0.2M488 536.7l-2.2-0.5M481.1 531l-2.1-0.7M502.2 533.7l-1.8-1.1" stroke="#720000" stroke-width="0.70"/>
<path d="M529.2 586.9l0.5 2.1M525.7 589.7l0.3 2.1M522 586l0.2 2.2M520.8 608.7l0.1 2.2M520.9 612.8l0.1 2.2M519.7 612.8l0.1 2.2M517.4 604.7l-0.1 2.1M512.8 608.6l-0.2 2.1M513.2 592.2l-0.4 4.2M512.3 592.1l-0.2 2.1M509.4 600l-0.3 2.1M508.2 608.1l-0.3 2.1M509.3 589.6l-0.4 2.1M507.5 599.6l-0.4 2.2M508.5 589.4l-0.4 2.1M507.3 591.2l-0.5 2.1M506.4 595.2l-0.5 2.1M503 600.7l-0.5 2.1M501.5 602.4l-0.6 2.1M504.5 588.4l-0.6 2.1M504.4 586.2l-0.7 2.1M503 587.9l-0.7 2.1M501 593.7l-0.7 2.1M495.8 609.3l-0.7 2M502.9 585.7l-2.1 5.9M497.1 598.9l-0.7 2M496.2 598.5l-0.8 2M497.5 592.4l-0.8 2M492.1 605.7l-0.9 2M500 584.6l-0.9 2M491 605.2l-0.9 2M495 593.6l-0.9 1.9M488.7 601.9l-1 1.9M492.4 592.3l-1 1.9M487.6 599l-1 1.9M488.7 594.9l-1.1 1.9M486.7 598.5l-1.1 1.9M495.1 582.1l-2.2 3.6M485.7 597.9l-1.1 1.9M493.3 583.4l-1.1 1.9M491.2 586.9l-1.2 1.9M486.9 593.9l-1.1 1.8M492.6 583l-1.1 1.8M482.7 598.5l-1.1 1.9M490.8 584.2l-1.2 1.8M488.5 587.7l-1.2 1.8M484.6 589.9l-1.2 1.8M479 595.9l-1.3 1.8M488 582.2l-1.3 1.8M478 590l-1.4 1.6M470.6 591.5l-1.5 1.5M487.3 573.4l-1.6 1.5M470.4 588.4l-1.6 1.5M479.6 577.2l-1.6 1.4M471.9 584l-3.1 2.8M469.9 581.5l-1.7 1.4M470.8 579.4l-1.7 1.3M475.1 574.9l-3.3 2.5M466.9 581l-1.7 1.3M462 584.7l-1.8 1.3M472.4 574.6l-1.8 1.2M465.6 579.2l-1.8 1.3M462.3 581.5l-1.8 1.3M477 570.4l-1.8 1.2M465 578.3l-1.8 1.2M473 571.9l-1.8 1.1M467.9 575.2l-1.9 1.1M475.2 567.5l-1.9 1M462.7 574.5l-1.9 1.1M459.1 576.5l-1.9 1.1M465.8 571.6l-1.9 1M479.8 563.1l-1.9 1M479.5 562.5l-2 0.9M466.6 568.9l-1.9 0.9M473.6 564.4l-2 1M460.7 570.6l-2 0.9M461.6 567.8l-2 0.8M459.3 567.6l-2 0.8M455.5 569.1l-2 0.9M474.1 560.5l-2 0.8M460.8 565.8l-2 0.8M464.2 563.4l-2 0.7M456.6 566.2l-2.1 0.8M452.7 567.7l-2 0.7M468.4 556.1l-6.1 1.6M462.2 556.7l-2.1 0.5M460 556.1l-2.1 0.5M469.6 552.2l-2.1 0.4M471.5 551.1l-2.1 0.3M471.4 550.3l-2.2 0.3M459.2 552.1l-2.1 0.3M455.2 552.7l-4.2 0.6M453 551.8l-2.2 0.3M475.2 548.2l-2.1 0.2M454.8 549.4l-2.2 0.2M469 547.2l-2.2 0.1M456.7 548.1l-2.2 0.2M460.7 545.8l-4.2 0.2M454.5 546.1l-2.1 0.1M460.6 544.8l-2.1 0.1M456.5 541.7l-4.2-0.1M462.7 540.9l-2.2-0.1M466.9 540.2l-2.2-0.2M458.7 539.7l-2.2-0.2M452.5 539.3l-2.1-0.1M471 539.6l-4.2-0.3M454.7 538.3l-2.2-0.1M460.9 537.8l-2.2-0.2M461 536.8l-2.2-0.2M455 535l-2.1-0.3M463.4 534.2l-2.1-0.4M453.3 532.5l-2.1-0.4M473.7 535.1l-2.2-0.4M463.6 533.2l-2.1-0.4M457.6 532.1l-2.2-0.4M453.5 531.4l-2.1-0.4M453.7 530.2l-2.1-0.4M474 533.6l-2.1-0.5M468 532.2l-2.1-0.4M462 530.9l-2.1-0.5M466.2 530.9l-2.1-0.5M458.2 529l-2.1-0.5M457.1 525.3l-2.1-0.6M471.1 528.5l-2.1-0.6M453.5 523l-2.1-0.7M477.2 529.7l-2.1-0.7M475.5 528.3l-2.1-0.7M467.8 525.5l-2.1-0.7M469.1 522.1l-2-0.9M477 524.6l-2-0.9M465.8 519.5l-2-0.9M467.9 511.4l-3.6-2.2M476.3 513.6l-1.8-1.3M469.2 505.9l-1.7-1.3" stroke="#720000" stroke-width="1.20"/>
<path d="M531.1 622l0.3 2.2M529.1 618.2l0.3 2.1M525.4 639.2l0.2 2.2M521.4 623l0.1 2.2M515.5 635.4l-0.1 2.1M512.3 614.7l-0.2 2.2M511.5 624.9l-0.2 2.2M511 614.6l-0.2 2.2M506.4 630.5l-0.3 2.2M505.1 620l-0.4 2.1M497.1 637.2l-0.5 2.1M495.9 634.8l-0.5 2.2M498.2 614.3l-0.6 2.1M495.8 617.9l-0.6 2M490.6 620.5l-0.7 2M487.8 628.2l-1.4 4M489.2 620l-1.4 3.9M490.2 613.7l-1.6 4M481.9 634.7l-0.8 2M485.3 618.4l-0.9 2M485.3 611.6l-0.9 2M480.9 620.9l-0.9 1.9M479.1 624.6l-0.9 1.9M477.9 617l-1.1 1.9M479.5 608.5l-2.2 3.7M475.1 613.1l-1.1 1.8M467.3 622.7l-1.2 1.8M470.5 615l-1.2 1.8M473.9 607.4l-1.3 1.8M468 613.3l-1.3 1.7M464.4 618.3l-1.2 1.7M465.6 614l-1.3 1.8M474.3 600.1l-1.3 1.7M464.4 610.6l-1.4 1.7M458 618.6l-1.3 1.7M472.3 598.6l-1.3 1.6M469.7 601.7l-1.3 1.7M467.1 604.9l-1.3 1.7M471.4 597.8l-1.4 1.6M466.7 599.1l-1.4 1.6M465.8 598.2l-1.5 1.6M461.6 602.7l-1.5 1.6M460.5 601.7l-1.5 1.5M447.9 603.1l-1.7 1.4M448.4 600.6l-3.2 2.7M442.1 605.8l-1.7 1.4M454.6 588.5l-1.8 1.2M446.3 594.4l-1.8 1.3M441.3 598l-1.8 1.2M437.9 600.3l-1.7 1.3M456.5 584l-1.8 1.2M446.2 590.7l-1.8 1.2M450.6 586.2l-1.8 1.1M443.7 590.6l-1.9 1.2M441.1 590.4l-1.8 1.1M445.6 585.9l-1.9 1.1M452 580.6l-1.9 1.1M448.4 582.6l-3.6 2.1M449.6 580.4l-1.9 1M439.1 582.6l-1.9 0.9M445.9 577.7l-2 0.9M446.6 574.3l-2 0.9M431.6 580.8l-2 0.9M436 575.6l-2 0.7M426.5 579.3l-2 0.8M429.7 576.3l-2 0.7M425.9 577.7l-2.1 0.8M449.6 564.8l-2.1 0.7M440.6 563.3l-2.1 0.5M428.3 564.8l-2.1 0.5M445.7 558l-4.1 0.8M429.7 561.3l-2.2 0.4M443.5 557.1l-2.2 0.4M443.2 555.8l-2.1 0.4M431.1 557.8l-2.1 0.4M430.7 554.8l-4.2 0.5M428.4 553.5l-2.1 0.2M432.3 551.5l-2.1 0.2M430.2 550.2l-2.2 0.2M430.1 548.7l-6.3 0.4M421.9 549.2l-2.2 0.1M436.1 546.9l-2.2 0.1M436.1 545.4l-2.2 0.1M436 544l-2.1 0M425.8 544.1l-2.2 0M419.7 544.2l-2.2 0M421.7 542.5l-2.2-0.1M446.3 541.4l-2.2 0M434.1 539.6l-2.2-0.1M442.3 538.7l-2.1-0.2M430.1 537.9l-2.2-0.1M442.7 534.7l-2.2-0.2M434.7 532.3l-4.2-0.5M441 531.8l-2.2-0.3M428.8 530l-2.1-0.3M441.2 530.5l-2.1-0.4M427.1 528.1l-2.2-0.4M443.5 529.5l-2.2-0.4M425.3 526.1l-2.1-0.4M445.7 528.6l-4.1-0.8M444 526.9l-2.1-0.5M448.5 518.7l-4-1.4M436.6 509.6l-2-0.8M439.1 509l-2-0.8M450.9 512.8l-2-0.9M472 485.6l-1.3-1.7" stroke="#720000" stroke-width="1.70"/>
<path d="M550.2 659.7l0.6 2.1M539.2 658l0.4 2.2M533.1 659l0.3 2.1M534.5 669.1l0.2 2.2M512.5 668l-0.1 2.2M504.3 646.8l-0.3 2.1M502.7 659l-0.3 2.1M502.8 644.5l-0.3 2.2M500.7 658.7l-0.4 2.1M494.9 647.2l-0.5 2.1M492.8 640.4l-0.6 2.1M484 650.7l-0.6 2M484.1 644.2l-0.7 2.1M481.5 652l-0.7 2.1M482.4 643.6l-0.8 2.1M476.3 639l-0.9 2M474.7 633.8l-0.9 2M469.7 635.9l-1 1.9M467.5 632.4l-1.1 1.9M463.9 635l-1.1 1.9M464 627.9l-1.2 1.8M456.5 632.7l-1.3 1.8M450.6 631l-1.3 1.7M451.6 626.6l-1.3 1.7M447.6 628.6l-1.4 1.7M439.8 638.1l-1.4 1.6M447.5 617.5l-1.5 1.6M437.6 627.9l-1.5 1.6M430.4 623.5l-1.6 1.5M433.9 615.1l-3.3 2.7M431.4 612.1l-1.7 1.4M423.4 618.5l-1.7 1.3M425.3 614.3l-1.7 1.3M429.1 609l-1.8 1.3M427.4 603.2l-1.8 1.2M428.1 600.5l-1.8 1.2M430.6 592.7l-1.9 1.1M419.9 594.3l-2 1M428.1 588l-1.9 1M409.8 597.2l-1.9 1M403.4 593.1l-3.9 1.7M404.4 590.3l-2 0.8M422 579.1l-2 0.8M410.5 583.4l-2 0.8M405.5 574.5l-2.1 0.6M400.5 571.5l-4.1 1M404 568.6l-2.1 0.4M409.6 565.3l-2.1 0.5M417 560.2l-2.2 0.3M412.9 560.9l-2.1 0.3M414.4 556.9l-2.1 0.3M403.8 554.3l-2.2 0.2M415.9 551.3l-2.2 0.2M417.7 547.7l-2.2 0.1M415.6 542.4l-2.2 0M405.3 542.3l-2.1 0M399.2 542.3l-2.2-0.1M413.8 535.1l-2.1-0.2M392.1 526.7l-2.2-0.2M399.2 521.3l-2.2-0.4M400 517.2l-4.1-1M403 513.6l-2.1-0.6M413.1 508.2l-2.1-0.7M411.8 505.7l-2.1-0.7M433.3 489.4l-1.8-1.2" stroke="#720000" stroke-width="2.20"/>
<path d="M528 671.9l0.2 2.1M519.3 698.9l0 2.2M516.6 686.6l0 2.2M499.5 683.3l-0.3 2.2M488.7 675.2l-0.5 2.1M487.3 681.2l-0.4 2.1M474.2 681.9l-1.3 4M454.2 683l-0.9 2M460.6 663.4l-0.9 2M458.5 662.4l-0.9 1.9M458.4 657.7l-1.1 1.9M456.5 661.3l-1 2M451.4 656.2l-1.1 1.9M448.3 661.5l-1.1 1.8M443 665.5l-1.1 1.8M446.7 650.8l-1.2 1.9M441.8 650l-2.4 3.4M438.1 647.2l-1.3 1.8M419.8 627.1l-1.6 1.4M399.6 644.3l-1.7 1.5M413.8 626.1l-1.7 1.4M386.7 605.9l-1.9 0.9M387.5 602.7l-2 0.9M371.5 589.5l-2.1 0.6M374.5 567.3l-2.1 0.3M369.4 560.2l-2.1 0.3M382.8 544.5l-4.2 0M374.6 542l-2.2 0M382.5 510.8l-2.1-0.5M381.1 507.9l-2.1-0.5M375.9 503.9l-2.1-0.6M391.4 496l-2.1-0.8M399.7 486.9l-2-0.9M399.9 481.9l-2-1" stroke="#720000" stroke-width="2.70"/>
<path d="M533 700.2l0.2 2.2M519.4 717.3l0 2.2M502.8 700.2l-0.2 2.2M500.2 726.6l-0.2 2.3M472.6 696.4l-0.7 2.1M470.2 704.2l-1.2 4.1M470.5 693.6l-0.7 2.1M466.8 705.3l-0.7 2.2M460.1 716l-0.7 2.2M452.6 709l-0.8 2.1M439.4 700.8l-1.1 2.1M434.7 703l-1 2.1M410.9 677.8l-1.4 1.8M417.6 664.9l-1.4 1.7M373.4 654.2l-1.8 1.4M386.3 640.7l-1.8 1.3M354.9 573.5l-2.2 0.4M350.6 530.1l-2.3-0.1M353.4 509.8l-2.2-0.4M374.6 452l-1.9-1.2" stroke="#720000" stroke-width="3.20"/>
<path d="M566.6 746.2l0.6 2.4M540.8 744.6l0.3 2.4M537.1 742.9l0.2 2.4M530.1 743.5l0.2 2.3M445.2 728l-0.9 2.2M394.5 682.8l-1.5 1.7" stroke="#720000" stroke-width="3.70"/>
<path d="M481.1 763.3l-0.4 2.4M429 747.8l-1 2.3" stroke="#720000" stroke-width="4.20"/>
<path d="M544.7 202.6l0.2-2.6" stroke="#720000" stroke-width="6.20"/>
<path d="M523.2 583.8l0.3 2.2M519.5 563.7l0.2 2.1M520.3 582.1l0.2 4.2M518.8 576l0 2.2M517.6 580.1l-0.1 4.2M515.6 563.6l-0.3 2.1M514.7 567.6l-0.3 2.2M510.4 583.5l-0.3 2.1M512.7 565.1l-0.6 2.2M502.4 578.9l-0.9 2M501.5 576.2l-1 2M497.6 576.4l-1.1 1.9M503.8 558.1l-1.5 1.6M489.7 573l-1.4 1.5M481 560.9l-2 0.9M483.6 549l-2.1 0.4M479.3 547.7l-2.2 0.2M483.3 546.6l-2.2 0.2M483.2 544.8l-2.2 0.1M489.4 540.6l-2.1-0.3M485.6 538.5l-2.2-0.4M481.7 536.6l-2.1-0.4M484 535.8l-4.2-0.9M484.2 528.6l-2-0.8M489.4 527.2l-1.9-1.1M488 525.7l-1.9-1.1M495.5 529l-1.8-1.1" stroke="#844650" stroke-width="0.70"/>
<path d="M534.2 598.2l0.6 2.1M534.8 604.4l0.6 2.1M535.9 608.4l0.6 2.1M531.8 611.5l0.4 2.1M522.7 604.5l0.2 2.2M518.5 610.8l0 2.2M517.5 586.2l0 2.2M516.6 594.4l-0.1 2.2M515.1 606.7l-0.1 2.1M515.2 588.2l-0.3 4.2M513.4 590.1l-0.2 2.2M511.6 598.2l-0.2 2.1M510.2 602.1l-0.6 4.2M509.1 610.2l-0.3 2.2M510.3 593.9l-0.3 2.1M506.4 611.9l-0.3 2.2M507.8 597.6l-0.4 2.1M504.3 584l-0.7 2.1M501.7 591.8l-0.7 2.1M500.1 593.4l-0.7 2.1M500 591.2l-0.8 2M493.2 606.1l-0.8 2M496 596.2l-0.9 2M490.2 607.1l-0.9 2M488.8 604.2l-0.9 2M490.5 595.9l-1.9 3.8M493 585.6l-1.1 1.9M486.7 596.2l-1.1 1.9M484.8 597.4l-1.2 1.8M478.5 600.6l-1.2 1.8M489.9 581.1l-1.3 1.8M479.7 591.3l-1.4 1.7M486.7 581.2l-1.4 1.7M482.7 583.1l-1.5 1.7M474.5 592.3l-1.4 1.7M472.7 587.8l-1.6 1.5M467.4 584.9l-1.7 1.4M483.4 568.8l-1.8 1.3M463.9 580.4l-1.7 1.2M466.1 576.3l-1.8 1.1M459.7 577.6l-1.9 1.1M461.1 571.6l-1.9 1M456 570.2l-2 0.9M466.9 564.4l-2 0.9M453.6 569.9l-2 0.9M462.7 565l-2 0.8M458.9 566.5l-2 0.8M471.9 560.5l-2 0.8M466.2 562.6l-2.1 0.8M460 563.8l-2 0.7M454.3 565.8l-2.1 0.8M457.4 562.4l-2.1 0.6M474.5 555.3l-2.1 0.6M475.4 549.6l-2.1 0.4M451.1 553.3l-2.1 0.3M473.1 547.6l-2.1 0.2M448.5 547.5l-2.2 0.2M470.9 545.4l-2.2 0M464.7 544.7l-2.1 0M450.4 543.9l-2.2 0M465 538.2l-2.2-0.2M471.2 538l-2.2-0.3M456.9 536.4l-2.1-0.3M469.3 536l-2.1-0.3M451.1 533.3l-2.1-0.3M467.5 534.9l-2.2-0.4M459.4 533.5l-2.2-0.4M465.6 533.6l-2.1-0.4M466 531.8l-2.1-0.5M470.4 531l-4.1-1M458.5 527.9l-2.1-0.5M454.5 526.9l-2.1-0.5M468.6 529.6l-2.1-0.5M456.8 526.4l-2.1-0.6M468.9 528.8l-6-1.8M477.4 529l-2-0.8M469.7 526.2l-2.1-0.7M458.1 522.1l-2-0.7M468.1 524.7l-2.1-0.8M476 526.8l-2-0.8M468.4 523.8l-2-0.8M463.1 520.6l-5.8-2.4M457.9 517.2l-2-0.9M475.1 523.8l-2-0.9M469.5 521.2l-2-0.9M454.6 514.4l-2-0.9M473.6 522.2l-2-1M468.9 517.8l-1.9-1M476.6 520.9l-2-1.1M472.6 515.5l-3.6-2.2M462.1 509.1l-1.9-1.1M464.4 509.2l-1.8-1.1M470.1 511.7l-1.8-1.2M463.3 507.2l-1.8-1.2M462.3 505.1l-1.8-1.3M470.2 508l-1.7-1.3M476.3 510.2l-1.7-1.4M481.6 513.4l-1.7-1.4M475.9 507.4l-1.7-1.4M470.4 501.3l-1.6-1.5M484.7 512.9l-1.6-1.5M474.2 497.3l-1.5-1.6" stroke="#844650" stroke-width="1.20"/>
<path d="M547.6 608.5l0.9 1.9M536.3 614.6l0.6 2.1M538.9 624.5l0.6 2.1M531.7 617.7l0.8 4.2M533.6 627.8l0.4 2.2M534.3 631.8l0.4 2.2M528.1 632.8l0.2 2.1M524.8 614.6l0.2 2.2M527.1 639.1l0.2 2.1M525.3 637.2l0.2 2.1M519.8 616.9l0.1 2.2M520.5 641.5l0 2.2M515.9 621l-0.1 2.2M514.3 625.1l-0.1 2.2M513.3 618.9l-0.2 2.1M512.1 616.7l-0.2 2.2M511.6 622.9l-0.1 2.1M504.9 630.3l-0.3 2.2M503.2 615.5l-0.4 2.1M500.8 627.5l-0.5 2.2M501.5 617.2l-0.5 2.1M500.6 621.2l-0.4 2.1M492.7 634l-0.5 2.1M489 635l-0.7 2.1M492.6 619l-0.7 2M490.6 624.8l-0.7 2.1M488.7 630.6l-0.7 2.1M487.4 634.5l-0.7 2.1M489.9 622.4l-0.7 2M492.1 612.3l-0.8 2M487.8 623.8l-0.8 2M488.9 613.3l-0.8 2M482.8 624l-0.9 2M477.4 628.3l-1 1.9M474.1 631.2l-1 2M478.6 612.8l-1.1 1.9M472.7 609.1l-1.2 1.8M469.1 598.5l-1.5 1.6M465.4 600.6l-1.5 1.6M464.4 599.7l-1.5 1.6M448.9 604.3l-1.6 1.5M461.9 587.9l-1.7 1.3M451.3 569.5l-2.1 0.8M435.5 574.1l-2.1 0.8M450.4 567.2l-2.1 0.7M432.5 571.9l-2.1 0.7M441.4 566l-2.1 0.6M431.6 568.9l-2.1 0.6M448.6 561.2l-2.1 0.6M442.6 562.8l-2.1 0.5M448.3 560l-2.2 0.5M438 561l-2.1 0.5M439.7 559.2l-2.1 0.4M435.4 558.6l-2.1 0.4M441.2 556.1l-2.1 0.4M441 554.8l-2.2 0.3M446.9 552.6l-2.2 0.3M436.2 548.3l-2.2 0.1M425.9 547.3l-2.2 0.1M421.7 544.1l-2.2 0.1M427.9 542.5l-2.2 0M444.3 540.1l-2.2-0.1M434.2 538.2l-2.2-0.2M442.4 537.4l-2.1-0.2M432.2 536.6l-2.2-0.2M420 535.6l-2.2-0.2M434.4 535.3l-2.2-0.3M420.1 533.9l-2.2-0.2M422.3 532.4l-2.1-0.2M440.8 533.2l-2.2-0.3M430.7 531.8l-2.2-0.3M432.9 530.6l-4.2-0.6M433.1 529.1l-4.1-0.7M435.4 528l-2.1-0.4M448 527.8l-2.1-0.5M438 525.6l-2.1-0.5M434 524.7l-2.1-0.5M432.3 522.8l-2.1-0.6M448.6 525.4l-2.1-0.6M444.9 523.1l-2.1-0.6M447.3 522.4l-2.1-0.6M442.2 518l-4-1.4M438.8 515.3l-2-0.7M429.2 511.9l-2.1-0.8M443.1 515.4l-2-0.8M441.7 513.3l-3.9-1.5M432.2 509.5l-2-0.8M438.5 510.4l-2-0.8M434.1 505.1l-2-0.9M447.9 493.4l-1.7-1.3M459.5 498.5l-1.8-1.4M465.8 480.1l-1.3-1.6" stroke="#844650" stroke-width="1.70"/>
<path d="M605.4 632.4l1.5 1.5M570.9 633.2l1.1 1.9M551.4 637.8l0.7 2.1M531.5 646.8l0.3 2.1M532.9 656.9l0.2 2.2M530.2 651.1l0.2 2.1M528.7 655.4l0.2 2.1M527.9 669.8l0.1 2.2M520.7 649.7l0 2.2M511.8 643.4l-0.2 2.2M509.9 645.3l-0.2 2.2M495.1 666.1l-0.4 2.1M486.2 657.7l-0.6 2.1M485.3 646.8l-0.7 2M468.9 655.9l-0.8 2M472.1 639.4l-1 1.9M458 641l-1.1 1.9M442.4 645.3l-1.3 1.8M449.4 632.6l-1.4 1.7M424.5 623.1l-1.6 1.4M435.8 611l-1.7 1.4M423.7 588.2l-2 1M396.9 581.5l-2.1 0.6M402.1 577.6l-2.1 0.6M401.6 567l-2.2 0.4M397.4 550.7l-2.2 0.1M417.6 540.7l-2.1-0.1M411.6 538.7l-2.2-0.1M408.3 528.9l-2.1-0.3M416.7 528.2l-2.2-0.3M397.1 520.9l-2.1-0.4M402.5 515.6l-4.1-1M419.3 516l-2.1-0.6M418.3 511.9l-2-0.6M410.5 509.4l-2-0.6M412.8 497.6l-2-0.9M409 496l-2-0.9M403.4 493.5l-2-0.9M427.4 500.1l-2-0.9M414.4 489.4l-1.9-1M417.8 479.5l-1.9-1.2M430.2 476l-1.7-1.3" stroke="#844650" stroke-width="2.20"/>
<path d="M581.6 683l0.9 2M579.1 684.1l0.9 2M559.5 667.5l0.7 2.1M542.5 676.1l0.4 2.2M542.6 690.7l0.3 2.1M530.3 671.7l0.2 2.1M519.2 690.7l0 2.2M514.4 676.3l0 2.2M511.6 688.5l-0.1 2.2M503 698.2l-0.2 2.1M501.2 689.7l-0.2 2.2M501.1 671.2l-0.3 2.1M500 679.3l-0.6 4.2M494.9 680.6l-0.3 2.1M490 669.2l-0.5 2.1M484.9 680.6l-0.5 2.2M398 614l-1.9 1.1M398.8 592.7l-2.1 0.8M389.1 548.9l-2.2 0.1M378.8 549.4l-2.1 0.1M365.1 528.6l-2.2-0.2M388.4 504.9l-6.1-1.8M392.5 498.9l-2.1-0.7M378.2 479.6l-2-0.9M396 485.1l-2-0.9M404.6 481.8l-3.7-2M403.9 478.8l-1.9-1.1M397 466.3l-1.8-1.2M416.7 453.8l-1.6-1.5" stroke="#844650" stroke-width="2.70"/>
<path d="M594.5 690.4l1 1.9M551.8 709.8l0.4 2.2M516.4 719.3l-0.1 2.3M501 718.5l-0.2 2.3M491.5 700.8l-0.3 2.2M470.9 712.9l-0.6 2.2M460.8 714.1l-0.8 2.2M442.7 681.8l-1.1 2M396.7 662.4l-1.6 1.6M378.1 632.4l-1.9 1.2M350.8 527.2l-2.2-0.2M362.4 517.3l-2.1-0.4M354.9 513.1l-2.2-0.4M357 495.6l-2.2-0.6M346.2 482.5l-2.2-0.8M368.3 487.4l-2-0.8M359.6 457.4l-2-1.1M373.1 454.5l-2-1.1M387.9 450.6l-1.8-1.3M394.7 441.7l-1.7-1.4" stroke="#844650" stroke-width="3.20"/>
<path d="M529.9 739.4l0.1 2.3M516.2 735.7l0 2.3M494 752.7l-0.2 2.4M450.3 734.3l-0.8 2.2M443.5 722.9l-0.9 2.2M407.4 698.2l-1.4 1.9M380.6 417.5l-1.7-1.6M387.4 410.5l-1.7-1.7" stroke="#844650" stroke-width="3.70"/>
<path d="M540.3 775.5l0.2 2.5M534.9 759.5l0.2 2.5M528.4 784.5l0.1 2.5M495.5 775.5l-0.2 2.5M489.9 756.3l-0.4 2.4M481.4 761.2l-0.4 2.5M417.5 753.8l-1.1 2.3" stroke="#844650" stroke-width="4.20"/>
<path d="M600.5 776.7l0.9 2.4" stroke="#844650" stroke-width="4.70"/>
<path d="M523.9 583.7l0.4 2.2M521.1 571.7l0.3 2.2M512.6 583.8l-0.3 2.2M511.9 575.5l-0.4 2.1M509 583.2l-0.4 2.1M504.9 582.1l-0.7 2M504.9 579.9l-0.7 2.1M481.1 544.9l-2.1 0.1M485.2 543.6l-2.2 0M485.3 540.7l-2.2-0.1M481.2 540.4l-2.2-0.2M486 536.2l-2.2-0.4M482.8 532.2l-2.1-0.6M486.8 527.8l-1.9-1M484.1 524.2l-1.9-1.1M484.4 523.6l-1.8-1.1M484.8 523l-1.9-1.1" stroke="#865864" stroke-width="0.70"/>
<path d="M539.1 589.8l0.9 2M540.8 593.6l0.9 1.9M540.1 602.7l0.8 2M538 603.4l0.7 2.1M532.7 590.1l0.6 2.1M535.7 599.9l0.7 2.1M527.2 585.2l0.5 2.1M532.5 609.2l0.5 2.1M526.9 587.4l0.4 2.1M531.4 609.5l0.4 2.1M525 585.7l0.3 2.1M529 609.9l0.4 2.1M526.7 602l0.3 2.1M528.2 612.1l0.3 2.2M520.8 590.3l0.1 2.1M521.3 598.4l0.1 2.2M520.5 602.6l0.1 2.1M518.3 594.4l0.1 2.2M518.4 602.6l0 2.2M518.5 612.9l0 2.1M516.2 606.7l0 2.2M513.8 610.7l-0.2 2.2M512.6 610.6l-0.2 2.2M511.2 602.2l-0.3 2.2M510 595.9l-0.3 2.2M508.5 606l-0.3 2.2M509.8 591.7l-0.4 2.2M506.8 609.9l-0.4 2.1M499.7 597.6l-0.7 2.1M494.7 608.9l-0.7 2M498.4 592.8l-0.8 2M494.2 597.7l-0.8 2M484.7 604.4l-1 1.9M493.7 586l-1 1.9M486.2 572.3l-1.6 1.5M474.1 576.9l-1.7 1.3M465.3 570.7l-2 1M460.5 558.2l-2.1 0.5M472.9 545.3l-2.1 0.1M448.3 543.9l-2.1 0M464.7 542.8l-2.2 0M450.4 540.4l-2.1-0.1M458.8 538.6l-2.2-0.1M465.1 537.3l-2.2-0.3M473.3 537.4l-4.2-0.5M465.2 536.4l-2.2-0.3M473.5 535.9l-4.1-0.7M471.6 534.7l-2.1-0.4M451.5 531l-2.1-0.4M451.7 529.8l-4.1-0.8M468.2 531.4l-2.1-0.5M462.2 529.9l-2.1-0.5M466.6 529.1l-2-0.6M469.4 527.1l-2.1-0.7M462 523.5l-2.1-0.7M452.3 520.1l-2-0.7M466.5 523.1l-2-0.8M463.5 519.6l-2-0.8M468.5 518.7l-2-1M459.8 513.1l-1.9-1M464 514l-1.9-1M466.8 513.2l-1.9-1.1M463.3 511.1l-1.9-1.1M467.3 508.5l-1.8-1.2M460.6 503.9l-1.8-1.2M471.3 510l-1.8-1.2M483.8 517.2l-1.7-1.4M477.3 512.2l-1.7-1.4M462.7 500.9l-1.7-1.3M482.7 515.3l-1.7-1.4M485.7 514.8l-3.1-2.8M471.9 502.6l-1.6-1.4M468.9 499.9l-1.7-1.4M468.1 497.7l-1.6-1.5M485.3 512.3l-1.6-1.5M479.3 506.7l-1.6-1.5M472.7 498.8l-1.6-1.5M474.9 499.5l-1.5-1.5M485.5 509.2l-1.5-1.6M482.7 506.2l-1.5-1.6M475.7 498.8l-1.5-1.6M490 510.6l-1.4-1.6M482.2 498.5l-1.3-1.7M484 492.1l-1.2-1.8" stroke="#865864" stroke-width="1.20"/>
<path d="M559.2 616.3l1.1 1.9M559.9 627.6l1 1.9M553.9 634.7l0.8 2M543.7 612.3l0.8 2M549.1 636.5l0.7 2M539.9 628.5l0.6 2.1M533.2 625.8l0.4 2.1M532.1 628.1l0.3 2.1M534.1 640.2l0.4 2.1M531.5 634.4l0.3 2.1M529 640.9l0.3 2.2M526.7 635l0.2 2.1M523.9 641.4l0.1 2.1M517.1 633.3l0 2.2M515.8 623.1l0 2.2M514.2 629.2l-0.1 2.1M513.7 639.4l-0.1 2.2M512.8 627l-0.2 2.2M504.1 617.7l-0.4 2.2M489.2 624.3l-0.7 2.1M481.1 632.2l-0.8 2M472.5 630.4l-1 2M476.3 601.6l-1.3 1.8M454.2 615.3l-1.5 1.7M464 602.1l-1.5 1.6M444.7 575.1l-2 0.9M442.3 547.9l-2.1 0.2M440.5 535.8l-2.2-0.2M428.3 534.7l-2.2-0.2M440.6 534.5l-2.1-0.2M447.7 529l-2.1-0.4M440 526l-2.1-0.4M422 522l-2.1-0.4M436.3 523.7l-2.1-0.5M438.6 522.8l-2.1-0.5M434.7 521.8l-2.1-0.6M439 521.4l-2.1-0.6M450 520.6l-2.1-0.7M445.1 516.1l-2.1-0.8M443.6 514l-2-0.7M432.8 508.1l-5.8-2.4M437.2 508.2l-2-0.9M447.1 506.4l-1.9-1M441.7 503.6l-2-1M447.8 505.2l-1.9-1M444.9 502l-1.9-1.1M443.8 499.7l-1.8-1.1M440.3 497.6l-1.9-1.1M456.8 505.9l-1.8-1.2M457.5 504.8l-1.8-1.1M445.4 497.1l-1.8-1.2M449.6 498.1l-1.8-1.2M448.8 495.8l-1.8-1.3M449.7 491l-1.7-1.3M445.8 486l-1.7-1.4M442.6 483.4l-1.7-1.3M454.7 491.2l-1.6-1.3M443.7 482.1l-1.7-1.4M465.1 494.9l-1.6-1.5M460.6 490.8l-1.6-1.5M448.5 479.7l-1.6-1.5M458.5 487l-1.6-1.5M452.2 478.7l-1.5-1.5M470.4 489.7l-1.4-1.7M466.8 476.7l-1.3-1.7M462 465l-1.2-1.8" stroke="#865864" stroke-width="1.70"/>
<path d="M615.6 621l1.7 1.4M556.6 646.8l0.8 2.1M556.2 657.8l0.7 2.1M553.4 663l0.6 2.1M549.1 655.7l0.6 2.1M548.7 662.2l0.5 2.1M542.7 655.2l0.5 2.1M531 642.7l0.3 2.2M528.1 649.2l0.2 2.2M525.8 643.3l0.1 2.1M524.1 645.4l0.2 2.2M522.5 649.6l0.1 2.2M520.8 653.8l0.1 4.2M511.5 647.5l-0.1 2.2M495 655.6l-0.4 2.2M476.2 661l-0.7 2.1M439.1 629.3l-1.5 1.6M427.9 617.5l-1.7 1.4M417.3 524.7l-2.2-0.4M406.4 516.5l-2.1-0.5M401.5 511l-2.1-0.6M422.3 513.1l-2.1-0.6M422 507.5l-2-0.8M415.1 502.8l-2.1-0.8M417.7 501.8l-2-0.8M406.1 492.4l-1.9-0.9M408.9 491.3l-2-0.9M427.1 496l-1.9-1M416.2 490.4l-1.9-1M411.4 478.1l-1.8-1.2M422.3 480l-1.8-1.2M417.2 476.6l-1.8-1.2M435.2 486.5l-1.7-1.2M413.3 471.4l-1.8-1.2M437.3 483.6l-1.8-1.2M429.1 477.6l-1.8-1.3M438.3 482.2l-1.7-1.3M417.2 466l-1.7-1.3M434.2 474.3l-1.7-1.4M429.5 470.4l-1.7-1.4M450.9 452.8l-1.3-1.7" stroke="#865864" stroke-width="2.20"/>
<path d="M562.3 668.7l0.7 2.1M552.8 688.6l1 4.1M542.1 674.1l0.4 2.2M514.1 686.5l0 2.2M511.3 694.6l-0.1 2.2M500.5 695.8l-0.2 2.2M487.8 679.2l-0.5 2.1M436.9 648.9l-1.3 1.7M408.7 615.6l-1.9 1.2M380.9 549.3l-2.2 0.1M389.4 495.3l-2-0.8M384.6 490.8l-2-0.8M379 482.9l-2-0.9M398.8 483.9l-1.9-0.9M393.8 475.9l-1.9-1M407.9 475.9l-1.8-1.1M397.5 469.5l-1.9-1.1M409 456.6l-1.7-1.3M422.1 442.3l-1.5-1.5M424.9 426.3l-1.4-1.7M434.4 421.8l-1.2-1.8" stroke="#865864" stroke-width="2.70"/>
<path d="M557.1 706.5l0.5 2.2M547.7 704.3l0.4 2.2M549.6 714.4l0.4 2.2M543 711.3l0.3 2.2M536.9 710.1l0.3 2.2M537.4 714.1l0.2 2.3M516.5 707l-0.1 4.3M516.3 725.4l0 2.3M513.6 709l-0.1 2.3M370.4 482.2l-2.1-0.8M354.6 472.3l-2.1-0.9" stroke="#865864" stroke-width="3.20"/>
<path d="M592.1 731.8l0.9 2.2M588.1 731.1l0.9 2.3M585.5 734.3l0.8 2.2M579.6 727.7l0.7 2.2M573.9 720.9l0.7 2.2M577.6 732.6l0.7 2.3M533.2 737.1l0.1 2.4M534.6 755.4l0.2 2.5M529.6 735.3l0.2 2.3M512.5 747.9l0 2.4M493.8 754.7l-0.3 2.5" stroke="#865864" stroke-width="3.70"/>
<path d="M747.1 513.1l4.5-0.6M592.3 753.5l0.9 2.4M597.8 768.9l0.9 2.4M581.8 759.1l0.7 2.4M572.7 755.3l0.6 2.3M564.8 755l0.6 2.4M550.9 763.9l0.3 2.4M519.9 772.4l0 2.5" stroke="#865864" stroke-width="4.20"/>
<path d="M242.7 630.1l-4.3 1.3M241.3 625.2l-4.4 1.3" stroke="#865864" stroke-width="5.20"/>
<path d="M200.4 631.3l-4.4 1.3" stroke="#865864" stroke-width="6.20"/>
<path d="M140.9 620l-2.5 0.5" stroke="#865864" stroke-width="6.70"/>
<path d="M138.8 620.4l-2.5 0.5" stroke="#865864" stroke-width="7.20"/>
<path d="M532.9 565.2l1.3 1.8M532.5 570.2l1.1 2M534.3 576.2l1 2M535.5 580.2l0.9 2M521.6 571.7l0.3 2.1M512.8 581.8l-0.3 2.2M481.2 545.5l-2.2 0.2M478.5 532.4l-2.1-0.6M490 526.2l-1.8-1.1M504.8 533.6l-1.8-1.3M502.1 530.3l-1.6-1.4M501.7 522.2l-1.3-1.7M499.2 519l-1.3-1.7M505.8 526.9l-1.3-1.8M501.9 517.2l-1.2-1.9" stroke="#866A74" stroke-width="0.70"/>
<path d="M552.3 578.3l1.5 1.6M551.5 592.2l1.2 1.8M542.1 581.2l1.1 1.9M543.5 585.2l1.2 1.8M544.3 591.8l1 1.9M549.1 603.2l1.9 3.7M543.5 594.6l0.9 1.9M540 591.7l0.9 2M538.3 590.2l0.9 2M533.7 585.4l1.4 4M535 591.5l0.7 2.1M540.4 606.9l0.8 2.1M536.1 597.6l0.7 2.1M537 603.8l0.6 2.1M527.6 587.2l0.5 2.1M524.6 587.8l0.3 2.1M523.8 587.9l0.3 2.2M524.2 598.2l0.2 2.1M523.6 602.4l0.2 2.1M521.8 606.6l0.1 2.2M518.3 586.2l0 2.2M518.5 606.7l0 2.2M515.8 592.3l-0.1 2.2M502.3 589.9l-0.7 2M456.5 543.8l-2.1 0.1M454.9 536.1l-2.2-0.2M469.5 535.2l-2.2-0.4M450.5 525.9l-2.1-0.6M472.8 529.9l-2.1-0.6M473.6 527.6l-2.1-0.7M454.7 519.7l-2.1-0.8M460.8 520.8l-2-0.8M457 519.3l-2-0.8M479.8 523.5l-1.9-1M480.2 522.8l-2-1M478.7 521.1l-1.9-1M464.5 513.1l-1.9-1.1M460.9 511.1l-1.9-1.1M458.6 507l-1.9-1.2M467.9 507.7l-1.7-1.3M474.1 509.7l-1.7-1.3M474.7 508.9l-1.7-1.3M471.5 506.4l-1.7-1.4M466.7 502.5l-1.7-1.3M478.4 510.8l-1.6-1.4M475.3 508.2l-1.7-1.4M470.5 504.3l-1.6-1.4M482.7 512.1l-1.7-1.4M478.7 507.4l-1.6-1.5M480.8 508.1l-1.6-1.5M480.6 505.4l-1.5-1.6M473.4 498.1l-1.5-1.6M486.9 510.7l-1.5-1.6M477.1 500.3l-1.5-1.6M477.2 497.3l-1.4-1.6M483.4 502.9l-1.5-1.7M478 496.6l-1.4-1.6M478.4 493.7l-1.3-1.7M488 504.4l-1.3-1.8M476.5 487.4l-1.3-1.8M486.3 495.5l-1.2-1.8M492.4 487.4l-0.9-1.9" stroke="#866A74" stroke-width="1.20"/>
<path d="M573.5 624.3l1.3 1.8M554.2 605l1.2 1.9M559.4 613.8l1.1 1.9M552.1 606.2l1 1.9M549.9 607.4l0.9 1.9M551.8 617.8l0.9 2M553.9 630.3l0.9 2M534.6 612.9l0.5 2.2M537.5 624.9l0.5 2.1M537.4 631.2l0.5 2.1M535.4 637.9l0.4 2.1M533.1 634.1l0.4 2.2M528 620.4l0.3 2.2M530.7 640.7l0.3 2.2M525.6 641.2l0.2 2.2M523.5 635.2l0.2 2.2M521.9 635.3l0.1 2.2M493.8 636.4l-0.5 2.1M431.7 525.8l-2.2-0.5M446.6 524.9l-4.1-1.1M448.9 524.2l-2.1-0.6M449.6 521.8l-2.1-0.7M443.7 519.9l-2-0.6M436.4 516l-2.1-0.7M428.4 508l-3.9-1.5M443.4 509.4l-2-0.9M450.1 509.5l-1.9-1M453.8 507l-1.9-1M435 494.5l-1.9-1.1M450.6 500.4l-1.8-1.1M439.4 491.3l-1.8-1.2M458.9 502.7l-1.8-1.2M451.3 495.8l-1.8-1.3M444.8 480.8l-1.7-1.4M464.3 495.8l-3.2-2.8M445.9 479.6l-1.7-1.5M456.9 474.3l-1.5-1.6M462.1 477.9l-1.4-1.6M469.2 477.5l-1.3-1.7M465.1 460.4l-1.2-1.8M471.9 468.3l-1.1-1.9M477.4 474.5l-1.1-1.8" stroke="#866A74" stroke-width="1.70"/>
<path d="M585.7 638.3l1.2 1.8M589.2 643.3l1.3 1.8M583.1 649.8l1.2 1.8M567 637.7l1 1.9M563.6 634.9l0.9 1.9M557.7 644.2l0.8 2.1M555.6 655.9l0.7 2M551 655.2l0.7 2.1M546.1 652.3l0.5 2.1M539.1 647.6l0.5 2.1M537.5 660.4l0.4 2.1M532.7 642.5l0.3 2.1M528.3 651.3l0.4 4.2M530.1 669.6l0.2 2.2M518.9 653.8l0 2.2M459.3 655.9l-1 1.9M417 526.4l-2.2-0.3M418 521.2l-2.1-0.5M401 513.1l-2.1-0.6M420.9 510.8l-2.1-0.7M399.8 496.8l-2-0.8M411.7 490.3l-2-0.9M419.9 487.9l-1.9-1.1M412.6 476.2l-1.8-1.2M430.9 485.7l-1.9-1.2M415.5 475.5l-1.8-1.2M415 472.6l-1.8-1.3M432.3 480l-1.7-1.3M428.2 471.9l-1.7-1.3M439.4 471.4l-1.6-1.5M439 463l-1.5-1.5M441.8 463.1l-1.5-1.6M431.9 452.7l-1.4-1.6M444.8 457.7l-1.4-1.7M445 454.9l-1.4-1.7M458.5 460l-2.5-3.5M449.7 436.3l-1.2-1.9" stroke="#866A74" stroke-width="2.20"/>
<path d="M599.2 675.9l1.1 1.9M577.5 680.3l0.9 2M564.5 667.9l0.8 2.1M516.5 698.9l0 2.2M514 692.7l-0.1 2.2M512.2 674.2l-0.1 2.2M382 497.8l-2.1-0.7M396.9 493.2l-2-0.9M397.8 486l-2-0.9M393.2 472.7l-1.9-1M394 467.4l-1.9-1.2M403.2 464.5l-1.8-1.3M414.2 466.6l-1.7-1.3M410.5 454.8l-1.7-1.4M421.8 445.5l-1.6-1.6" stroke="#866A74" stroke-width="2.70"/>
<path d="M594.6 704l0.9 2.1M565.3 693.6l0.7 2.1M567.1 720.8l0.6 2.2M552.2 711.8l0.4 2.2M503.8 722.8l-0.2 2.3M497.3 699.6l-0.3 2.2M494.3 701.2l-0.3 2.2M379.7 441l-1.8-1.3M388 443.6l-1.8-1.3M384.7 441.1l-1.7-1.3M393.1 440.4l-1.7-1.4M422.7 388l-1.2-2" stroke="#866A74" stroke-width="3.20"/>
<path d="M609.6 719.4l1.1 2.1M611.4 723l1.1 2.1M583.1 717.7l0.8 2.2M324.1 528l-2.4-0.1" stroke="#866A74" stroke-width="3.70"/>
<path d="M732 431.8l2.3-1.1M637.6 738.7l1.3 2.1M593 755.5l0.9 2.3M598.5 770.9l0.8 2.4M588 752.9l0.8 2.3M333.2 391l-2-1.6" stroke="#866A74" stroke-width="4.20"/>
<path d="M755.5 454.5l2.4-0.9M627.4 763l1.2 2.3M584.6 783.8l0.7 2.5M533.5 798.6l0.2 2.5" stroke="#866A74" stroke-width="4.70"/>
<path d="M533.9 569.4l1.2 1.9M536 575.3l1.1 1.9M538 578.9l1.1 1.9M535.8 577.8l1 1.9M521.1 584.1l0.2 2.1M512.7 571.4l-0.4 2.2M488.4 529.2l-2-0.9M487.7 526.2l-1.9-1.1M503.7 531.6l-1.7-1.4M503.9 525.7l-2.6-3.3M503.7 523.3l-1.3-1.7M502.9 521.4l-1.3-1.8M505.1 522.4l-1.1-1.9M506.8 523.7l-1-1.8M501.9 512.5l-1.1-2" stroke="#887C7C" stroke-width="0.70"/>
<path d="M553.8 582.5l1.5 1.6M546.5 578l2.7 3.3M558.1 597.6l1.3 1.7M548.4 589.4l1.2 1.8M548.1 596.7l1.1 1.9M542.5 590.5l1.9 3.7M541.6 590.9l1 1.9M548.9 605.6l1 1.9M542.6 595l0.9 2M536.7 588.7l0.8 2M543.4 608l0.8 2.1M536.7 599.6l0.7 2M536.5 606.1l0.6 2.1M528.1 589.2l0.5 2.1M526.1 587.5l0.4 2.2M467.3 512.3l-1.8-1.1M465.6 507.4l-1.8-1.3M474.6 512.4l-1.8-1.2M469.6 508.8l-1.8-1.2M480.1 515.3l-1.8-1.3M462 501.9l-1.8-1.3M475.7 510.9l-1.7-1.3M464.3 502.2l-1.7-1.3M469.9 505.1l-1.7-1.4M465.1 501.3l-1.7-1.4M483.2 514.7l-1.7-1.4M465.8 500.4l-1.7-1.4M477.5 508.8l-1.7-1.5M466.6 499.4l-1.7-1.4M478.1 508.1l-1.7-1.5M475 505.3l-3.2-2.8M486.7 513.7l-1.5-1.5M470.4 498.2l-1.6-1.5M467.4 495.4l-1.5-1.5M481.4 507.5l-1.5-1.6M481.3 504.7l-1.5-1.6M487.5 510.1l-1.5-1.6M486.7 508.1l-1.4-1.7M473.6 489.6l-1.3-1.7M489.9 508.1l-1.4-1.7M477.5 486.7l-1.3-1.8M480.8 489.3l-1.2-1.7M480.6 487l-1.2-1.8M493.7 505.4l-1.1-1.9M488 494.5l-1.2-1.9M488.8 493.9l-1.1-1.8M488.7 491.7l-2.1-3.7M495.5 502l-1.1-2M489.7 484.2l-0.9-2M496.8 492.3l-0.9-2" stroke="#887C7C" stroke-width="1.20"/>
<path d="M582.6 596.7l1.7 1.4M569.1 599.1l1.4 1.6M580.3 613.8l1.4 1.6M575.1 610.2l1.4 1.7M569 612.4l1.3 1.7M564.3 625.2l1 1.9M557.9 617l1.1 1.9M555.7 615.9l1 1.9M558.5 621.4l1 1.9M552.2 622.1l0.8 2M545.3 609.5l0.8 2M553.2 632.8l0.8 2M546.6 620l0.7 2M543.7 625.3l0.7 2M541.7 623.8l0.6 2M545.8 637.5l0.6 2.1M446.7 503l-1.9-1.1M455.8 503.7l-1.9-1.1M437.9 486.3l-1.7-1.3M460.3 500.7l-1.7-1.3M450.5 493.4l-1.8-1.3M455.4 493.6l-3.3-2.6M456.3 492.5l-1.7-1.3M466.8 493.1l-1.5-1.5M462.4 488.8l-1.5-1.5M459.5 485.9l-1.5-1.5M462 486.4l-1.6-1.6M464.4 486.9l-1.5-1.6M462.3 480.5l-1.4-1.7M454.1 468.6l-1.4-1.7M473.3 487.3l-1.3-1.7M466.2 462.2l-1.2-1.9M480.5 468.2l-1-1.9M475.6 454.6l-0.9-1.9" stroke="#887C7C" stroke-width="1.70"/>
<path d="M590.9 615l1.5 1.6M597.9 633.8l1.5 1.6M595 633.6l1.4 1.6M581.7 620.7l1.4 1.7M581.6 623.4l1.4 1.7M582.3 640.6l1.2 1.8M571.9 635l1.1 1.9M564.9 656.8l0.8 2M555.2 643l1.5 3.9M558 650.7l0.8 2M552.7 641.7l0.8 2M552.8 661.1l0.6 2M531.3 644.8l0.2 2.1M403.5 511.6l-2.1-0.6M428.5 481.9l-1.8-1.3M435.8 475.6l-1.7-1.4M432.6 473l-1.7-1.4M439 460.2l-1.5-1.6M434.9 452.7l-1.4-1.6M450.1 466.7l-1.5-1.7M458.8 457.3l-1.3-1.8M463.1 438l-1-1.9M470.4 439l-0.9-2M475.5 445.7l-1.7-3.9" stroke="#887C7C" stroke-width="2.20"/>
<path d="M613.6 655.4l1.4 1.6M602 649l1.4 1.7M593.3 653l1.2 1.7M568.2 670.9l0.8 2M529.1 686.2l0.2 2.1M395.3 465.2l-1.8-1.2M405.8 454.1l-1.7-1.4M400.9 450.3l-1.7-1.4M408.9 450.2l-1.6-1.4M409 447l-1.6-1.4M414.2 430.1l-1.5-1.6M426.8 432.7l-1.4-1.6M429.4 428l-1.3-1.7M430.2 424.8l-1.3-1.7M425.4 418.2l-1.3-1.7M434.7 426.6l-1.3-1.7M436.5 420.4l-1.2-1.8M456.5 425.3l-1-2" stroke="#887C7C" stroke-width="2.70"/>
<path d="M625 688.1l1.4 1.8M599.9 694.4l1.1 2M573.9 701.5l0.8 2.1M557.3 721.1l0.5 2.3M396.3 443l-1.7-1.4M405.9 407.5l-1.4-1.8M414.5 408.5l-1.4-1.8M410.8 398.5l-1.4-1.8M433.4 405.4l-1.2-1.9" stroke="#887C7C" stroke-width="3.20"/>
<path d="M684.9 456.4l2.1-1.1M690.3 453.5l2.1-1.1M609.6 705.4l1.1 2M544.1 742.1l0.3 2.4M363 432.8l-1.9-1.4" stroke="#887C7C" stroke-width="3.70"/>
<path d="M674.1 389.9l1.7-1.8M676.7 392.6l1.8-1.7M733.8 507.2l2.5-0.4M745.1 513.4l2.5-0.3M636.8 753.4l1.2 2.2M613.8 735.6l1.1 2.2M618 763l1.1 2.3M596.7 754.1l0.9 2.3M540.5 777.5l0.2 2.5" stroke="#887C7C" stroke-width="4.20"/>
<path d="M682.4 363.8l4.5-4.9M685.5 366.7l4.6-4.8M693 371.2l1.8-1.8M708.4 391.7l2-1.5" stroke="#887C7C" stroke-width="4.70"/>
<path d="M692.4 323.9l1.6-2M696.2 327l1.6-2M729.1 349.8l1.9-1.8M732.5 353.5l1.9-1.7" stroke="#887C7C" stroke-width="5.20"/>
<path d="M754.8 326.2l1.9-1.7M820.8 650.5l2.4 0.9" stroke="#887C7C" stroke-width="5.70"/>
<path d="M548.7 567l1.7 1.3M547.6 571.5l1.5 1.4M545.5 573.5l1.5 1.6M539.3 578.2l1.1 1.8M535 573.5l1.1 1.9M505.1 533.1l-1.7-1.3M506.3 531.9l-1.6-1.6M506.3 526.5l-1.2-1.8M499.8 516l-1.2-1.8M497.8 507.7l-1.1-1.9M503.8 513.8l-0.9-2M507 503.9l-0.6-2.1" stroke="#6E8470" stroke-width="0.70"/>
<path d="M566.2 577.8l1.8 1.2M558 584.2l1.6 1.5M548.9 575.9l1.5 1.6M549.1 578.5l1.4 1.7M551 584.9l1.4 1.7M549.5 586.1l1.3 1.7M545.7 583.8l1.2 1.7M546.1 585.9l1.2 1.9M552.9 596.2l1.2 1.8M544.6 586.9l1.2 1.9M546.8 590.4l1.1 1.8M543.9 587.4l1.1 1.8M545.2 593.6l1.1 1.9M540.7 589.1l1 1.9M547.9 606.1l0.9 2M546.8 606.6l0.9 2M539.1 592.1l0.9 2M541.1 602.3l0.8 2M471.9 509.2l-1.8-1.3M472.1 505.6l-1.7-1.4M471.1 500.5l-3.1-2.9M483.5 508.3l-1.5-1.6M477.8 502.4l-1.6-1.5M485.4 503.8l-2.7-3.2M491.2 509.7l-1.4-1.7M488.6 506.5l-1.3-1.7M481 496.9l-1.4-1.7M491.8 509.2l-1.4-1.7M486.8 502.7l-1.4-1.7M483.8 497.3l-1.3-1.8M493 508.3l-1.3-1.7M488.2 501.7l-1.3-1.8M479.9 490l-1.3-1.8M481.6 486.4l-1.1-1.9M491.9 499.2l-1.1-1.8M492.7 498.8l-1.1-1.9M486.7 485.8l-2.1-3.7M497.5 498.6l-0.9-1.9M493.4 487l-0.8-2M500.1 493.2l-0.7-2.1M496.5 479.3l-0.7-2.1M499.9 482.5l-0.6-2.1" stroke="#6E8470" stroke-width="1.20"/>
<path d="M579.6 590.6l1.7 1.4M574.6 605.2l2.8 3.1M582.9 614.2l1.5 1.6M570 606.5l1.3 1.6M565 602.6l1.4 1.7M565.7 624.4l1.1 1.9M556.6 617.7l1 2M544.1 609.9l0.8 2.1M535.4 629.5l0.5 2.2M440.3 490l-1.8-1.3M461 487.4l-1.6-1.6M464.7 481.1l-2.7-3.3M467.1 481.7l-1.3-1.7M474.3 486.5l-1.3-1.7M468.2 468.2l-1.2-1.8M470.6 469.1l-1.2-1.9M467.3 463.9l-1.2-1.8M475.3 471l-1.1-1.9M471.2 463.9l-1.1-1.8M479.6 475.6l-1.1-1.9M474 462.4l-1.1-1.9M477.3 465.2l-1-1.9M473.5 458l-1-2M479.5 466.4l-0.9-2M475 457.2l-1-1.9M480.9 465.7l-0.9-1.9M479.1 462l-0.9-1.9M478.9 457.6l-0.9-1.9M488.5 475.7l-0.8-1.9M491.9 465.7l-0.7-2.1" stroke="#6E8470" stroke-width="1.70"/>
<path d="M600 611l1.7 1.4M600.4 613.8l1.6 1.4M596.7 629.3l2.9 3.1M591.1 626.1l1.5 1.6M588.2 628.6l1.4 1.7M586.7 629.8l1.4 1.7M574.7 626l1.2 1.7M568 639.5l1 2M548.1 638.9l0.6 2.1M420.3 500.9l-2-0.9M437.4 476.9l-1.7-1.4M441.8 460.3l-1.4-1.6M451.5 462.8l-1.4-1.7M464.9 437.1l-0.9-2M473 449.1l-1.9-3.8M468.9 430.7l-0.8-2M487.7 441.2l-0.6-2" stroke="#6E8470" stroke-width="2.20"/>
<path d="M617.2 640.9l1.5 1.5M607.1 655.4l1.4 1.7M602.3 661.6l1.3 1.8M591.3 654.3l1.2 1.8M600.4 667.9l1.2 1.8M569.6 668.1l0.8 2M412.6 465.4l-1.8-1.3M409.5 440.4l-1.6-1.5M431.5 442.1l-1.4-1.6M426.6 419.9l-1.3-1.8M443 438.3l-1.3-1.8M432.3 423.3l-1.3-1.8M445.2 419.8l-1.1-1.8M438.9 409.3l-1.1-1.9M448.3 420.4l-1-1.9M480.7 409.2l-0.6-2.1" stroke="#6E8470" stroke-width="2.70"/>
<path d="M619.8 671.5l1.4 1.7M630 689.4l1.4 1.9M601.9 698l2.1 3.8M588.1 704.7l0.9 2.1M577.4 702.4l0.8 2.1M393.1 416.3l-1.6-1.6M408 419.1l-1.4-1.6M420.4 406.7l-1.3-1.9" stroke="#6E8470" stroke-width="3.20"/>
<path d="M626.7 714.2l1.3 2M584.8 743.2l0.7 2.3M385.5 403.8l-1.6-1.7M398.6 382.1l-1.4-1.9" stroke="#6E8470" stroke-width="3.70"/>
<path d="M628.2 746.5l1.2 2.2" stroke="#6E8470" stroke-width="4.20"/>
<path d="M557.5 553.5l2.1 0.6M543.2 551.3l2.1 0.6M535.3 554l1.9 1.1M547 569l1.6 1.5M538.7 568.5l1.4 1.7M538.7 578.5l1.1 1.9M499.3 521.5l-1.4-1.6M499.4 516.3l-1.3-1.7M505.5 524.6l-1.2-1.8M503.2 521.2l-1.2-1.9M504 520.7l-1.1-1.9M506.5 523.9l-1.1-1.8M507.3 518.9l-0.9-2M504.9 506.7l-0.7-2.1M506.2 506.2l-0.6-2" stroke="#648066" stroke-width="0.70"/>
<path d="M567.3 572.4l1.8 1.1M564.3 580.2l1.7 1.4M550.1 571.8l1.6 1.4M560.8 581.3l1.6 1.4M558.6 580.6l1.6 1.5M549.1 572.9l1.5 1.5M552 575.7l1.6 1.5M548.5 573.4l1.6 1.5M550.3 577.4l1.5 1.6M556.6 585.5l1.5 1.6M554.4 592.6l1.3 1.8M551.2 589.9l1.2 1.8M551 597.4l1.2 1.8M540.1 582.5l1 1.9M477.2 506l-1.6-1.5M471.2 497.4l-1.5-1.5M486.1 508.6l-1.4-1.6M479.9 500.4l-1.4-1.6M479.7 487.7l-1.3-1.8M486 493.3l-1.1-1.9M482.7 488.1l-1.1-1.9M494.7 502.4l-1-1.9M495.2 499.8l-1-2M488.6 487l-1-1.9M492.3 492l-0.9-1.9M493.2 491.6l-0.9-2M495.2 488.5l-0.8-2M497.7 491.9l-1.6-3.9M499.1 487l-0.7-2M505 502.3l-0.7-2M501.6 488.4l-0.6-2.1M503.6 483.6l-0.5-2.1M506.7 483l-0.4-2.2M510.3 492.7l-0.3-2.1M511.9 490.5l-0.3-2.2" stroke="#648066" stroke-width="1.20"/>
<path d="M579.5 587.3l1.8 1.2M575.6 589.2l1.7 1.3M584.8 600.5l1.7 1.4M587.9 603.1l1.7 1.4M579.9 608.6l1.5 1.6M571.8 602.1l1.5 1.6M581.5 612.7l1.5 1.6M557.5 605.4l1.1 1.9M566.3 619.2l1.2 1.9M557 615.2l1 1.9M522.3 614.8l0.1 2.2M465.6 475.1l-1.3-1.7M464.8 463.1l-1.2-1.8M477.3 477l-1.2-1.9M474.3 469.2l-1.1-1.8M477.6 472.1l-1.1-1.9M476.3 463.4l-1-1.9M485 477.4l-0.9-2M485.3 475l-0.9-2M484 468.8l-0.9-2M482 460.7l-0.9-2M487.1 465.2l-0.7-2M491.4 472.4l-0.8-2.1M501.2 473.7l-0.5-2.2M500.2 463.4l-0.5-2.1M505.5 460.3l-0.3-2.1M504.6 454.2l-0.3-2.1" stroke="#648066" stroke-width="1.70"/>
<path d="M607.2 611.8l1.7 1.4M598 607l1.7 1.4M598.4 609.7l1.7 1.4M600.7 616.5l1.6 1.5M595.2 630.7l1.5 1.6M582.9 625l1.3 1.7M587.3 637.1l1.3 1.7M588 641.6l1.3 1.8M433.5 451.2l-1.4-1.6M441.9 457.5l-1.4-1.7M454.6 447.7l-1.2-1.8M447.9 437.5l-1.2-1.8M460.1 449.1l-1.1-1.9M460.3 437.2l-1.1-1.9M468.7 435.3l-0.9-2M471.4 436.3l-0.9-2M479.9 441.7l-0.8-2M482.4 443l-0.8-2.1M487.7 447.7l-0.6-2.1M483.6 427.5l-0.6-2.1M498.5 438.6l-0.4-2.1" stroke="#648066" stroke-width="2.20"/>
<path d="M634.3 623.3l1.8 1.2M628.4 631.2l1.7 1.4M607.4 644.5l1.5 1.6M610.1 647.6l1.5 1.6M604.4 660.1l1.2 1.8M579.4 656.6l1.1 1.9M565.2 669.8l0.8 2.1M459.4 426.1l-0.9-2M453 413.2l-0.9-1.9" stroke="#648066" stroke-width="2.70"/>
<path d="M686.2 473.6l2.1-0.9M412.9 420.3l-1.5-1.7" stroke="#648066" stroke-width="3.20"/>
<path d="M690.5 433.4l2-1.3M687.1 439.6l2.1-1.3M631.3 691l1.4 1.9M412.4 389.8l-1.3-1.9M420.6 384.5l-1.2-2" stroke="#648066" stroke-width="3.70"/>
<path d="M707.8 407.9l2-1.5M723.7 417.2l2.2-1.4M724.8 435.6l2.2-1.2M586.1 747l0.7 2.4M584.3 754l0.8 2.4" stroke="#648066" stroke-width="4.20"/>
<path d="M731.2 417.7l4-2.4M770.3 473.3l2.4-0.7M768.6 483.1l2.5-0.6M638.8 757l1.2 2.2" stroke="#648066" stroke-width="4.70"/>
<path d="M769.9 382.8l2.1-1.4M767.4 390.4l2.2-1.3M770 394.8l2.2-1.3M772.6 399.2l2.2-1.2M815.3 571.9l2.5 0.3" stroke="#648066" stroke-width="5.20"/>
<path d="M781.4 381.8l2.1-1.3M790.2 401.6l2.2-1.2M819.8 567.1l2.6 0.2M823.9 567.4l2.5 0.2M821.4 572.5l2.5 0.3" stroke="#648066" stroke-width="5.70"/>
<path d="M801.2 355.8l3.8-2.5M846.8 563.4l4.6 0.3M870.9 571.1l2.5 0.2" stroke="#648066" stroke-width="6.20"/>
<path d="M879 514.9l2.6-0.2" stroke="#648066" stroke-width="6.70"/>
<path d="M904 519.7l4.6-0.3M906.4 526.3l2.5-0.1" stroke="#648066" stroke-width="7.20"/>
<path d="M952.5 509.1l2.6-0.2M953.1 516.7l2.5-0.2" stroke="#648066" stroke-width="7.70"/>
<path d="M518.2 512.6l0-2.1M519.6 504.5l0.1-2.2M556.7 543l2.2-0.1M541.7 549l2.1 0.5M535.8 553l2 1.1M549.1 566.4l1.8 1.3M536.5 565.1l1.4 1.6M538.3 568.9l1.3 1.7M500.9 506.1l-0.9-2M507.2 514.6l-0.8-2.1M507.7 514.4l-0.8-2M508.6 511.9l-0.6-2M509 503.4l-0.4-2.1M517.2 514.7l-0.1-2.2M517.6 506.5l0-2.2" stroke="#5A7C5C" stroke-width="0.70"/>
<path d="M572.7 566l2 0.8M561 570.8l1.9 1.1M565.6 578.6l1.7 1.3M561.7 576.9l1.7 1.3M550.6 571.2l1.6 1.4M557.1 579.2l1.6 1.5M564.7 586.1l1.6 1.5M551.5 576.3l1.5 1.5M556.6 582.7l1.5 1.5M547.1 577.5l1.4 1.7M551.7 584.3l1.4 1.7M559.9 596.1l1.4 1.7M488.1 509.6l-1.5-1.6M486.9 492.7l-1.1-1.8M490.5 488.4l-1-2M494.1 493.4l-0.9-1.9M495.9 492.6l-0.9-1.9M490.2 479.5l-0.9-2M492.8 482.8l-0.8-2M492.4 478.6l-0.8-2.1M500.7 497.3l-0.8-2M498.1 487.4l-0.7-2.1M495.8 477.3l-0.7-2M501.9 492.6l-1.3-4M499.4 484.8l-0.6-2.1M500.5 484.5l-0.6-2.1M502.6 488.1l-0.6-2.1M503 485.9l-0.5-2.1M502.6 479.6l-0.5-2.1M503.7 479.4l-0.9-4.1M509.3 501.2l-0.4-2.1M507.7 493.2l-0.4-2.1M505.7 483.2l-0.5-2.2M507.1 485l-0.4-2.2M506.3 480.9l-0.4-2.1M505.6 476.9l-0.4-2.1M509.5 492.9l-0.4-2.2M513 492.4l-0.4-4.2M512.2 484.2l-0.2-2.1M514 494.4l-0.1-2.2M517.5 498.3l0-2.2" stroke="#5A7C5C" stroke-width="1.20"/>
<path d="M592.7 571.2l2 0.8M583.7 592l1.7 1.3M596.9 601.7l1.7 1.3M585.2 596.8l1.7 1.4M589 601.9l1.6 1.4M586.4 601.8l1.6 1.4M588.4 605.7l1.6 1.4M578.3 598.6l1.6 1.5M590.3 609.7l1.6 1.4M583 616.9l1.4 1.6M567.4 603.3l1.3 1.7M565.2 605l1.4 1.7M570.2 614l1.3 1.8M548.7 607.9l1 2M475.4 461.6l-1-1.9M480 463.9l-0.9-2M478.3 460.2l-1-2M487.4 476.3l-0.9-2M485.7 472.5l-0.9-1.9M487.1 460.9l-0.8-2.1M490.6 461.8l-0.7-2.1M487.4 452.1l-0.7-2.1M494.5 469.1l-0.6-2M501.1 452.7l-0.4-2.1" stroke="#5A7C5C" stroke-width="1.70"/>
<path d="M616.8 597l1.9 1.1M601.2 609.6l1.7 1.3M597.3 611.1l1.6 1.4M593 609.8l1.6 1.4M588.2 614.8l1.5 1.6M586.8 640l1.3 1.7M575.5 630.3l1.2 1.9M464 458.7l-1.2-1.8M456.3 446.6l-1.2-1.8M472.2 451.7l-0.9-1.9M465.9 434.3l-0.9-2M476.3 452l-0.9-1.9M471.2 440.9l-0.9-2M467 431.5l-0.9-1.9M488.8 445.2l-0.6-2.1M487.1 424.4l-0.5-2.1M493.5 441.8l-0.5-2.1M491.1 431.8l-0.5-2.1M494 435.4l-0.5-2.1M499.3 442.7l-0.4-2.2M507.7 437.4l-0.2-2.2" stroke="#5A7C5C" stroke-width="2.20"/>
<path d="M621.6 620l1.7 1.3M634.7 629.8l1.8 1.2M626.9 636.4l1.6 1.4M626.8 639.6l1.6 1.4M629.8 642.3l1.7 1.5M611.2 638.2l2.9 3M429.9 420l-1.2-1.8M441 412.8l-1.1-1.9M454.9 416.9l-1-2M460.7 405.2l-0.8-2M468.4 417.6l-0.8-2M470.6 416.8l-0.8-2.1M489.1 413.4l-0.5-2.1M491 410.9l-0.5-2.1M492.9 408.4l-0.4-2.1" stroke="#5A7C5C" stroke-width="2.70"/>
<path d="M667.5 458.6l3.8-2.1M670.8 460.3l2-1.1M637.8 645.7l1.6 1.4M634.5 675.1l1.5 1.7M453.4 379.5l-0.8-2.1M476.3 370.2l-0.5-2.3M479.4 369.5l-0.5-2.3" stroke="#5A7C5C" stroke-width="3.20"/>
<path d="M442.7 342.1l-0.9-2.3" stroke="#5A7C5C" stroke-width="4.20"/>
<path d="M780.5 445.1l2.4-0.9" stroke="#5A7C5C" stroke-width="5.20"/>
<path d="M775.6 372.8l5.5-3.7M778.5 377.3l5.6-3.6" stroke="#5A7C5C" stroke-width="5.70"/>
<path d="M518.8 510.6l0-2.2M519.3 510.6l0.1-2.1M519.5 506.5l0.1-2.1M520.1 506.6l0.2-2.2M520.1 514.8l0.2-2.2M542 547.8l2.1 0.4M546 555.5l2 0.9M549.5 557.7l2 0.9M538.2 553l1.9 0.9M546.9 558.4l1.9 1M507.7 503.7l-0.6-2.1" stroke="#006000" stroke-width="0.70"/>
<path d="M532.1 492l0.6-2M573.1 558.6l2.1 0.6M574.2 562.1l2 0.7M563.6 561.3l2 0.8M559.5 560.5l2 0.8M569.6 568l2 0.9M568.7 569.7l1.9 1.1M561 566.7l2 1.1M566.4 569.7l1.9 1M564.2 569.5l1.9 1.1M562.8 571.9l1.8 1.1M566.2 574.1l1.8 1.1M562.3 572.7l1.8 1.2M565.7 574.9l1.8 1.2M566.8 576.9l1.8 1.2M561.1 577.7l1.7 1.3M563.7 581l1.7 1.4M569.2 587.2l1.7 1.4M566.9 589.8l1.6 1.5M558.2 592.2l1.4 1.7M496.2 501.6l-1-2M499.1 497.9l-0.8-2M491.3 479l-0.9-2M499.2 495.7l-0.8-2M495 482l-0.8-2.1M498.2 480.9l-0.6-2.1M503.1 481.6l-0.5-2.1M508.6 501.4l-0.5-2.1M502.8 475.4l-0.4-2.1M505.2 474.9l-0.4-2.1M508.1 484.8l-0.4-2.2M512.1 492.5l-0.2-2.2M510 474.2l-0.2-2.2M513.8 500.6l-0.2-2.2M513.2 494.4l-0.2-2.1M512.4 486.3l-0.2-2.2M517.4 486l0-2.2" stroke="#006000" stroke-width="1.20"/>
<path d="M525.5 463.9l0.3-2.2M526.7 451.6l0.2-2.1M585.2 586.2l1.8 1.1M594.2 601.9l3.4 2.5M588.4 599.4l1.7 1.3M583.3 599.1l1.6 1.4M570.4 600.6l1.5 1.6M476.2 475.3l-1.1-1.9M485.8 465.8l-0.8-2M481.9 456.3l-0.9-2M492.1 474.3l-0.8-2M490.6 466.1l-0.7-2M493.9 471.5l-0.7-2.1M494.1 462.8l-1.2-4M500 474l-0.6-2.1M505.2 458.3l-0.3-2.2M504.3 452.2l-0.3-2.1M508.2 457.9l-0.3-2.2M510.8 453.5l-0.3-4.2M516 471.7l0-2.2" stroke="#006000" stroke-width="1.70"/>
<path d="M620.3 590l2 0.9M621.5 609.3l1.8 1.2M606.7 609l1.8 1.3M614 619.8l1.7 1.3M593.4 612.4l1.6 1.5M474 437.4l-0.8-2M478.1 442.4l-0.8-2.1M485.3 439.8l-1.3-4M487.8 434.8l-0.6-2.1M486.6 422.4l-0.5-2.1M489.2 423.9l-0.5-2.1M495 431l-0.4-2.2M497.8 434.6l-0.4-2.1M497 430.6l-0.4-2.1M510.7 424.8l-0.2-2.2" stroke="#006000" stroke-width="2.20"/>
<path d="M634.8 633l1.8 1.4M629.6 645.6l1.6 1.5M614.4 634.9l1.6 1.5M617.6 660l1.4 1.7M465.7 423.2l-0.9-2M474.2 419.8l-0.8-2M483.4 419l-0.5-2.1M499.2 401.2l-0.3-2.1" stroke="#006000" stroke-width="2.70"/>
<path d="M637.5 649.1l1.6 1.5M442.1 391.3l-1-2.1M446.9 380l-0.9-2.1M449.8 378.8l-0.9-2.1M459.1 386.1l-0.8-2.1M480.2 386.1l-0.6-2.2M488.8 386.3l-0.4-2.2M505.4 384.1l-0.2-2.2" stroke="#006000" stroke-width="3.20"/>
<path d="M452.3 347.3l-0.7-2.3" stroke="#006000" stroke-width="3.70"/>
<path d="M441.9 340.1l-0.8-2.2" stroke="#006000" stroke-width="4.20"/>
<path d="M358.5 335.5l-1.6-2" stroke="#006000" stroke-width="4.70"/>
<path d="M523.5 513.2l0.4-2.2M523.7 525.9l0.7-2.1M528.3 528.2l1.2-1.8M535.3 532.6l1.9-1.1M535.7 533.2l1.9-1M543.7 549.5l2.1 0.5M541.6 549.4l2.1 0.6M555 555l2 0.6M544.7 553.3l2 0.8M546.2 555l2 0.9M548.2 564.1l1.8 1.3M516.1 502.4l-0.1-2.1" stroke="#006A00" stroke-width="0.70"/>
<path d="M518.3 494.2l0-2.2M519.3 490.1l0-2.1M520.1 492.2l0.1-2.2M521.6 482l0.2-2.1M523.4 473.9l0.1-2.1M524.2 488.4l0.2-2.1M524.3 494.6l0.3-2.1M527.6 478.5l0.3-2.1M528.3 487l0.4-2.2M530.8 489.6l0.5-2.1M532.7 496.5l0.6-2.1M541.7 493.4l0.9-1.9M579 537.4l2.2-0.2M568.3 551.7l2.2 0.4M576.4 553.1l2.2 0.4M559.3 554.8l2.1 0.6M579 560.2l2.1 0.6M567.4 562.8l2 0.8M573.1 565l2 0.8M570.4 566.1l2 0.9M570 567.1l2 0.9M567.8 567.1l1.9 0.9M573.3 569.7l2 1M562.8 567.7l2 1M575.4 574.5l1.9 1.1M561.5 570l1.9 1.2M560 572.3l1.8 1.2M568.4 584.9l1.7 1.4M496 490.4l-0.9-2M500.8 495.1l-0.7-2.1M498.1 476.6l-0.6-2.1M501.7 475.7l-0.5-2.2M504.8 479.1l-0.4-2.1M509.7 499.1l-0.4-2.2M509 495l-0.4-2.1M509.8 494.9l-0.4-2.2M509.1 484.6l-0.3-2.1M511 490.6l-0.3-2.2M512 482.2l-0.2-2.2M513.7 490.3l-0.1-2.2M515.2 498.4l-0.2-2.2M514.4 486.1l-0.1-2.1M514.2 482l-0.2-2.1M513.8 475.9l-0.2-2.2M515.8 494.3l-0.2-4.3M515.5 488.1l-0.2-4.2M516.7 496.3l-0.1-2.2M516.2 477.8l-0.1-2.1" stroke="#006A00" stroke-width="1.20"/>
<path d="M518.6 459.4l0.1-2.2M520 461.5l0.1-2.2M523.5 471.9l0.2-2.2M595.3 550.8l2.2 0.2M600.7 566.3l2.1 0.6M594.6 572l2 0.7M578 589.4l1.7 1.3M581.3 610.1l1.5 1.6M492.6 467.6l-0.7-2M496.4 475l-0.7-2.1M503.2 471.1l-0.4-2.1M500.4 457.1l-0.5-2.2M504.5 470.9l-0.4-2.2M502.2 458.8l-0.4-2.2M504.4 462.6l-0.4-2.2M503.7 458.5l-0.3-2.1M508.9 464l-0.3-2.2M510.4 465.9l-0.2-2.2M512.1 469.9l-0.2-2.2M511.3 459.7l-0.2-2.2" stroke="#006A00" stroke-width="1.70"/>
<path d="M524 443.2l0.2-2.2M547.4 436.8l0.6-2.1M632.3 575l2.1 0.6M632.5 597.9l1.9 1M610.5 595.7l1.9 1.1M600.7 606.8l1.7 1.4M486.5 443.7l-0.6-2M488.7 430.3l-0.6-2.1M494 443.8l-0.5-2.1M492.6 429.4l-0.9-4.1M496.3 437l-0.5-2.1M497.4 432.6l-0.4-2.1M497.3 420.1l-0.4-2.1M512.5 418.6l-0.1-2.2M517 434.8l-0.1-2.2M516.9 426.6l0-2.1" stroke="#006A00" stroke-width="2.20"/>
<path d="M521.9 391.9l0-2.2M637.4 622.4l1.8 1.2M636.4 631l1.7 1.3M626.8 630l1.7 1.3M485.6 418.4l-0.5-2.1M493.3 410.5l-0.4-2.2M492.2 404.4l-0.4-2.1M495.3 408l-0.4-2.1M505 408.8l-0.3-2.1M507.1 406.6l-0.1-2.2" stroke="#006A00" stroke-width="2.70"/>
<path d="M519.4 371.4l0-2.3M530.4 384.1l0.2-2.2M486.1 386.8l-0.5-2.1M488.4 384.3l-0.4-2.2M492.5 373.3l-0.6-4.3M510.5 373.6l-0.1-2.3" stroke="#006A00" stroke-width="3.20"/>
<path d="M720.9 428.4l2.2-1.2" stroke="#006A00" stroke-width="4.20"/>
<path d="M519.1 516.8l0.1-2.2M528.9 506.1l0.7-2.1M537.8 520l1.4-1.7M538.6 520.7l1.5-1.6M534.9 532l1.8-1.2M552 524.8l2-1.1M552.8 531.6l2.1-0.7M548.1 538.2l2.2-0.3M542.3 541l2.2-0.3M556.7 542.3l2.2-0.1M555.8 551.7l2.2 0.5M541.3 550.7l2.1 0.6M544.3 554.2l2 0.9M550 556.6l2 0.8M552.8 564.7l1.8 1.1" stroke="#007600" stroke-width="0.70"/>
<path d="M518.4 490.1l0-2.2M519.2 492.2l0.1-2.2M519.5 484l0-2.2M521.4 486.1l0.1-2.1M522 475.9l0.2-2.2M521.8 494.4l0.1-2.2M523 478l0.2-2.1M523 490.4l0.2-2.2M525.1 480.3l0.2-2.2M525.8 474.2l0.2-2.2M525.8 490.7l0.3-2.2M526.7 484.6l0.3-2.1M526.8 495l0.4-2.1M528 489l0.4-2.1M527.2 501.4l0.5-2.1M532.7 481.6l0.5-2.1M532.8 485.9l0.5-2.1M535.3 475.9l0.6-2.1M530.5 498l0.6-2.1M535.9 478.2l0.6-2.1M534.2 488.4l1.2-4.1M530.8 502.3l0.7-2M537 482.8l0.6-2.1M554 488.7l1.2-1.8M562.1 506.9l1.7-1.4M583.5 520.1l2-0.7M562.4 536.6l2.1-0.3M572.5 535.1l2.2-0.3M581.3 541.6l2.2 0M575.2 543.8l2.2 0M566.5 550.6l2.1 0.3M566.3 551.4l2.2 0.4M570.4 552.1l2.1 0.3M568.2 552.6l2.1 0.4M572.2 553.4l2.1 0.4M563.6 554.3l2.2 0.5M563.4 555.1l2.1 0.5M560.6 557.6l2 0.7M572.2 561.5l2.1 0.7M569.3 563.5l2 0.8M566.7 564.5l2 0.9M575.6 569.6l2 0.9M574.3 576.5l1.9 1.1M563.9 577.4l1.8 1.3M505.1 493.8l-0.5-2.1M502 481.9l-0.5-2.1M507.6 474.5l-0.3-2.2M511.6 488.4l-0.2-2.1M511.2 474.1l-0.2-2.2M514.4 498.4l-0.2-2.1M514.7 490.2l-0.2-2.2M516.5 490.1l0-2.1M516.4 486l-0.1-2.1M517.5 492.2l-0.1-2.2" stroke="#007600" stroke-width="1.20"/>
<path d="M518.6 467.6l0-2.2M519.8 469.7l0.1-2.2M522.3 471.8l0.1-2.2M522.9 461.6l0.1-2.2M523.3 455.5l0.1-2.2M524 465.8l0.2-2.2M524.8 472l0.2-2.2M526.5 453.7l0.2-2.2M526 472.1l0.3-2.1M531.8 450.2l0.3-2.2M532.4 456.5l0.4-2.1M537 474.3l0.6-2.1M553.2 481l1-1.9M556.3 478.1l1.1-1.9M595.7 542.6l2.1 0M601.6 548.4l2.2 0.2M595.2 552.1l2.1 0.2M596.8 555.1l2.2 0.3M595.5 561.9l2.1 0.5M598.9 572l2.1 0.7M503.6 473.1l-0.4-2.1M506.9 460.1l-0.2-2.1M509.7 457.7l-0.2-2.1M511.5 461.7l-0.2-2.2M512.9 461.6l-0.1-2.2M514.7 469.7l-0.1-2.2M517.3 471.7l0-2.2" stroke="#007600" stroke-width="1.70"/>
<path d="M523.4 416.5l0.1-2.2M622.2 564.5l2.1 0.5M619 569.4l2.1 0.6M619.3 587.4l2 0.8M628.4 605.8l1.9 1.1M490.2 427.9l-0.5-2.2M491.8 425.4l-0.5-2.1M496.7 439l-0.5-2.1M509.2 433.1l-0.1-2.2" stroke="#007600" stroke-width="2.20"/>
<path d="M519.1 410.2l0-2.1M523.8 408.3l0.1-2.1M524.5 392l0.1-2.2M525.9 412.5l0.1-2.1M530.8 408.8l0.3-2.1M539.5 414.1l0.4-2.2M649.3 600.4l2 0.9M481.3 419.6l-0.6-2M492.5 406.4l-0.4-2.1M490.3 394.4l-0.4-2.2M507.6 412.7l-0.1-2.2M507 404.5l-0.2-2.1M516.6 391.8l0-2.2" stroke="#007600" stroke-width="2.70"/>
<path d="M527.5 386l0.2-2.2M541.1 366.8l0.3-2.3M486.2 372.2l-0.4-2.2M516.3 363.2l0-2.3" stroke="#007600" stroke-width="3.20"/>
<path d="M532.7 355.6l0.2-2.3M537.7 337.6l0.2-2.4M483.8 339.5l-0.4-2.4" stroke="#007600" stroke-width="3.70"/>
<path d="M621.3 293.8l0.9-2.4" stroke="#007600" stroke-width="4.70"/>
<path d="M519.8 512.7l0.1-2.2M520.6 514.8l0.3-2.1M527.1 514.1l0.7-2.1M534 514.8l1.1-1.9M533.9 517.2l1.2-1.9M539.3 513.3l1.2-1.7M541 512.1l1.3-1.8M535.3 520.6l1.3-1.7M542.1 512.9l1.3-1.7M544.5 512.2l1.4-1.7M535.7 526.4l1.6-1.5M535.1 532.3l1.9-1.1M552.4 521.3l1.8-1.1M551.4 523.6l1.8-1.1M551.1 527.5l2-1M538.5 534.3l2-0.8M552.1 529.8l2.1-0.8M552 536.4l2.1-0.5M550.2 538.5l2.2-0.4M547.9 556.3l2 0.9" stroke="#008200" stroke-width="0.70"/>
<path d="M519.6 477.8l0.1-2.1M520.6 482l0.1-2.2M521.6 496.4l0.2-2.2M522.4 496.5l0.2-2.2M523.8 482.2l0.2-2.2M524.6 474.1l0.2-2.2M523 498.6l0.2-2.2M523.9 490.5l0.3-2.2M524.8 482.3l0.3-2.1M525.3 478.2l0.3-2.1M529.7 485.2l0.5-2.2M530.3 487.4l0.9-4.1M531.3 487.6l0.5-2.1M531.2 491.8l0.6-2.1M533.8 486.1l0.5-2.1M535.3 484.5l0.6-2.1M536.1 489l0.7-2.1M537.7 487.4l0.7-2.1M539.4 485.8l0.8-2M541.9 482.4l0.8-2M538 503l0.9-1.9M542.8 501l1.1-1.9M555.3 484.6l1.1-1.8M549.1 508.1l1.4-1.7M551.8 505l1.4-1.6M560.8 505.3l1.6-1.4M566.2 508.8l3.4-2.4M566.8 509.7l1.8-1.2M558.8 516.2l1.8-1.2M558.8 520.1l1.9-1M562.4 518.1l1.9-1.1M583.1 518.9l2-0.7M571.9 524.2l4-1.4M580.7 524.7l2.1-0.6M568 533.1l2.1-0.4M572.2 533.2l4.2-0.7M560.6 538.4l2.1-0.2M570.9 539.1l2.2-0.1M571 541l2.2-0.1M573.1 541.9l2.2-0.1M560.8 542.9l2.2 0M575.1 546.8l2.1 0.1M566.8 547.2l2.2 0.1M566.7 548.9l2.1 0.2M572.8 549.6l2.1 0.2M576.8 550l2.2 0.3M576.6 552.1l2.1 0.3M572.4 552.4l2.1 0.4M576.2 554.1l2.2 0.4M574 554.7l2.2 0.5M571.8 555.3l2.1 0.4M561.7 553.8l2.1 0.5M561.5 554.6l2.1 0.5M575.3 558.2l2.1 0.5M565.2 556.4l2.1 0.6M513.4 486.2l-0.2-2.2M513.7 473.9l-0.2-2.2" stroke="#008200" stroke-width="1.20"/>
<path d="M518.5 469.6l0.1-2.1M519.9 465.6l0.1-2.2M521.6 457.4l0.1-2.1M521.8 453.3l0.1-2.1M522.4 469.8l0.1-2.2M522.8 463.6l0.1-2.1M528.1 453.8l0.2-2.1M534.6 461.1l0.5-2.2M535.4 457.1l0.9-4.2M537.5 447l0.4-2.1M541.4 458.5l0.6-2.1M540.6 466.8l0.6-2.1M548.4 476.3l0.9-2M552.3 471.3l0.9-2M554.4 470l1-1.9M559.9 466l1-1.9M566 464.8l1.2-1.9M583.7 498.1l1.8-1.2M607.5 534.7l2.2-0.2M603.6 536.6l2.2-0.2M612 547.4l2.1 0.1M616 547.6l2.2 0.1M593.4 549.2l2.1 0.2M589.2 550.2l2.2 0.2M601.4 551.3l2.2 0.3M590.3 556.7l2.2 0.4M596.1 559.2l2.1 0.4M589.5 560.5l2.1 0.5M595.1 570.6l2 0.7M509.1 466l-0.2-2.1M513.5 471.8l-0.1-2.2M515.6 455.3l-0.1-2.1" stroke="#008200" stroke-width="1.70"/>
<path d="M520.5 443l0.1-2.1M525.3 422.8l0.1-2.2M528.3 435.3l0.4-4.2M531.1 427.4l0.3-2.2M533.9 421.5l0.3-2.1M533.3 440.1l0.4-2.2M536.1 434.3l0.4-2.2M538.2 422.2l0.7-4.2M544.7 446.7l0.6-2.1M548.1 441.2l0.6-2M553 432l0.6-2M556.8 433.3l0.8-2M559.9 436.7l0.8-2.1M630.4 540.4l2.2-0.1M630.4 548.2l2.1 0.1M631.3 560.2l2.1 0.4M627.8 575.9l2.1 0.6M620.8 577.7l2 0.7M623.8 587.2l2 0.8M503.7 435.7l-0.2-2.1" stroke="#008200" stroke-width="2.20"/>
<path d="M523.7 410.4l0.1-2.2M535.5 409.4l0.3-2.2M537.9 391.1l0.3-2.2M541.9 399.9l0.3-2.1M546.3 390.3l0.4-2.1M560.9 421.7l0.8-2M569.3 425l0.9-2M650.3 530.5l2.2-0.2M640.6 589.2l2 0.7M514.4 410.3l0-2.2M516.7 410.2l0-2.1" stroke="#008200" stroke-width="2.70"/>
<path d="M522.6 363.3l0.1-2.3M530.6 382.1l0.2-2.2M532 363.8l0.2-2.3M547 369.7l0.3-2.2M569.9 388l0.7-2.1M477.3 374.1l-0.5-2.2M490.5 379.8l-0.3-2.2M494.7 366.8l-0.3-2.3M516.5 383.6l0-2.2" stroke="#008200" stroke-width="3.20"/>
<path d="M519.6 350.9l0-2.3M536.3 351.8l0.3-2.3M567.6 351.1l0.6-2.3" stroke="#008200" stroke-width="3.70"/>
<path d="M568.1 334.4l0.5-2.4M488.5 320.2l-0.3-2.5" stroke="#008200" stroke-width="4.20"/>
<path d="M532.5 514l1-1.9M540.5 511.7l1.2-1.8M534.9 520.3l1.3-1.7M545 512.7l1.4-1.7M542.8 522.1l1.6-1.5M547.4 518.1l1.7-1.4M548.7 519.6l1.7-1.3M553.3 527.2l1.9-0.9M552.4 530.4l2-0.7M551.4 534l2.1-0.6M553.5 534.1l2.1-0.6M558.5 538.7l2.2-0.3M550.5 540.7l2.2-0.1M557.7 552.8l2.1 0.6" stroke="#008E00" stroke-width="0.70"/>
<path d="M518.3 492.2l0.1-2.2M519.7 475.8l0-2.2M520.8 475.8l0.1-2.1M524 480.2l0.2-2.2M524.4 476.1l0.2-2.2M526.2 480.4l0.3-2.1M529.1 483l0.4-2.2M529.3 487.2l0.5-2.2M531 479.1l0.4-2.1M531.6 481.4l0.5-2.1M532.2 483.6l0.5-2.1M532.7 490.1l1.1-4.1M533 492.3l0.6-2.1M531.4 500.4l0.7-2.1M536.7 487l0.7-2M538 483.2l0.7-2.1M540 477.3l0.7-2M539.8 481.6l0.7-2.1M538.7 487.7l0.7-2M545.9 481.9l0.9-2M546.1 484.2l0.9-2M544.3 492.5l1.1-1.9M541.3 500.2l1.1-2M551.1 484.5l2.1-3.6M553.2 483.4l1.1-1.9M550 491l1.1-1.9M552.1 487.5l1.1-1.9M549.5 495.5l1.2-1.8M548 499.5l1.3-1.8M553.8 491l3.6-5.1M546.4 503.3l1.3-1.7M549.7 503.3l2.7-3.3M552.4 502.9l1.5-1.7M547.7 509.6l1.5-1.6M555.9 503.2l1.5-1.5M561.6 497.3l1.5-1.6M560.2 501.7l1.6-1.5M556.5 506.7l1.6-1.5M563 504.8l1.7-1.4M558.9 509.5l1.7-1.4M572.3 500l1.7-1.4M564.5 510l1.8-1.2M569.7 510.3l1.8-1.1M572 510.2l1.8-1.2M572.5 511.1l1.9-1.1M562.8 518.9l2-1M571.8 514l1.9-1M560.4 523l1.9-0.9M578.8 514.2l2-0.9M579.8 516.4l2-0.9M574.6 519.8l2-0.8M573.1 521.6l2-0.8M582.3 523l2.1-0.7M578.7 525.3l2.1-0.6M581 525.8l2.1-0.6M581.3 526.9l2.1-0.5M577.6 529l2.1-0.5M575.8 530.5l2.1-0.5M562 534.3l2.1-0.4M570.2 533.6l2.1-0.4M562.3 535.9l2.1-0.4M580.5 532.8l2.1-0.3M586.5 531.8l2.2-0.3M566.6 536.9l4.2-0.6M574.8 536.8l2.2-0.2M560.6 539.2l2.2-0.2M587.5 542.7l2.1 0M585.4 545.1l2.2 0M577 548l2.2 0.1M578.8 551.3l2.1 0.3M574.4 552.8l2.1 0.3M570.2 553l2.1 0.4M563.8 553.5l2.1 0.5M578.7 561.3l2.1 0.6M565.5 567l1.9 1M517.4 490.1l0-2.2" stroke="#008E00" stroke-width="1.20"/>
<path d="M523.5 451.4l0.3-4.2M526.9 449.6l0.2-2.2M527.6 457.9l0.3-2.2M531.1 464.6l0.3-2.2M532.8 462.8l0.4-2.1M533.9 456.8l0.4-2.2M534.7 452.7l0.4-2.1M533.8 465.1l0.4-2.1M536.5 459.4l0.5-2.1M538.7 449.4l0.5-2.1M534.6 473.7l0.5-2.2M540.4 449.8l0.5-2.1M540.9 460.5l0.6-2.1M542.3 460.9l0.6-2.1M543.5 457l0.6-2.1M545 457.4l0.6-2.1M546.5 457.9l0.7-2.1M543.7 474.3l1.5-4M546.1 475.2l1.6-3.9M553.5 465.1l0.9-2M553.8 474.3l1-1.9M558.5 465.2l1-1.9M557 471.4l1-1.9M555.3 479.8l1.1-1.8M555.3 482.2l1.2-1.8M560.7 473.5l1.1-1.8M560.8 478.5l1.2-1.9M564 483.2l1.3-1.7M566.5 480l1.3-1.7M562.5 487.3l1.3-1.7M575.7 482.4l2.9-3M585.5 472l1.5-1.5M571 489.3l1.5-1.6M583.8 485l1.6-1.5M582 499.3l1.8-1.3M580 503.7l1.9-1.1M595.6 493.8l1.8-1.2M584.2 502.7l1.9-1.2M590.9 502l1.9-1.1M588 505.2l1.9-1M591.2 517.3l2-0.7M593.6 518l2-0.7M599.9 517.5l2-0.7M600.4 528l2.1-0.4M610.8 527.8l4.1-0.7M595 533.2l2.2-0.3M601.4 535.3l2.2-0.3M603.7 538.1l2.2-0.2M611.9 537.6l2.1-0.2M601.8 544l2.2 0.1M599.5 549.7l2.2 0.2M603.5 551.5l2.1 0.2M614.2 562.9l2.1 0.4M593.8 560.1l2.1 0.5M591.5 561l2.1 0.5M593.6 568.6l2 0.7M604.2 580.8l2 0.9M504.8 472.9l-0.3-2.2" stroke="#008E00" stroke-width="1.70"/>
<path d="M520.7 436.9l0-2.2M524.1 441.2l0.2-2.2M533 442.1l0.3-2.2M535.5 438.3l0.3-2.1M542.3 433.4l0.4-2.1M544 442.2l0.6-2.1M545.8 442.7l0.6-2.1M549.6 428.9l0.6-2.1M546.4 447.1l0.6-2M551.6 429.5l0.6-2.1M552.8 425.5l0.6-2M554.8 426.2l0.7-2.1M553 449.4l0.8-2.1M554.5 445.5l0.7-2M562.3 424.4l0.8-2M564.4 425.2l0.8-2M570.8 441.6l1-1.9M574.5 439l1.1-1.9M613.7 469.8l1.7-1.3M618.6 476.6l1.8-1.2M622.4 514.3l2.1-0.6M622.9 516.1l2.1-0.5M637.8 516.7l2.1-0.5M624.3 542.4l2.2 0M626.4 544.2l2.2 0.1M627.9 553.9l2.2 0.2M635.3 560.8l2.2 0.4M626.2 565.3l2.1 0.5M631.8 568.6l2.1 0.4M628.9 572l4.1 1.1M620 585.6l2 0.8M610.3 587.4l1.9 0.9" stroke="#008E00" stroke-width="2.20"/>
<path d="M521.4 410.3l0.1-4.2M521.7 400.1l0-2.2M523.5 414.5l0.1-2.2M524 404.2l0.1-2.1M529 402.5l0.2-2.2M533.2 409.1l0.5-4.2M543.6 404.4l0.8-4.1M546.9 400.9l0.4-2.2M549 413.9l0.5-2.1M550.4 407.9l0.5-2.1M552.4 419l0.5-2.1M555.1 417.7l0.6-2.1M568.1 409.1l0.7-2.1M586.4 405.9l1-2M583.3 422.8l2.1-3.7M616.5 439.4l1.5-1.6M655.8 512.7l2.1-0.4M648.5 553.6l2.2 0.1M659.6 564.5l2.2 0.3M639.5 586.3l2 0.8M485.1 395.4l-0.5-2.1M508.5 390.1l-0.1-2.2" stroke="#008E00" stroke-width="2.70"/>
<path d="M522.4 371.4l0.1-2.2M525.8 363.4l0.1-2.3M538.1 366.4l0.2-2.3M557.6 378.1l0.5-2.2M567.1 365.8l0.6-2.2M591 390l1-2.1M634.9 680.2l1.5 1.8M632.5 682.3l1.4 1.7" stroke="#008E00" stroke-width="3.20"/>
<path d="M522.8 357.1l0-2.3M536.1 353.9l0.3-2.4M574.2 340.2l0.7-2.3M576 347.1l0.7-2.3" stroke="#008E00" stroke-width="3.70"/>
<path d="M642.1 738.3l1.4 2.1M638.7 740.4l1.3 2.2" stroke="#008E00" stroke-width="4.20"/>
<path d="M790.3 588.9l2.6 0.4" stroke="#008E00" stroke-width="5.20"/>
<path d="M540 519.2l4.2-4.6M543.5 519.8l1.6-1.4M546.5 517.1l1.6-1.5M552.8 521.9l1.8-1.1M553.1 522.5l1.9-1.1M549 527.8l1.9-1M549.3 528.3l1.9-0.9M551.6 528.6l2-0.8M551.5 534.6l2.2-0.5M551.8 535.8l2.2-0.5M544.2 539.8l2.2-0.3M546.3 540.1l2.2-0.3M552.5 540l2.2-0.2" stroke="#009C00" stroke-width="0.70"/>
<path d="M525.9 482.4l0.3-2.1M526.4 478.4l0.3-2.2M528.7 485l0.4-2.2M537.6 480.9l0.6-2.1M535.1 497.3l0.8-2M543.4 478.6l0.8-2.1M544.5 479l0.9-2M548 482.9l1-2M548.1 485.2l1-1.9M549.1 488.1l2.1-3.7M549.1 490.4l1.1-1.9M552.2 485.1l1.1-1.9M542.5 503.2l1.1-1.9M554.2 484l1.2-1.9M550.9 491.5l2.2-3.5M552.9 490.4l1.2-1.8M555.2 487l1.2-1.8M549 502.7l1.4-1.7M559.9 490.5l1.4-1.7M547.8 507l1.4-1.7M554.3 499.1l1.4-1.7M550.4 506.5l1.5-1.6M564 491.2l1.4-1.6M555.2 502.6l1.5-1.6M559.4 498l2.8-3.1M554.5 504.7l1.5-1.6M563.1 498.8l1.6-1.5M563.9 499.6l1.6-1.5M561.5 506.1l1.6-1.4M564.6 503.4l1.6-1.4M569.1 502.5l1.7-1.3M555.7 515.3l1.8-1.3M563.4 512l1.8-1.2M571.9 506.2l1.7-1.2M574.2 506l1.8-1.2M563.2 515.5l1.9-1.1M570.2 511.2l1.9-1.1M573.7 509.1l1.9-1.1M558.4 519.4l1.9-1.1M560.6 519.1l1.9-1M571.3 513.1l1.9-1.1M578.5 509l1.8-1M561 519.9l2-1.1M574.2 514l1.9-1M558.5 523.9l2-0.9M575.4 521.8l2-0.8M572.8 527l2.1-0.6M575.1 527.4l2.1-0.5M579 526.4l2.1-0.6M563.4 531.5l2.1-0.5M581.8 529.1l2.1-0.4M574 531.9l2.2-0.5M582.1 530.2l2.1-0.4M564.3 535.5l2.1-0.3M574.7 535.8l2.1-0.3M562.6 538.2l4.2-0.5M585.2 538l2.2-0.2M583.4 543.9l2.1 0M578.6 552.4l2.2 0.3M586.3 556l2.1 0.4" stroke="#009C00" stroke-width="1.20"/>
<path d="M524.2 463.7l0.1-2.1M530.3 460.3l0.3-2.1M530.9 456.3l0.3-2.2M546.8 451.6l0.7-2.1M545.8 468.5l0.8-2M547.3 464.7l0.7-2M552.3 451.3l0.8-2.1M544.9 474.8l0.8-2.1M546.4 470.9l0.8-2M547.3 475.7l0.8-1.9M549.7 470.1l0.9-2M548.7 478.7l1-2M554 467.6l1-2M563.3 456.2l1-2M560.2 468.5l1.1-1.9M563.6 465.7l1.1-1.9M559.6 475.3l1.1-1.9M556.4 482.9l1.1-1.8M557.4 483.6l1.2-1.8M563.1 477.5l1.2-1.8M561.9 481.7l1.2-1.8M567.7 478.4l1.4-1.8M575.2 468.6l1.3-1.7M566.3 482.4l1.4-1.7M570.1 477.6l1.4-1.7M570 480.1l2.7-3.2M568.4 484.2l1.4-1.7M570.8 483.5l1.4-1.6M566.3 490.5l1.5-1.6M578.7 476.9l1.5-1.6M571.4 486.9l1.5-1.6M581.3 476.5l1.5-1.6M585 477.3l1.6-1.5M578.6 491.5l1.6-1.4M583.3 487.5l1.6-1.4M581.1 491.2l1.6-1.3M582 492.3l1.7-1.3M586.8 488.5l1.7-1.3M579.6 496l1.7-1.4M575.5 500.7l1.7-1.3M579.3 502.6l1.8-1.2M582.7 500.4l1.9-1.2M588.7 498.2l1.8-1.1M587.7 500.5l1.8-1.1M595.5 497.6l1.9-1.1M580.2 508l1.9-1M585.7 509.5l1.9-1M589.3 507.7l2-1M589.9 508.9l2-0.9M598 506.8l2-0.9M602.4 506.6l2-0.9M589.7 513.5l2-0.8M609.3 507.3l2-0.8M609.1 512.8l2.1-0.7M607.1 520.2l2.1-0.5M598.4 528.4l2.1-0.4M606.4 526.9l2.2-0.4M602.9 530.6l2.2-0.3M595.5 538.6l2.2-0.2M599.6 538.3l2.2-0.1M597.6 539.8l4.3-0.2M614.1 540.8l2.1-0.1M605.8 547.1l2.2 0.1M593.5 547.9l2.1 0.2" stroke="#009C00" stroke-width="1.70"/>
<path d="M520.6 439l0.1-2.2M521 426.7l0-2.2M532.9 429.7l0.2-2.2M533.9 436l1-6.2M535.1 440.3l0.4-2.1M537.7 436.6l0.4-2.1M538.4 432.6l0.4-2.1M544.2 433.8l0.5-2.1M549.2 422.4l0.5-2.1M546.3 440.7l0.6-2.1M548.5 432.8l0.6-2.1M551.1 437.9l0.7-2.1M549.7 448.2l0.7-2.1M558.2 422.9l0.7-2M557.5 431.4l1.4-4M567.7 428.8l0.9-2M568.1 438l1.8-3.8M572.5 428.7l1-1.9M571.8 435.2l1-1.9M567.7 451.6l1-1.9M575.5 437.2l1.1-1.9M567.3 456l2.1-3.7M575.4 441.8l1-1.9M581 440.3l1.1-1.8M576.2 451.8l1.2-1.8M589.8 438.7l1.2-1.8M576.1 461.7l1.3-1.8M592.7 445.9l1.3-1.8M586.9 470.6l1.5-1.6M590.6 474.3l1.6-1.5M599.6 465.8l1.5-1.5M608.5 457.3l1.6-1.4M605.1 468.9l3.2-2.8M607.3 481.9l1.8-1.3M606.1 491.4l1.8-1.1M613.8 507.5l2-0.8M627.2 502.4l3.9-1.4M637.5 500.9l2.1-0.7M634.4 504.3l2-0.7M638.8 512l2.1-0.5M619.4 518.9l2.1-0.5M635.8 517.2l2.1-0.5M639 523l2.2-0.3M633.8 530.1l2.2-0.3M634.2 534.1l2.2-0.1M632.4 538.3l2.2-0.1M634.4 550.4l2.1 0.2M623.6 555.3l2.2 0.3M623.9 574.7l2.1 0.6M625.3 577.2l2 0.6" stroke="#009C00" stroke-width="2.20"/>
<path d="M536.1 405.3l0.3-2.2M547.3 398.9l0.4-2.2M551.7 412.5l0.6-2.1M556.9 392.7l0.5-2.1M554.6 411.1l0.5-2.1M556.9 411.8l0.6-2.1M559.5 419.1l0.7-2.1M564.4 412.1l0.7-2.1M566.4 406.3l0.7-2.1M573.4 402.4l0.8-2.1M568 422.3l0.9-2M578.3 404.4l0.9-2M581.8 415.1l1-2M580.3 423.5l1-2M585 414.4l2-3.8M590.2 410.2l1-1.9M591.7 422.9l1.1-1.9M603.3 436l1.3-1.7M654.6 478.1l2-1M637.1 489l2-0.9M652.4 530.4l2.1-0.3M654.6 532.5l2.2-0.1M648.9 539.9l2.1-0.1M659.1 539.6l2.2-0.1M653 544.5l2.2 0M657.1 544.5l4.2 0.1M663 552.2l2.1 0.1M646.5 553.4l2.1 0.2" stroke="#009C00" stroke-width="2.70"/>
<path d="M564 365l0.6-2.3M572.5 380.3l0.7-2.2M573.9 385.1l1.5-4.1M593.5 398.1l1-2M600 404l1.1-1.9M618.8 396.6l1.2-1.9M629.9 407.5l1.4-1.8M666.2 437.5l1.9-1.3M675.4 550.2l2.2 0.1" stroke="#009C00" stroke-width="3.20"/>
<path d="M563.8 352.3l0.5-2.3M590.6 358.6l0.9-2.2M601.9 359l1-2.2" stroke="#009C00" stroke-width="3.70"/>
<path d="M557.1 531.7l2.1-0.6" stroke="#00AA00" stroke-width="0.70"/>
<path d="M534.1 475.7l0.5-2.2M546.8 480l0.9-2M545.2 486.1l0.9-2M548.2 487.6l1-1.9M539.7 506.3l1.1-1.9M548.4 497.2l1.2-1.8M551.8 492.1l1.2-1.8M552.7 492.7l1.2-1.8M548.8 500l1.2-1.8M556.5 493l1.3-1.7M561.2 488.9l1.4-1.7M558.2 494.4l1.4-1.7M557.2 498.9l1.5-1.7M551.7 507.7l2.9-3.1M558.7 500.3l1.5-1.6M559.5 501l1.5-1.6M566.8 503l1.7-1.4M565.9 505.1l1.7-1.4M570.7 501.3l1.7-1.4M566.6 505.9l1.7-1.3M573.1 500.9l1.7-1.3M557.1 517.3l1.8-1.2M559.3 516.9l1.8-1.1M573.1 508.1l1.9-1.1M562 517.3l1.8-1.1M574.3 510.1l1.9-1.1M569.6 518.6l2-0.9M564.4 522.1l2-0.9M570.4 520.5l2-0.9M577 526.9l2.1-0.6M561.8 533.6l2.1-0.5M576 531.5l2.2-0.5M562.1 535.1l2.2-0.4M584.3 531l2.1-0.4M574.4 533.8l4.2-0.7M584.8 534.5l2.2-0.3M569 541.1l2.2-0.1M577.2 542.8l2.2 0" stroke="#00AA00" stroke-width="1.20"/>
<path d="M536.9 470l0.5-2.1M538.1 470.3l0.6-2.1M545.2 451.1l0.6-2.1M549.3 454.6l0.8-2.1M553.1 458.2l1.7-3.9M553.1 469.4l1-1.9M557.6 467.1l1-2M562.3 458l1-2M561.8 462.4l1.1-1.9M565.7 462.2l2.1-3.7M558.5 477l1.2-1.9M558.5 484.3l1.2-1.8M571.2 465.7l1.3-1.8M565.4 476.7l1.3-1.8M569 474.2l2.5-3.4M576.3 464.3l1.3-1.7M561.5 486.5l1.3-1.7M570.2 475.1l1.3-1.7M579.1 466.4l1.3-1.7M567.4 483.3l1.3-1.7M565.4 489.7l1.4-1.7M569.4 485.1l1.5-1.7M581.6 471.3l1.5-1.7M569.1 487.5l2.8-3.1M570 488.4l1.5-1.6M568.1 492.2l1.5-1.5M575.3 484.9l1.5-1.5M578.1 482l1.6-1.6M574.3 489.8l1.6-1.5M586.2 478.5l4.5-4.3M579.8 486.6l1.6-1.5M573.1 494.5l1.6-1.5M588.4 480.9l1.6-1.4M575.5 494.1l1.6-1.4M589.5 482.2l3.2-2.8M579.5 492.5l1.7-1.3M580.4 493.6l1.7-1.3M594.8 482.1l1.7-1.3M584.5 492.2l1.7-1.3M577.1 499.5l1.8-1.3M587 492.2l1.7-1.3M576.9 502.7l1.8-1.2M580.3 500.4l1.8-1.2M588.7 494.6l1.8-1.2M597.2 488.8l3.5-2.4M589.6 495.9l3.5-2.4M599 491.6l1.9-1.2M582.6 508.1l1.9-1M585.1 508.3l1.9-1M590.5 505.5l3.8-1.9M599.6 500.8l1.9-1M593 505.9l1.9-1M591.8 508.1l3.8-1.9M594.3 508.5l3.8-1.7M604.2 505.8l2-0.9M584.1 515.9l2-0.8M601.1 508.8l2-0.8M601.7 510.3l2-0.8M602.8 513.2l4-1.4M607.2 513.4l2-0.7M601.8 516.8l2.1-0.6M608.2 516.6l2.1-0.7M601.1 521.8l2.1-0.6M593.5 525.1l2.1-0.5M607.5 521.8l2.1-0.5M592.8 532.1l2.1-0.3M604.9 530.3l2.2-0.3M603.3 533.6l2.2-0.3M603.5 535.1l2.1-0.2M609.8 537.7l2.2-0.2M597.7 544l2.2 0M612 545.8l2.2 0M605.5 551.7l2.2 0.2M588.1 557.6l2.1 0.4" stroke="#00AA00" stroke-width="1.70"/>
<path d="M529.7 421l0.2-2.1M536.1 421.8l0.3-2.1M547 445.2l0.6-2.1M553 438.5l0.7-2.1M556.9 426.8l0.7-2M557.7 442.4l0.8-2.1M563.6 438.2l0.9-2M568.8 431.5l0.9-1.9M570.5 427.8l0.9-2M562 450.9l0.9-1.9M570.8 432.4l0.9-1.9M565.4 448l1-1.9M573.6 431.6l1-2M574.6 434.4l1-2M565.8 455.2l1-1.9M571.6 444.4l1.1-1.9M582.3 433.9l1.1-1.8M570.3 457.8l1.1-1.9M576.6 454.5l1.2-1.8M581.2 447.7l1.2-1.8M581.7 450.5l1.2-1.8M585.7 448.3l1.2-1.8M587.3 449.5l2.5-3.4M579 463.7l1.3-1.7M582.9 461.6l2.6-3.3M588.4 463.6l1.5-1.6M585.7 469.4l1.4-1.6M599.5 454.3l1.5-1.6M598.2 458.7l2.9-3.1M602.6 460.1l1.5-1.5M594.9 472.8l1.6-1.5M608.4 463.3l1.6-1.5M601.6 474.3l1.7-1.4M601.2 477l1.7-1.3M612.4 468.1l1.7-1.3M605.6 476l1.7-1.3M611.7 473.9l3.4-2.5M617.4 474.9l1.8-1.2M620.8 472.6l1.8-1.3M613.5 480l1.8-1.2M606.9 488.8l1.9-1.2M610.4 486.6l1.8-1.1M622 482l1.8-1.1M605.2 493.9l1.9-1.1M629.4 482.7l1.9-1M618.6 493.1l2-1M618.8 503.5l2.1-0.8M615.7 506.7l2-0.7M614.4 509.1l2-0.7M614.9 510.8l2.1-0.7M636.3 503.7l2.1-0.7M623.3 510.1l2.1-0.7M639.3 514.2l2.1-0.6M633.8 517.6l2.1-0.5M620.5 524.3l2.2-0.4M636.6 521.3l2.2-0.4M643.4 524.5l2.2-0.3M632 532.3l2.2-0.2M628.2 565.7l2.1 0.5M631.7 583.6l2.1 0.7" stroke="#00AA00" stroke-width="2.20"/>
<path d="M543.3 406.4l0.4-2.1M555.8 396.6l0.6-2.1M553.5 415.1l0.5-2.1M559.1 412.5l0.7-2.1M563.5 398.8l0.6-2.1M563 415.9l0.7-2M571.2 408.1l0.8-2.1M575.2 423.2l0.9-2M586.9 410.7l1-1.9M585.4 423.9l1.1-1.9M587.5 420.4l1-1.9M591.7 418.1l1.1-1.9M588.3 432.8l1.2-1.8M595.6 430.3l1.2-1.8M592.8 438.3l1.3-1.8M611.4 421.5l1.3-1.7M600.7 439.2l1.4-1.7M601.2 442.2l1.4-1.7M605.1 437.5l1.4-1.7M615 429.7l1.4-1.7M616.9 431.4l2.8-3.2M620.2 431.6l1.5-1.6M612.3 443.8l1.5-1.6M619.8 439.6l1.5-1.5M609.9 452.9l1.5-1.5M614.5 454.8l1.6-1.5M633.1 444.9l1.6-1.4M628.5 452.2l1.6-1.4M625.4 472.1l1.9-1.2M650.2 465.4l1.9-1.1M659.6 495.9l2.1-0.7M642.8 503.9l2.1-0.6M647.4 504.9l2.1-0.6M646.1 507.7l2.1-0.5M650.1 506.6l2.1-0.5M661.2 508.9l2.1-0.5M648.3 516.8l2.1-0.5M654.3 515.5l2.1-0.4M666.3 513.1l2.2-0.4M660.8 516.8l2.1-0.4M657.2 520l2.2-0.4M646.5 533.2l4.2-0.3M660.9 534.6l2.2-0.2M661.1 537l2.1 0M660.8 554.5l2.1 0.2" stroke="#00AA00" stroke-width="2.70"/>
<path d="M552.6 372.8l0.4-2.2M557.1 380.1l0.5-2.2M560.4 366.2l0.6-2.3M564.9 373.7l0.6-2.2M562.7 392.2l0.6-2.1M569.1 370.6l0.6-2.2M569.2 390l0.7-2.2M583.7 384.5l0.9-2.1M585.8 394.3l0.9-2M585.8 401l2.7-5.7M590.2 391.8l0.9-2M591.9 388.1l1-2M608.8 395l1.2-2M609.4 405l1.2-1.8M613.9 398.2l1.3-1.9M610.6 408.4l1.3-1.9M624.4 427.1l1.5-1.6M668.4 484l2-0.8M673.2 485.2l2.1-0.7" stroke="#00AA00" stroke-width="3.20"/>
<path d="M526.2 353.2l0.1-2.4M535.9 355.9l0.3-2.3M576.6 345.1l0.7-2.3M618.4 379.3l1.2-2M629.9 392l1.4-1.9M645.5 388.6l1.5-1.9M684.6 460.2l2-1" stroke="#00AA00" stroke-width="3.70"/>
<path d="M782.1 449.7l2.4-0.8" stroke="#00AA00" stroke-width="5.20"/>
<path d="M536.1 518.7l1.3-1.8M536.9 521.9l1.4-1.7M540.5 522.6l1.6-1.5" stroke="#00BA00" stroke-width="0.70"/>
<path d="M524.6 498.8l0.3-2.1M542.6 480.5l0.8-2M551.1 482.2l1-1.9M544.5 504.5l1.3-1.8M546.9 501.2l1.2-1.8M557.3 486l1.2-1.8M552.8 497.9l1.3-1.8M563.1 490.4l1.4-1.7M555.9 500.4l1.4-1.6M565.8 492.8l1.5-1.5M567.7 497.7l1.6-1.5M563.9 502.6l1.6-1.4M574.5 502.9l1.8-1.3M562.3 513.9l1.8-1.2M567.9 511.4l1.9-1.1M577.9 517.2l2-0.9M570.6 526.7l2-0.7M576.4 524.8l2.1-0.6M575.3 528.4l2.1-0.5M578 531.1l2.2-0.5M580.3 531.7l2.1-0.4M583.3 546.2l2.2 0.1M476 568.9l-1.8 1.2M468.9 557.8l-2.1 0.6M450.9 561.9l-2.1 0.6M511.2 484.4l-0.3-2.2" stroke="#00BA00" stroke-width="1.20"/>
<path d="M555.5 452.5l0.8-2M557.2 464.5l0.9-1.9M561.5 469.2l1.1-1.8M568.5 463.9l1.2-1.8M577.7 465.4l1.3-1.8M572.7 474.4l1.3-1.7M579.1 469.1l1.4-1.7M575.1 476.4l1.4-1.7M580.3 472.8l1.4-1.6M576 479.9l1.4-1.6M579.6 480.5l1.5-1.5M583.9 476.2l1.5-1.6M576.3 485.9l1.5-1.5M575.8 488.4l1.6-1.5M575.2 490.8l1.6-1.5M588.8 478.3l1.6-1.5M582.3 486.3l1.6-1.4M587.9 483.5l1.7-1.4M592.6 479.5l1.7-1.4M576.3 495.1l1.7-1.3M584.2 488.6l1.7-1.4M577.2 496.2l3.3-2.7M582.1 495.8l1.7-1.3M577.9 500.5l1.7-1.2M596.2 487.4l1.8-1.2M590.4 493.5l1.8-1.3M584.5 499.3l3.5-2.4M599.8 489.1l1.8-1.2M585.2 500.4l1.8-1.1M592.1 496l1.9-1.2M589.4 499.5l1.9-1.2M592.9 497.3l1.9-1.1M581.4 505.9l1.8-1.1M595.5 506.3l1.9-0.9M591.1 511.5l2-0.9M599.2 509.6l2-0.8M605.5 508.8l2-0.8M590.7 516.1l2.1-0.8M608 509.6l2-0.7M585.4 519.4l2.1-0.7M606.6 511.9l4-1.4M603.3 514.7l2.1-0.7M611.6 513.8l2.1-0.7M604.2 517.7l2.1-0.6M610.6 517.6l2.1-0.6M600.9 530.9l2.1-0.3M599.5 536.9l2.2-0.2M601.1 554.3l2.1 0.2M432 562.3l-2.1 0.5M447.3 531.5l-2.2-0.4M436.2 500.8l-1.9-1" stroke="#00BA00" stroke-width="1.70"/>
<path d="M546.9 438.8l0.6-2.1M553.6 430.1l0.7-2.1M551.4 448.8l0.7-2.1M560.9 428.3l0.8-2.1M559.4 443.1l0.8-2M561.1 452.8l0.9-2M567.2 439.8l1-1.9M566.3 446.2l1-1.9M564.2 454.3l1-1.9M576.5 430.7l1-1.9M570.6 446.2l1.1-1.9M577.5 433.6l2-3.7M570.3 450.7l1.1-1.9M583.1 436.8l1.2-1.8M573.3 459.7l1.2-1.8M580.5 452.2l1.2-1.8M591.6 440l1.3-1.8M590.5 452l1.4-1.7M584.4 465.5l1.4-1.7M591 457.7l1.4-1.7M596.6 454.4l1.4-1.6M589.8 464.8l4.2-4.6M592.6 464.6l2.9-3.1M599.7 460.1l1.5-1.6M605.4 454.2l1.5-1.5M596.6 468.6l1.6-1.5M593 476.8l3.2-2.8M611.4 460.6l1.6-1.5M611.3 463.5l1.6-1.4M604.8 471.7l3.2-2.7M611.1 466.5l1.7-1.4M596.4 480.9l1.7-1.4M599.6 478.3l1.7-1.3M604.4 474.5l1.7-1.4M607.6 471.9l1.7-1.3M610.8 469.4l1.7-1.4M614 466.8l1.7-1.3M617 467.3l1.7-1.3M605.1 478.8l1.8-1.3M608.4 476.3l1.7-1.3M612.9 475.5l1.8-1.2M601.5 487.9l1.8-1.2M622 474.4l1.8-1.2M603.4 490.9l3.6-2.2M618.4 484.1l3.7-2.2M617.7 486.9l1.9-1.1M613.2 495.8l1.9-1M612.1 498.4l2-1M621.1 498.4l2-0.9M616.9 504.3l2-0.8M624.5 501.3l2.1-0.8M623.3 503.9l2.1-0.8M634.9 499.6l2-0.8M624 505.7l2.1-0.7M635.7 508.4l2-0.6M620.5 514.9l2.1-0.6M634.8 513.1l2.1-0.6M623.6 531.3l2.2-0.3M618.2 542.4l2.2 0M634.5 548.4l2.1 0.1M644.6 551l2.1 0.2M617.9 551.2l2.1 0.1M397.1 542.2l-2.1 0M422.1 469.8l-1.7-1.3M438.5 475.5l-1.6-1.4" stroke="#00BA00" stroke-width="2.20"/>
<path d="M555.3 398.6l0.6-2.1M567.1 404.4l0.7-2.1M565.2 423.3l0.8-2M572.6 417.5l0.9-2M578.2 411l0.9-1.9M578.2 422.4l1-2M580 418.7l1-1.9M583.7 411.4l0.9-2M582.2 419.8l1-1.9M600.4 413.8l1.2-1.8M593.6 428.9l1.2-1.8M592.1 435.3l1.2-1.8M602.3 425l1.3-1.8M598.9 437.7l1.3-1.7M613.5 423.1l1.3-1.7M610.4 431.1l1.3-1.6M615.6 424.8l1.3-1.7M611 434.3l1.4-1.6M614.2 434.4l1.4-1.6M613.3 439.2l1.5-1.6M611.3 451.5l1.6-1.5M627.8 439l1.6-1.5M616 453.4l1.6-1.5M623.5 446.5l1.7-1.5M629.6 441l1.6-1.5M622.2 451.1l1.6-1.5M620.6 458.7l1.6-1.4M623.6 459.2l1.7-1.4M630 454.1l1.7-1.4M639.7 449.8l1.7-1.3M626.2 466l1.8-1.2M637.9 457.7l1.8-1.3M635.7 465.3l1.8-1.2M626.7 474l1.8-1.2M630.1 471.8l1.9-1.2M642.2 464.1l1.8-1.2M640.1 468.4l1.8-1.1M647.1 464.1l1.8-1.1M632.5 475.8l1.9-1.1M646.7 467.5l3.6-2.2M639.6 480l1.9-1M642.5 481.2l1.9-1M636.1 486.9l2-0.9M639.8 485.1l2-0.9M648.3 483.9l2-0.9M659.5 478.8l2-0.9M649.3 486.2l2-0.9M657.9 485.3l3.9-1.6M658.8 487.8l2.1-0.8M657.9 491l2-0.8M657.3 502l2-0.6M654 505.6l2.1-0.6M662.6 505.9l2.1-0.6M649.8 514.1l2.1-0.5M665.8 510.5l2.1-0.5M661.3 519.3l2.1-0.3M646 528.7l2.2-0.2M646.6 535.4l2.2-0.1M445.2 424.6l-1.2-1.8" stroke="#00BA00" stroke-width="2.70"/>
<path d="M566 369.8l0.6-2.3M580.2 385.2l0.8-2.1M602 381.7l1.1-2M613.1 388l1.2-2M611.8 406.7l1.3-1.9M611.8 411.7l1.3-1.9M625 398.5l1.4-1.8M626 412.2l1.4-1.7M632.5 404.3l1.4-1.7M630.9 411l1.5-1.7M626.4 420.7l1.5-1.7M629.1 417.6l1.5-1.7M633.2 413l1.5-1.7M640.5 414.1l1.5-1.6M632.7 426.5l1.5-1.6M637 422.1l1.6-1.6M634.7 428.5l1.6-1.5M647.8 443.6l1.8-1.3M654 459.9l1.9-1.2M668.6 464.9l2-1.1M675.8 461.1l2.1-1.1M662.6 471.1l2-0.9M672.5 472.9l2-1M678.1 470.3l2-0.9M664.6 485.5l2-0.8M667.5 487.4l3.9-1.5" stroke="#00BA00" stroke-width="3.20"/>
<path d="M536.7 347.8l0.3-2.4M587.4 357.4l0.8-2.2M619.1 384.5l1.2-2M630.3 379.7l1.4-1.9M660.2 393.4l1.6-1.8M691.8 471.3l2.2-0.9" stroke="#00BA00" stroke-width="3.70"/>
<path d="M555.6 497.5l1.4-1.7M571.2 505.3l1.8-1.3M570.2 507.4l1.8-1.3M566 516.1l1.9-1.1M571 516.8l1.9-0.9M572.3 519.6l2-0.8M579.2 520.4l2.1-0.8M580.3 523.6l2.1-0.6" stroke="#00CA00" stroke-width="1.20"/>
<path d="M563.1 480l1.2-1.8M574 472.8l1.3-1.7M577.7 473.3l1.4-1.7M574.9 478.9l1.4-1.6M579.9 478l1.5-1.6M578.3 488l1.6-1.5M582.9 497l3.4-2.5M581 501.5l1.8-1.2M590.4 497.1l1.8-1.2M584.9 503.8l1.9-1.1M598.1 497.9l1.8-1M596.7 504l1.9-0.9M584.5 517.1l2.1-0.8M605.3 533.3l2.2-0.2" stroke="#00CA00" stroke-width="1.70"/>
<path d="M561.2 443.8l0.8-2M572.7 433.4l1-2M572.7 438l1-1.9M580.2 437.5l1.1-1.9M575.7 449.1l1.1-1.9M585 438l1.2-1.8M585.1 445.5l1.3-1.8M587.7 452.4l1.3-1.8M580.3 464.8l1.4-1.7M597.9 452.8l1.5-1.6M595.3 458.8l1.5-1.6M600.9 452.7l1.4-1.6M592.1 472.9l1.6-1.5M607 458.8l1.6-1.5M594.2 478.2l1.6-1.4M601.9 471.5l1.7-1.4M609.5 467.8l1.7-1.4M601.8 481.2l3.4-2.5M611.2 476.7l1.8-1.2M616.9 477.8l1.8-1.2M616.3 480.6l1.8-1.2M623.7 481l1.9-1.1M608.7 496l1.9-1M623.2 493.1l2-1M633.4 490.7l2-0.9M611.7 502.5l2-0.9M634.3 492.7l2-0.9M621.9 500.2l2-0.8M613.1 505.8l2-0.8M626.5 500.5l2-0.8M629.8 503.7l2.1-0.8M615.4 519.9l2.1-0.5M637.3 514.6l2.1-0.5M644 528.9l2.2-0.2" stroke="#00CA00" stroke-width="2.20"/>
<path d="M561.6 404.7l0.7-2.1M564.7 394.9l0.6-2.1M561.6 419.8l0.8-2M575.1 405.2l0.8-2M576.5 414.8l0.9-2M575.4 427.9l1-2M580.4 428.2l1-1.9M584.4 425.7l1.1-1.9M585.3 433.3l1.1-1.8M599.2 410.7l1.1-1.9M594.9 422.4l1.2-1.8M589.1 435.8l1.2-1.9M595.9 425.5l1.2-1.8M594 436.6l1.2-1.7M598.7 430l1.3-1.8M597.7 439.4l1.3-1.8M602.6 432.9l1.4-1.8M617.6 426.6l1.4-1.7M621.6 430.1l1.5-1.6M618.6 444.3l1.6-1.5M623 440l3-3M624.8 441.8l1.6-1.5M625.1 445.1l1.6-1.5M631.4 442.9l1.6-1.4M634.4 440.2l1.7-1.4M623.7 456.1l1.7-1.4M631.6 449.5l1.7-1.3M641.3 448.6l1.8-1.3M636 462.1l1.8-1.2M635.3 468.5l1.8-1.2M643.9 463l1.9-1.2M641.8 467.4l1.9-1.2M634.3 474.7l1.9-1.1M633 480.8l1.9-1M643.2 478.1l1.9-1M646.8 476.2l2-1M633.3 485.8l2-1M661.7 489.5l2.1-0.7M646 500.4l2.1-0.7M649.4 504.3l2.1-0.6M658 504.5l2.1-0.6M646.3 530.9l2.1-0.2" stroke="#00CA00" stroke-width="2.70"/>
<path d="M579 395.8l0.8-2.1M580.6 392l0.8-2M596.5 404.3l1.1-1.9M602.6 393.7l1.1-2M609.5 410l1.2-1.8M621.3 408.5l1.4-1.8M620.3 423.4l1.4-1.6M624.2 418.8l2.8-3.3M629.6 412.6l1.4-1.8M627.8 419.1l1.4-1.6M635.4 415l1.6-1.6M629.8 429.4l1.6-1.6M639.8 419.2l1.6-1.6M633.2 430l1.6-1.6M643.4 419.9l1.7-1.6M633.7 433.4l1.6-1.5M648.5 419.3l1.7-1.6M656.2 451.8l1.8-1.2M661.8 465.2l2-1.1M675.1 484.5l2.1-0.8" stroke="#00CA00" stroke-width="3.20"/>
<path d="M601.9 374.8l1-2.1M632.2 363.8l1.3-2M632.3 388.7l1.4-1.9M644.2 390.1l1.5-1.8" stroke="#00CA00" stroke-width="3.70"/>
<path d="M766.6 483.6l2.5-0.6" stroke="#00CA00" stroke-width="4.70"/>
<path d="M569.9 464.8l1.2-1.8M572.6 477l1.4-1.7M577.8 470.7l1.4-1.7M584.3 470.9l1.4-1.6M586.5 475.9l1.6-1.5M594.5 488.6l1.8-1.2M587.9 497l1.8-1.2M594.1 503.6l2-1" stroke="#00DA00" stroke-width="1.70"/>
<path d="M593.7 454.6l1.4-1.7M595.2 455.9l1.5-1.6M591.2 466.1l1.5-1.6M601.1 458.6l1.5-1.5M606.9 461.7l1.6-1.5M629.6 487.6l2-1M632.4 505l2.1-0.7M634.5 540.2l2.2 0" stroke="#00DA00" stroke-width="2.20"/>
<path d="M584.9 402.9l0.9-2M596.9 409.3l1.1-1.9M590.9 437l1.3-1.8M600.2 423.5l1.3-1.8M601.4 434.5l1.3-1.7M606.4 435.9l1.4-1.7M628.1 442.3l1.6-1.4M634.6 460.1l1.7-1.3M641.2 455.3l1.8-1.2M625.9 469.1l1.8-1.2M639.1 463.1l1.8-1.2M631.4 473.8l1.8-1.2M629 477.8l1.9-1.1M645.6 473.9l1.9-1M654.6 469.1l2-1.1M652.3 473.4l1.9-1.1M651.6 476.6l2-1M660.7 487l2.1-0.8M647.2 497.5l2-0.7M651.9 498.5l2-0.7M659.9 503.9l2.1-0.6" stroke="#00DA00" stroke-width="2.70"/>
<path d="M592.6 399.9l1-2M596 399.4l1.1-2M601.3 407.2l1.2-1.9M624.9 408.8l1.4-1.8M628.6 409.1l1.4-1.8M633.8 402.8l1.4-1.8M639.1 415.6l1.5-1.6M637.6 425.7l1.6-1.6M640.5 422.8l1.6-1.6M650.7 421.6l1.7-1.5M669.8 442.8l1.9-1.3M670.6 473.7l2.1-0.9M671.3 486l2.1-0.8" stroke="#00DA00" stroke-width="3.20"/>
<path d="M633.2 381.7l1.3-1.9M664.2 409.2l1.8-1.6" stroke="#00DA00" stroke-width="3.70"/>
<path d="M707.7 381.2l1.9-1.7M717 373.2l2-1.6" stroke="#00DA00" stroke-width="4.70"/>
<path d="M796.1 359.2l5.5-3.7M799.2 364.1l5.6-3.6" stroke="#00DA00" stroke-width="6.20"/>
<path d="M571.3 492.6l1.6-1.5M580.2 484.1l1.6-1.5" stroke="#00EC00" stroke-width="1.70"/>
<path d="M595.1 470l1.6-1.5M603.2 473l1.7-1.4" stroke="#00EC00" stroke-width="2.20"/>
<path d="M589.6 421.6l1.1-1.9M587.2 434.5l1.2-1.8M622.2 433.4l1.5-1.6M644.3 480.3l2-1" stroke="#00EC00" stroke-width="2.70"/>
<path d="M635.6 435.4l1.6-1.5M649.5 452.9l1.8-1.3" stroke="#00EC00" stroke-width="3.20"/>
<path d="M645.1 404.5l1.6-1.7M663.8 399.9l1.8-1.7M666.8 397l1.7-1.7M668.8 405.1l1.7-1.7M336.5 654.5l-2.1 1.3" stroke="#00EC00" stroke-width="3.70"/>
<path d="M682.8 375.5l1.8-1.8M673.7 395.4l1.8-1.7M684.4 401.1l1.8-1.6" stroke="#00EC00" stroke-width="4.20"/>
<path d="M363.5 744.6l-1.6 2" stroke="#00EC00" stroke-width="4.70"/>
<path d="M644.2 459.7l1.8-1.2" stroke="#20FA20" stroke-width="2.70"/>
<path d="M622.9 420.3l1.5-1.7" stroke="#20FA20" stroke-width="3.20"/>
<path d="M487.7 560.4l-1.9 1.1" stroke="#48F250" stroke-width="0.70"/>
<path d="M550.1 600.3l1.1 1.9M452.7 518.9l-2-0.7M482.6 485.7l-1.1-1.8" stroke="#48F250" stroke-width="1.20"/>
<path d="M560.2 454.6l0.9-1.9" stroke="#48F250" stroke-width="1.70"/>
<path d="M620.4 487.6l1.9-1M495.5 433l-0.5-2.1" stroke="#48F250" stroke-width="2.20"/>
<path d="M624.9 464.2l1.7-1.3M652.8 518.3l2.1-0.4" stroke="#48F250" stroke-width="2.70"/>
<path d="M371.8 748.2l-1.5 2" stroke="#48F250" stroke-width="4.70"/>
<path d="M515.4 584.1l-0.1 2.2" stroke="#62F074" stroke-width="0.70"/>
<path d="M544.9 497.5l1.1-1.9M550.1 488.7l1.1-1.9M507.4 587.1l-0.5 2.1M485.5 585.5l-1.3 1.7" stroke="#62F074" stroke-width="1.20"/>
<path d="M533.6 458.8l0.4-2.2M616.1 542.4l2.2 0M459.5 588.1l-1.8 1.4M442.2 599.3l-1.7 1.3M423 527.4l-2.1-0.3M495.8 468.7l-0.6-2" stroke="#62F074" stroke-width="1.70"/>
<path d="M467 629.7l-1.1 1.9" stroke="#62F074" stroke-width="2.20"/>
<path d="M623.3 643.3l1.6 1.5M389.2 551.2l-2.2 0.1" stroke="#62F074" stroke-width="2.70"/>
<path d="M474.4 724.4l-0.5 2.2" stroke="#62F074" stroke-width="3.70"/>
<path d="M675.5 698.2l1.8 1.7" stroke="#92F0B4" stroke-width="4.20"/>
<path d="M541.4 486.6l0.8-2M558.5 512.2l1.7-1.4M505.1 586.4l-0.6 2.1" stroke="#9CEAEA" stroke-width="1.20"/>
<path d="M577.4 608.2l1.4 1.6M540.8 638.8l0.5 2.1M451.5 604.1l-1.6 1.5" stroke="#9CEAEA" stroke-width="1.70"/>
<path d="M526.1 439.2l0.2-2.1M547.5 419.9l0.5-2.1M550.2 426.9l0.6-2.1M592.5 459l1.4-1.6M431.8 630.9l-1.5 1.5M430.2 610.6l-1.7 1.3M426.2 597.3l-1.9 1.1" stroke="#9CEAEA" stroke-width="2.20"/>
<path d="M519.5 361.2l0-2.3" stroke="#9CEAEA" stroke-width="3.20"/>
<path d="M533.3 739.1l0.2 2.4" stroke="#9CEAEA" stroke-width="3.70"/>
<path d="M426.5 753.4l-1 2.3" stroke="#9CEAEA" stroke-width="4.20"/>
<path d="M381.3 734.8l-1.5 2.1" stroke="#7CE6E6" stroke-width="4.20"/>
<path d="M660.5 343.4l1.4-2M464.8 783l-0.6 2.5" stroke="#7CE6E6" stroke-width="4.70"/>
<path d="M577.7 900.6l0.4 2.5" stroke="#7CE6E6" stroke-width="6.70"/>
<path d="M503.7 516.1l-1-1.9" stroke="#6CE4E4" stroke-width="0.70"/>
<path d="M557.9 514.8l1.7-1.3M452.2 559.1l-2.1 0.5M464 531.3l-2.1-0.4" stroke="#6CE4E4" stroke-width="1.20"/>
<path d="M567.1 600.9l1.4 1.6M530.9 630.3l0.3 2.2M434.5 533.8l-2.1-0.2" stroke="#6CE4E4" stroke-width="1.70"/>
<path d="M637.6 507.8l2.1-0.6M638.2 509.9l2.1-0.5" stroke="#6CE4E4" stroke-width="2.20"/>
<path d="M653 542.1l2.2 0M495.9 674.5l-0.3 2.2M456.4 656.6l-1.1 1.9M395 487.3l-2-0.9" stroke="#6CE4E4" stroke-width="2.70"/>
<path d="M511.5 786.7l0 2.5" stroke="#6CE4E4" stroke-width="4.70"/>
<path d="M888.4 639.1l2.5 0.7" stroke="#28B6D2" stroke-width="6.70"/>
<path d="M896.1 866.3l2 1.7" stroke="#28B6D2" stroke-width="8.70"/>
</g>
<path d="M222.33 45.5V1046.3M369.17 45.5V1046.3M516.00 45.5V1046.3M662.83 45.5V1046.3M809.67 45.5V1046.3M75.5 184.72H956.5M75.5 323.04H956.5M75.5 460.49H956.5M75.5 597.07H956.5M75.5 732.81H956.5M75.5 867.71H956.5M75.5 1001.79H956.5" fill="none" stroke="#a8a8a8" stroke-opacity="0.75" stroke-width="0.75" stroke-dasharray="2.6 1.1"/>
<path d="M633.7 490.5L640.5 493.1L647.4 491.4L651.7 488.8L655.9 492.2L658.5 498.2L663.6 500.8L669.6 503.4L676.5 502.5L679.0 506.8L673.0 510.2L670.5 515.3L671.3 521.3L674.7 527.3L680.7 525.6L684.2 518.8L688.4 511.1L692.7 511.9L698.7 516.2L705.5 517.0L709.0 516.2L709.8 521.3L713.2 524.7M692.7 511.9L691.0 521.3L690.1 529.9L691.9 538.4L696.1 545.3L702.1 550.4L709.0 555.5L714.1 560.7L718.4 564.1L722.7 559.0L729.5 555.5L732.9 554.7M674.7 527.3L674.7 535.0L670.5 543.6L667.9 552.1L663.6 557.3L660.2 562.4L656.8 568.4L654.2 572.7L655.1 581.2L652.5 587.2L656.8 588.0L664.5 586.3L669.6 584.6L676.5 582.9L683.3 582.9L688.4 586.3L693.6 590.6L700.4 588.0L705.5 586.0L712.4 587.2L717.5 586.3L719.2 592.3L722.7 596.6L729.5 599.2L732.9 603.4L737.2 596.6L742.3 588.9L739.8 582.9L742.3 576.9L753.4 576.9M732.9 603.4L739.8 606.9L743.2 613.7L742.3 622.3L731.2 621.4L726.1 626.5L720.9 632.5L715.8 635.1L715.0 641.1L711.5 647.1M742.3 622.3L750.0 625.7L756.9 630.8L763.7 626.5L772.3 625.7L775.7 620.6L780.8 620.2L786.8 626.5L791.9 628.3L797.9 623.1L804.8 625.7L809.9 628.3M669.6 584.6L670.5 589.8L663.6 596.6L660.2 603.4L656.8 612.0L658.5 618.8L661.1 625.7L660.2 632.5L661.9 641.1L669.6 644.5L676.5 646.2L681.6 643.7L687.6 645.4L695.3 647.1L703.8 647.1L711.5 647.1L719.2 649.6L729.5 649.6L738.0 649.6M660.2 632.5L652.5 634.2L647.4 638.5L642.2 641.9L637.1 638.5L632.0 636.0L627.7 638.5M625.7 701.6L629.9 705.0L629.9 710.1L633.4 710.1L636.8 706.7L644.5 702.4L651.3 699.0L656.5 700.7L664.2 695.6L671.9 692.2L678.7 691.0L683.8 691.0L684.7 694.7L689.0 697.3L691.5 701.6L695.8 703.6L702.7 706.7L708.6 710.1L712.1 715.3L709.5 723.0L718.0 718.7L728.3 715.3M664.2 695.6L663.3 689.6L661.6 684.5L668.4 679.3L673.6 673.4L678.7 665.7L683.8 661.4L689.8 664.8L691.5 660.5L688.1 654.5L688.1 649.4L687.6 645.5M738.1 649.6L740.3 649.9L745.4 658.8L748.8 667.4L753.1 675.9L746.3 682.8L744.6 687.0L749.7 690.5L747.1 693.0L740.3 694.7L735.2 699.0L729.2 701.6L728.3 707.6L728.3 715.3L730.9 720.4L731.7 726.4M753.1 675.9L758.3 676.8L764.2 681.9L771.1 683.6L773.7 686.2" fill="none" stroke="#808080" stroke-width="1.35" stroke-linejoin="round"/>
<path d="M75.1 346.0L79.4 344.5L82.0 341.9L84.5 347.0L89.7 350.5L94.0 355.1L97.7 360.2L97.7 364.1L103.9 362.8L106.8 366.2L110.2 368.8L111.4 374.7L111.4 380.7L114.1 381.2L114.8 387.1L123.0 387.9L123.9 383.3L121.0 380.2L120.5 375.6L124.7 375.1L127.3 379.0L134.7 380.4L137.6 385.9L139.3 389.3L135.9 394.4L129.9 397.8L126.5 402.1L123.4 407.3L119.1 408.6L121.0 414.1L120.0 420.9L118.8 426.9L120.0 431.2L116.2 434.3L113.6 439.8L111.9 443.5L117.0 446.3L123.0 444.0L131.9 444.0L133.6 451.7L134.2 458.6L137.6 464.6L141.9 470.6L142.4 474.8L134.2 479.1L129.9 482.9L122.2 484.2L122.2 484.2L118.2 491.0L114.0 498.4L116.5 503.8L122.5 506.4L120.8 510.7L116.0 515.5L120.8 517.2L126.8 517.2L131.9 520.9L132.8 526.4L141.3 524.9L149.9 522.3L159.3 521.5L165.3 519.6L173.0 522.7L177.3 527.4L185.0 526.9L189.2 529.0L197.8 530.9L205.5 534.3L215.7 529.5L226.0 529.5L229.4 526.9L233.7 520.1L240.6 518.4L244.8 513.8L252.5 511.5L261.1 510.7L270.5 507.6L278.5 506.9L276.4 500.1L276.8 492.4L279.3 485.5L279.3 478.7L275.6 475.3L276.8 469.3L281.1 461.6L289.6 457.3L295.6 454.7L296.1 449.6L299.0 442.8L305.9 439.3L311.0 435.9L316.1 429.4L318.7 434.2L325.5 435.1L332.4 435.6L335.0 440.2L337.9 442.4L332.4 447.0L330.3 451.3L330.3 458.2L330.7 463.3L328.1 464.7L325.5 460.2L321.8 464.2L322.6 468.4L319.6 473.6L315.3 476.1L317.0 480.4L320.4 483.8L321.3 487.3L317.8 492.4L315.3 499.2L314.9 506.1L312.7 512.1L308.4 513.8L306.7 519.8L307.6 524.9L311.9 526.3L319.6 527.5L324.7 530.9L329.0 536.0L333.2 542.0L334.1 548.8L331.5 556.5L329.0 562.5L325.5 568.5L326.4 576.2L328.2 576.8L330.8 584.5L329.9 590.5L326.5 595.7L327.4 600.5L334.2 601.7L341.9 602.5L348.8 601.3L354.7 597.0L365.0 596.5L369.3 599.9L372.7 604.2L379.6 607.6L385.5 611.1L393.2 611.9L397.5 614.5L400.9 621.3L405.2 629.0L406.1 634.2L411.2 635.9L416.3 635.9L417.7 643.6L423.2 644.4L430.0 644.4L435.2 646.1L441.1 647.0L447.1 643.6L451.4 648.7L457.4 655.5L464.2 659.8L465.1 664.1L460.8 670.9L459.1 676.1L461.4 680.7L467.4 679.0L470.5 673.4L478.5 676.5L485.3 680.7L491.3 686.7L495.6 691.9L497.3 698.7L500.7 703.8L499.0 709.0L503.3 715.0L504.2 720.1L500.2 724.4L504.2 728.6L506.7 733.3L511.0 729.5L518.7 728.1L525.5 726.4L529.0 722.3L532.4 719.2L537.5 719.6L542.7 722.7L546.1 726.9L547.8 730.4L550.4 726.1L551.2 719.2L554.6 713.2L559.8 709.3L565.7 709.0L571.7 712.4L578.6 713.8L585.4 712.4L590.6 711.5L591.4 706.4L595.3 704.2L600.0 707.3L605.1 710.3L608.5 713.2L610.3 715.3L614.5 713.6L615.4 719.6L617.1 723.8L622.2 729.0L628.2 732.4L635.9 732.4L644.5 732.4L649.6 735.0L653.9 739.2L654.7 746.9L657.3 752.9L664.2 752.6L670.1 754.3L674.4 755.5L677.0 751.2L680.4 748.1L684.7 749.5L689.0 752.9L692.4 752.9L692.4 746.9L697.5 744.4L700.1 737.5L705.2 736.7L708.6 730.7L713.8 728.6L724.9 729.0L733.4 727.3L740.3 729.8L745.4 735.8L750.6 738.4L749.7 740.9L754.0 742.7L760.8 746.9L767.7 747.8L770.2 750.4L777.1 748.2L782.2 746.5L786.5 743.1L789.9 745.7L794.2 748.2L798.5 748.2L802.8 752.5L807.9 755.1L814.7 760.2L819.9 761.9L825.9 767.9L820.7 771.3L820.7 775.6L825.9 779.9L833.6 783.0L835.3 788.4L838.7 791.9L837.8 796.1L835.3 799.6L829.3 797.0L828.4 800.4L832.7 805.5L837.0 808.1L835.3 812.4L841.3 818.4L847.3 822.7L853.2 827.8L859.2 831.2L858.4 836.3L856.7 842.3L861.8 841.8L865.2 845.7L864.0 850.9L866.1 856.9L869.5 859.4L874.6 857.7L877.2 864.6L873.8 868.8L871.2 873.1L873.8 878.3L878.9 882.5L884.9 881.7L891.7 881.7L896.9 884.2L902.0 886.8L907.1 889.4L911.4 886.8L910.9 880.0L914.8 876.5L914.8 870.6L911.4 867.1L908.8 862.0L912.3 857.7L916.5 857.7L919.1 861.1L924.2 862.0L929.4 860.3L932.8 856.9L937.9 857.7L940.5 862.0L943.9 865.4L948.2 862.9L953.3 866.3L957.6 870.6M608.4 711.9L613.6 708.5L619.6 704.2L625.5 699.1L625.5 693.1L620.4 693.1L618.7 690.6L622.1 687.1L624.7 682.0L626.4 675.2L629.8 669.2L635.8 666.6L635.8 657.2L629.8 653.8L625.5 649.5L626.4 643.5L630.7 638.4L628.1 635.0L624.7 629.8L620.4 629.8L613.6 629.0L611.9 622.1L607.6 613.6L603.3 605.9L598.2 598.2L591.3 597.3L589.6 589.6L588.8 581.1L590.5 574.2L592.2 564.8L599.0 562.2L599.0 558.0L593.0 554.5L587.9 550.3L590.5 545.1L594.7 540.0L591.7 543.7L595.9 535.2L596.8 524.9L601.9 522.3L606.2 518.0L613.0 516.3L615.6 511.2L611.3 505.2L612.2 499.2L618.2 494.1L620.7 485.5L620.7 477.0L625.9 471.0L631.9 465.0L633.6 456.5L640.4 449.6L647.3 443.6L649.8 435.9L652.4 427.4L659.2 425.7L669.5 422.8L671.2 428.2L677.2 431.7L682.3 431.7L685.7 427.4L691.7 426.5L696.9 429.9L700.3 435.1L702.0 435.9L703.7 428.2L708.8 424.0L717.4 422.2L716.5 415.4L714.8 408.6L712.3 404.3L714.0 400.0L714.4 399.4L720.4 396.0L723.8 390.0L730.7 385.7L738.4 383.1L744.4 382.3L747.8 377.1L746.9 370.3L749.5 364.3L752.9 358.3L758.9 357.5L764.0 360.9L768.3 363.4L772.6 360.9L777.7 358.3L782.0 356.6L782.9 351.5L778.6 346.3L773.4 342.9L769.2 337.8L763.2 331.8L766.6 325.8L770.0 319.0L770.9 312.1L773.4 305.3L772.6 297.6L767.5 295.9L763.2 293.3L762.3 287.3L765.7 282.2L760.6 279.6L753.8 276.2L749.5 277.0L742.7 274.5L735.8 276.2L729.0 278.8L725.5 273.6L722.1 266.8L717.8 264.2L719.6 259.9L715.3 257.4L713.6 250.5L717.8 246.3L723.0 242.8L727.3 236.8L731.5 233.4L735.8 230.9L733.8 232.8L735.5 228.5L739.8 223.4L741.8 219.1L739.8 216.5L732.9 217.4L726.1 214.8L719.2 214.8L715.0 219.1L713.2 214.8L714.1 210.6L710.7 209.7L713.2 204.6L709.8 196.9L705.5 191.7L702.1 183.2L697.8 176.3L695.3 172.9L688.4 172.9L683.3 173.8L675.6 171.2L673.0 175.5L670.5 172.1L673.9 167.8L674.7 162.7L669.6 160.1L667.0 157.2L666.8 157.2L668.5 154.6L670.2 149.5L665.1 145.2L660.0 141.8L655.7 137.5L660.0 133.2L665.1 134.1L669.4 130.7L670.2 123.0L668.5 117.8L672.8 114.4L679.6 111.9L683.9 115.3L687.3 106.7L688.2 100.7L685.6 94.7L687.3 87.9L689.9 81.9L679.6 81.1L677.9 78.5L672.8 76.8L667.7 75.1L666.8 69.9L665.1 64.8L668.5 58.8L670.2 52.3L664.2 52.0L657.4 52.3L652.3 53.7L648.8 50.3L643.7 51.1L638.6 54.5L632.6 56.3L630.9 52.8L634.3 46.0L635.2 43.4M666.8 157.2L660.8 157.2L650.6 155.5L642.0 157.2L633.4 158.6L627.5 152.9L621.5 155.5L613.8 154.3L607.8 156.3L601.8 151.2L596.7 145.2L592.4 146.9L587.3 151.2L583.0 155.0L576.1 155.5L572.7 157.2L571.5 155.5L573.6 149.5L575.3 142.7L574.9 135.8L568.4 130.7L560.7 125.5L559.0 118.7L558.5 111.9L559.9 105.0L564.2 100.7L570.1 99.9L572.7 93.9L576.1 87.9L582.1 86.2L584.7 79.3L589.0 70.8L591.5 65.7L587.3 63.1L582.1 62.2L584.7 57.1L589.0 52.8L593.2 46.8L595.0 43.4M667.0 157.2L668.8 164.4L671.3 172.1L673.9 175.0M702.0 435.9L706.3 436.8L705.4 441.1L699.4 441.9L701.1 444.5L701.1 451.3L700.3 459.0L696.9 468.4L696.0 477.8L699.4 483.8L700.3 492.4L703.7 496.7L702.0 504.4L706.3 509.5L710.6 513.8L712.3 520.6L717.4 521.5L720.0 527.5L726.0 529.2L728.5 535.2L726.8 542.0L730.2 547.1L732.8 554.0L738.8 560.0L745.6 562.5L749.9 566.8L754.2 565.1L756.7 572.8L757.6 579.6L757.5 578.4L761.8 575.0L766.1 573.2L770.4 576.7L776.3 584.4L782.3 588.6L789.2 591.2L795.2 590.4L800.3 586.9L805.4 590.4L812.3 592.1L816.5 591.2L815.7 595.5L812.3 599.8L813.1 605.7L814.0 611.7L810.6 616.9L810.2 623.7L811.4 630.6L808.8 635.7L803.7 642.5L796.9 646.0L792.6 651.9L788.3 658.8L792.5 664.0L789.9 672.5L784.8 681.1L777.9 685.9L772.8 689.6L774.5 695.6L771.1 694.7L767.7 699.0L771.9 701.6L774.5 705.9L771.1 711.0L767.7 717.0L768.5 725.5L770.2 734.1L770.7 742.7L770.2 750.4" fill="none" stroke="#000" stroke-width="2.9" stroke-linejoin="round" stroke-linecap="round"/>

<circle cx="517.3" cy="541" r="512" fill="none" stroke="#808080" stroke-width="4.2"/>
<circle cx="517.9" cy="543.3" r="5.4" fill="#ff0000" stroke="#000" stroke-width="1"/>
</g>
<rect x="75.5" y="45.5" width="881.0" height="1000.8" fill="none" stroke="#000" stroke-width="1.1"/>
<rect x="88.4" y="55.5" width="247.4" height="70.4" fill="#fff" fill-opacity="0.88" stroke="#000" stroke-width="1.1"/>
<text transform="translate(93.6 75.3) scale(1 1.08)" font-size="16.67">Product: 0.5° Radial Velocity</text>
<text transform="translate(93.6 96.2) scale(1 1.08)" font-size="16.67">Range: 125 km</text>
<text transform="translate(93.6 117.1) scale(1 1.08)" font-size="16.67">Data: RMIB</text>
<text transform="translate(515.8 37.9) scale(1.008 1.03)" font-size="34.72" text-anchor="middle">16.10.2025 09:13 UTC</text>
<text transform="translate(222.0 1067.7) scale(1.02 1.08)" font-size="16.67" text-anchor="middle">4.5°E</text>
<text transform="translate(368.9 1067.7) scale(1.02 1.08)" font-size="16.67" text-anchor="middle">5°E</text>
<text transform="translate(515.7 1067.7) scale(1.02 1.08)" font-size="16.67" text-anchor="middle">5.5°E</text>
<text transform="translate(662.5 1067.7) scale(1.02 1.08)" font-size="16.67" text-anchor="middle">6°E</text>
<text transform="translate(809.4 1067.7) scale(1.02 1.08)" font-size="16.67" text-anchor="middle">6.5°E</text>
<text transform="translate(67.6 191.1) scale(1.0 1.08)" font-size="16.67" text-anchor="end">50.7°N</text>
<text transform="translate(67.6 329.4) scale(1.0 1.08)" font-size="16.67" text-anchor="end">50.4°N</text>
<text transform="translate(67.6 466.9) scale(1.0 1.08)" font-size="16.67" text-anchor="end">50.1°N</text>
<text transform="translate(67.6 603.5) scale(1.0 1.08)" font-size="16.67" text-anchor="end">49.8°N</text>
<text transform="translate(67.6 739.2) scale(1.0 1.08)" font-size="16.67" text-anchor="end">49.5°N</text>
<text transform="translate(67.6 874.1) scale(1.0 1.08)" font-size="16.67" text-anchor="end">49.2°N</text>
<text transform="translate(67.6 1008.2) scale(1.0 1.08)" font-size="16.67" text-anchor="end">48.9°N</text>
<rect x="1014.5" y="95.50" width="45.0" height="15.41" fill="#FF9E5E"/>
<rect x="1014.5" y="110.51" width="45.0" height="15.41" fill="#FFA766"/>
<rect x="1014.5" y="125.53" width="45.0" height="15.41" fill="#FFB06E"/>
<rect x="1014.5" y="140.54" width="45.0" height="15.41" fill="#FFB976"/>
<rect x="1014.5" y="155.55" width="45.0" height="15.41" fill="#FFC27E"/>
<rect x="1014.5" y="170.57" width="45.0" height="15.41" fill="#FFCD8A"/>
<rect x="1014.5" y="185.58" width="45.0" height="15.41" fill="#FFE3A0"/>
<rect x="1014.5" y="200.59" width="45.0" height="15.41" fill="#FFD2B0"/>
<rect x="1014.5" y="215.61" width="45.0" height="15.41" fill="#FFBABA"/>
<rect x="1014.5" y="230.62" width="45.0" height="15.41" fill="#FFA2CC"/>
<rect x="1014.5" y="245.63" width="45.0" height="15.41" fill="#FF88D0"/>
<rect x="1014.5" y="260.65" width="45.0" height="15.41" fill="#FF78B8"/>
<rect x="1014.5" y="275.66" width="45.0" height="15.41" fill="#FF6A9C"/>
<rect x="1014.5" y="290.67" width="45.0" height="15.41" fill="#FF5C84"/>
<rect x="1014.5" y="305.69" width="45.0" height="15.41" fill="#FF4E70"/>
<rect x="1014.5" y="320.70" width="45.0" height="15.41" fill="#FF4060"/>
<rect x="1014.5" y="335.71" width="45.0" height="15.41" fill="#F80008"/>
<rect x="1014.5" y="350.73" width="45.0" height="15.41" fill="#EC0008"/>
<rect x="1014.5" y="365.74" width="45.0" height="15.41" fill="#E00006"/>
<rect x="1014.5" y="380.75" width="45.0" height="15.41" fill="#D40006"/>
<rect x="1014.5" y="395.77" width="45.0" height="15.41" fill="#C80004"/>
<rect x="1014.5" y="410.78" width="45.0" height="15.41" fill="#BA0004"/>
<rect x="1014.5" y="425.79" width="45.0" height="15.41" fill="#AC0002"/>
<rect x="1014.5" y="440.81" width="45.0" height="15.41" fill="#9C0002"/>
<rect x="1014.5" y="455.82" width="45.0" height="15.41" fill="#880000"/>
<rect x="1014.5" y="470.83" width="45.0" height="15.41" fill="#720000"/>
<rect x="1014.5" y="485.85" width="45.0" height="15.41" fill="#844650"/>
<rect x="1014.5" y="500.86" width="45.0" height="15.41" fill="#865864"/>
<rect x="1014.5" y="515.87" width="45.0" height="15.41" fill="#866A74"/>
<rect x="1014.5" y="530.89" width="45.0" height="15.41" fill="#887C7C"/>
<rect x="1014.5" y="545.90" width="45.0" height="15.41" fill="#6E8470"/>
<rect x="1014.5" y="560.91" width="45.0" height="15.41" fill="#648066"/>
<rect x="1014.5" y="575.93" width="45.0" height="15.41" fill="#5A7C5C"/>
<rect x="1014.5" y="590.94" width="45.0" height="15.41" fill="#006000"/>
<rect x="1014.5" y="605.95" width="45.0" height="15.41" fill="#006A00"/>
<rect x="1014.5" y="620.97" width="45.0" height="15.41" fill="#007600"/>
<rect x="1014.5" y="635.98" width="45.0" height="15.41" fill="#008200"/>
<rect x="1014.5" y="650.99" width="45.0" height="15.41" fill="#008E00"/>
<rect x="1014.5" y="666.01" width="45.0" height="15.41" fill="#009C00"/>
<rect x="1014.5" y="681.02" width="45.0" height="15.41" fill="#00AA00"/>
<rect x="1014.5" y="696.03" width="45.0" height="15.41" fill="#00BA00"/>
<rect x="1014.5" y="711.05" width="45.0" height="15.41" fill="#00CA00"/>
<rect x="1014.5" y="726.06" width="45.0" height="15.41" fill="#00DA00"/>
<rect x="1014.5" y="741.07" width="45.0" height="15.41" fill="#00EC00"/>
<rect x="1014.5" y="756.09" width="45.0" height="15.41" fill="#20FA20"/>
<rect x="1014.5" y="771.10" width="45.0" height="15.41" fill="#48F250"/>
<rect x="1014.5" y="786.11" width="45.0" height="15.41" fill="#62F074"/>
<rect x="1014.5" y="801.13" width="45.0" height="15.41" fill="#92F0B4"/>
<rect x="1014.5" y="816.14" width="45.0" height="15.41" fill="#BCEEEE"/>
<rect x="1014.5" y="831.15" width="45.0" height="15.41" fill="#ACECEC"/>
<rect x="1014.5" y="846.17" width="45.0" height="15.41" fill="#9CEAEA"/>
<rect x="1014.5" y="861.18" width="45.0" height="15.41" fill="#8CE8E8"/>
<rect x="1014.5" y="876.19" width="45.0" height="15.41" fill="#7CE6E6"/>
<rect x="1014.5" y="891.21" width="45.0" height="15.41" fill="#6CE4E4"/>
<rect x="1014.5" y="906.22" width="45.0" height="15.41" fill="#56E2E2"/>
<rect x="1014.5" y="921.23" width="45.0" height="15.41" fill="#42E0E0"/>
<rect x="1014.5" y="936.25" width="45.0" height="15.41" fill="#30DEDE"/>
<rect x="1014.5" y="951.26" width="45.0" height="15.41" fill="#28B6D2"/>
<rect x="1014.5" y="966.27" width="45.0" height="15.41" fill="#2498C8"/>
<rect x="1014.5" y="981.29" width="45.0" height="15.01" fill="#2080C0"/>
<rect x="1014.5" y="95.5" width="45.0" height="900.8" fill="none" stroke="#000" stroke-width="1.1"/>
<text transform="translate(1069.6 106.4) scale(1.005 1.045)" font-size="27.78">60</text>
<text transform="translate(1069.6 181.5) scale(1.005 1.045)" font-size="27.78">50</text>
<text transform="translate(1069.6 256.5) scale(1.005 1.045)" font-size="27.78">40</text>
<text transform="translate(1069.6 331.6) scale(1.005 1.045)" font-size="27.78">30</text>
<text transform="translate(1069.6 406.7) scale(1.005 1.045)" font-size="27.78">20</text>
<text transform="translate(1069.6 481.7) scale(1.005 1.045)" font-size="27.78">10</text>
<text transform="translate(1069.6 556.8) scale(1.005 1.045)" font-size="27.78">0</text>
<text transform="translate(1069.6 631.9) scale(1.005 1.045)" font-size="27.78">−10</text>
<text transform="translate(1069.6 706.9) scale(1.005 1.045)" font-size="27.78">−20</text>
<text transform="translate(1069.6 782.0) scale(1.005 1.045)" font-size="27.78">−30</text>
<text transform="translate(1069.6 857.1) scale(1.005 1.045)" font-size="27.78">−40</text>
<text transform="translate(1069.6 932.1) scale(1.005 1.045)" font-size="27.78">−50</text>
<text transform="translate(1069.6 1007.2) scale(1.005 1.045)" font-size="27.78">−60</text>
<path d="M1059.5 95.50h5M1059.5 170.57h5M1059.5 245.63h5M1059.5 320.70h5M1059.5 395.77h5M1059.5 470.83h5M1059.5 545.90h5M1059.5 620.97h5M1059.5 696.03h5M1059.5 771.10h5M1059.5 846.17h5M1059.5 921.23h5M1059.5 996.30h5" stroke="#000" stroke-width="1.1" fill="none"/>
<text transform="translate(1157.7 548.8) rotate(-90) scale(1.01 1.03)" font-size="27.78" text-anchor="middle">m/s</text>
</svg></body></html>
